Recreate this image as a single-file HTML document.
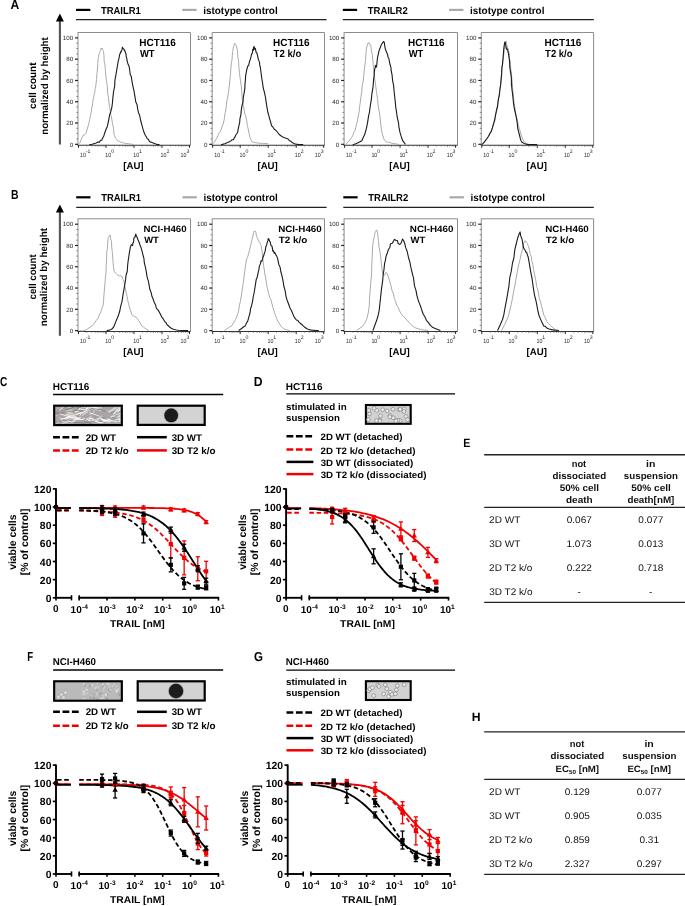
<!DOCTYPE html>
<html><head><meta charset="utf-8"><title>Figure</title>
<style>html,body{margin:0;padding:0;background:#fff;width:685px;height:906px;overflow:hidden}svg{display:block;will-change:transform;text-rendering:geometricPrecision}text{font-family:"Liberation Sans", sans-serif}</style>
</head><body>
<svg width="685" height="906" viewBox="0 0 685 906" font-family='"Liberation Sans", sans-serif'><text x="10.50" y="8.80" font-size="13" font-weight="bold" textLength="8.73" lengthAdjust="spacingAndGlyphs" fill="#000">A</text>
<line x1="59.90" y1="20.50" x2="59.90" y2="144.50" stroke="#555" stroke-width="2.1" stroke-linecap="butt"/>
<path d="M59.9,13.5 L55.9,21.5 L63.9,21.5 Z" stroke="none" stroke-width="1" fill="#000" />
<text transform="translate(35.80,108.90) rotate(-90)" x="0" y="0" font-size="10.0" font-weight="bold" textLength="46.42" lengthAdjust="spacingAndGlyphs" fill="#000">cell count</text>
<text transform="translate(47.90,134.83) rotate(-90)" x="0" y="0" font-size="10.0" font-weight="bold" textLength="97.64" lengthAdjust="spacingAndGlyphs" fill="#000">normalized by height</text>
<line x1="76.00" y1="9.90" x2="90.30" y2="9.90" stroke="#000" stroke-width="2.2" stroke-linecap="butt"/>
<text x="101.01" y="13.60" font-size="10.2" font-weight="bold" textLength="39.75" lengthAdjust="spacingAndGlyphs" fill="#000">TRAILR1</text>
<line x1="182.30" y1="9.90" x2="196.60" y2="9.90" stroke="#aaaaaa" stroke-width="2.2" stroke-linecap="butt"/>
<text x="203.21" y="13.60" font-size="10.2" font-weight="bold" textLength="74.45" lengthAdjust="spacingAndGlyphs" fill="#000">istotype control</text>
<line x1="76.00" y1="19.60" x2="326.60" y2="19.60" stroke="#222" stroke-width="1.3" stroke-linecap="butt"/>
<line x1="342.80" y1="9.90" x2="357.10" y2="9.90" stroke="#000" stroke-width="2.2" stroke-linecap="butt"/>
<text x="367.81" y="13.60" font-size="10.2" font-weight="bold" textLength="39.89" lengthAdjust="spacingAndGlyphs" fill="#000">TRAILR2</text>
<line x1="449.10" y1="9.90" x2="463.40" y2="9.90" stroke="#aaaaaa" stroke-width="2.2" stroke-linecap="butt"/>
<text x="470.01" y="13.60" font-size="10.2" font-weight="bold" textLength="74.45" lengthAdjust="spacingAndGlyphs" fill="#000">istotype control</text>
<line x1="342.80" y1="19.60" x2="593.80" y2="19.60" stroke="#222" stroke-width="1.3" stroke-linecap="butt"/>
<line x1="78.00" y1="32.50" x2="190.50" y2="32.50" stroke="#8c8c8c" stroke-width="1" stroke-linecap="butt"/>
<line x1="190.50" y1="32.50" x2="190.50" y2="145.20" stroke="#8c8c8c" stroke-width="1" stroke-linecap="butt"/>
<line x1="78.00" y1="32.00" x2="78.00" y2="145.20" stroke="#999" stroke-width="1.1" stroke-linecap="butt"/>
<line x1="77.50" y1="145.20" x2="190.50" y2="145.20" stroke="#333" stroke-width="1.1" stroke-linecap="butt"/>
<line x1="75.00" y1="144.30" x2="78.00" y2="144.30" stroke="#222" stroke-width="1.2" stroke-linecap="butt"/>
<text x="69.68" y="146.50" font-size="6.2" fill="#2a2a2a">0</text>
<line x1="76.40" y1="138.98" x2="78.00" y2="138.98" stroke="#666" stroke-width="0.8" stroke-linecap="butt"/>
<line x1="76.40" y1="133.66" x2="78.00" y2="133.66" stroke="#666" stroke-width="0.8" stroke-linecap="butt"/>
<line x1="76.40" y1="128.34" x2="78.00" y2="128.34" stroke="#666" stroke-width="0.8" stroke-linecap="butt"/>
<line x1="75.00" y1="123.02" x2="78.00" y2="123.02" stroke="#222" stroke-width="1.2" stroke-linecap="butt"/>
<text x="66.23" y="125.22" font-size="6.2" fill="#2a2a2a">20</text>
<line x1="76.40" y1="117.70" x2="78.00" y2="117.70" stroke="#666" stroke-width="0.8" stroke-linecap="butt"/>
<line x1="76.40" y1="112.38" x2="78.00" y2="112.38" stroke="#666" stroke-width="0.8" stroke-linecap="butt"/>
<line x1="76.40" y1="107.06" x2="78.00" y2="107.06" stroke="#666" stroke-width="0.8" stroke-linecap="butt"/>
<line x1="75.00" y1="101.74" x2="78.00" y2="101.74" stroke="#222" stroke-width="1.2" stroke-linecap="butt"/>
<text x="66.24" y="103.94" font-size="6.2" fill="#2a2a2a">40</text>
<line x1="76.40" y1="96.42" x2="78.00" y2="96.42" stroke="#666" stroke-width="0.8" stroke-linecap="butt"/>
<line x1="76.40" y1="91.10" x2="78.00" y2="91.10" stroke="#666" stroke-width="0.8" stroke-linecap="butt"/>
<line x1="76.40" y1="85.78" x2="78.00" y2="85.78" stroke="#666" stroke-width="0.8" stroke-linecap="butt"/>
<line x1="75.00" y1="80.46" x2="78.00" y2="80.46" stroke="#222" stroke-width="1.2" stroke-linecap="butt"/>
<text x="66.23" y="82.66" font-size="6.2" fill="#2a2a2a">60</text>
<line x1="76.40" y1="75.14" x2="78.00" y2="75.14" stroke="#666" stroke-width="0.8" stroke-linecap="butt"/>
<line x1="76.40" y1="69.82" x2="78.00" y2="69.82" stroke="#666" stroke-width="0.8" stroke-linecap="butt"/>
<line x1="76.40" y1="64.50" x2="78.00" y2="64.50" stroke="#666" stroke-width="0.8" stroke-linecap="butt"/>
<line x1="75.00" y1="59.18" x2="78.00" y2="59.18" stroke="#222" stroke-width="1.2" stroke-linecap="butt"/>
<text x="66.24" y="61.38" font-size="6.2" fill="#2a2a2a">80</text>
<line x1="76.40" y1="53.86" x2="78.00" y2="53.86" stroke="#666" stroke-width="0.8" stroke-linecap="butt"/>
<line x1="76.40" y1="48.54" x2="78.00" y2="48.54" stroke="#666" stroke-width="0.8" stroke-linecap="butt"/>
<line x1="76.40" y1="43.22" x2="78.00" y2="43.22" stroke="#666" stroke-width="0.8" stroke-linecap="butt"/>
<line x1="75.00" y1="37.90" x2="78.00" y2="37.90" stroke="#222" stroke-width="1.2" stroke-linecap="butt"/>
<text x="62.79" y="40.10" font-size="6.2" fill="#2a2a2a">100</text>
<line x1="78.50" y1="145.20" x2="78.50" y2="147.80" stroke="#222" stroke-width="1" stroke-linecap="butt"/>
<line x1="86.85" y1="145.20" x2="86.85" y2="146.40" stroke="#555" stroke-width="0.7" stroke-linecap="butt"/>
<line x1="91.74" y1="145.20" x2="91.74" y2="146.40" stroke="#555" stroke-width="0.7" stroke-linecap="butt"/>
<line x1="95.21" y1="145.20" x2="95.21" y2="146.40" stroke="#555" stroke-width="0.7" stroke-linecap="butt"/>
<line x1="97.90" y1="145.20" x2="97.90" y2="146.80" stroke="#555" stroke-width="0.7" stroke-linecap="butt"/>
<line x1="100.09" y1="145.20" x2="100.09" y2="146.40" stroke="#555" stroke-width="0.7" stroke-linecap="butt"/>
<line x1="101.95" y1="145.20" x2="101.95" y2="146.40" stroke="#555" stroke-width="0.7" stroke-linecap="butt"/>
<line x1="103.56" y1="145.20" x2="103.56" y2="146.40" stroke="#555" stroke-width="0.7" stroke-linecap="butt"/>
<line x1="104.98" y1="145.20" x2="104.98" y2="146.40" stroke="#555" stroke-width="0.7" stroke-linecap="butt"/>
<line x1="106.00" y1="145.20" x2="106.00" y2="147.80" stroke="#222" stroke-width="1" stroke-linecap="butt"/>
<line x1="114.35" y1="145.20" x2="114.35" y2="146.40" stroke="#555" stroke-width="0.7" stroke-linecap="butt"/>
<line x1="119.24" y1="145.20" x2="119.24" y2="146.40" stroke="#555" stroke-width="0.7" stroke-linecap="butt"/>
<line x1="122.71" y1="145.20" x2="122.71" y2="146.40" stroke="#555" stroke-width="0.7" stroke-linecap="butt"/>
<line x1="125.40" y1="145.20" x2="125.40" y2="146.80" stroke="#555" stroke-width="0.7" stroke-linecap="butt"/>
<line x1="127.59" y1="145.20" x2="127.59" y2="146.40" stroke="#555" stroke-width="0.7" stroke-linecap="butt"/>
<line x1="129.45" y1="145.20" x2="129.45" y2="146.40" stroke="#555" stroke-width="0.7" stroke-linecap="butt"/>
<line x1="131.06" y1="145.20" x2="131.06" y2="146.40" stroke="#555" stroke-width="0.7" stroke-linecap="butt"/>
<line x1="132.48" y1="145.20" x2="132.48" y2="146.40" stroke="#555" stroke-width="0.7" stroke-linecap="butt"/>
<line x1="134.00" y1="145.20" x2="134.00" y2="147.80" stroke="#222" stroke-width="1" stroke-linecap="butt"/>
<line x1="142.35" y1="145.20" x2="142.35" y2="146.40" stroke="#555" stroke-width="0.7" stroke-linecap="butt"/>
<line x1="147.24" y1="145.20" x2="147.24" y2="146.40" stroke="#555" stroke-width="0.7" stroke-linecap="butt"/>
<line x1="150.71" y1="145.20" x2="150.71" y2="146.40" stroke="#555" stroke-width="0.7" stroke-linecap="butt"/>
<line x1="153.40" y1="145.20" x2="153.40" y2="146.80" stroke="#555" stroke-width="0.7" stroke-linecap="butt"/>
<line x1="155.59" y1="145.20" x2="155.59" y2="146.40" stroke="#555" stroke-width="0.7" stroke-linecap="butt"/>
<line x1="157.45" y1="145.20" x2="157.45" y2="146.40" stroke="#555" stroke-width="0.7" stroke-linecap="butt"/>
<line x1="159.06" y1="145.20" x2="159.06" y2="146.40" stroke="#555" stroke-width="0.7" stroke-linecap="butt"/>
<line x1="160.48" y1="145.20" x2="160.48" y2="146.40" stroke="#555" stroke-width="0.7" stroke-linecap="butt"/>
<line x1="162.00" y1="145.20" x2="162.00" y2="147.80" stroke="#222" stroke-width="1" stroke-linecap="butt"/>
<line x1="170.35" y1="145.20" x2="170.35" y2="146.40" stroke="#555" stroke-width="0.7" stroke-linecap="butt"/>
<line x1="175.24" y1="145.20" x2="175.24" y2="146.40" stroke="#555" stroke-width="0.7" stroke-linecap="butt"/>
<line x1="178.71" y1="145.20" x2="178.71" y2="146.40" stroke="#555" stroke-width="0.7" stroke-linecap="butt"/>
<line x1="181.40" y1="145.20" x2="181.40" y2="146.80" stroke="#555" stroke-width="0.7" stroke-linecap="butt"/>
<line x1="183.59" y1="145.20" x2="183.59" y2="146.40" stroke="#555" stroke-width="0.7" stroke-linecap="butt"/>
<line x1="185.45" y1="145.20" x2="185.45" y2="146.40" stroke="#555" stroke-width="0.7" stroke-linecap="butt"/>
<line x1="187.06" y1="145.20" x2="187.06" y2="146.40" stroke="#555" stroke-width="0.7" stroke-linecap="butt"/>
<line x1="188.48" y1="145.20" x2="188.48" y2="146.40" stroke="#555" stroke-width="0.7" stroke-linecap="butt"/>
<line x1="189.50" y1="145.20" x2="189.50" y2="147.80" stroke="#222" stroke-width="1" stroke-linecap="butt"/>
<text x="80.00" y="157.00" font-size="6.2" textLength="5.90" lengthAdjust="spacingAndGlyphs" fill="#2a2a2a">10</text>
<text x="85.87" y="152.80" font-size="5.2" fill="#2a2a2a">-1</text>
<text x="105.30" y="157.00" font-size="6.2" textLength="5.90" lengthAdjust="spacingAndGlyphs" fill="#2a2a2a">10</text>
<text x="111.19" y="152.80" font-size="5.2" fill="#2a2a2a">0</text>
<text x="133.30" y="157.00" font-size="6.2" textLength="5.90" lengthAdjust="spacingAndGlyphs" fill="#2a2a2a">10</text>
<text x="139.01" y="152.80" font-size="5.2" fill="#2a2a2a">1</text>
<text x="160.60" y="157.00" font-size="6.2" textLength="5.90" lengthAdjust="spacingAndGlyphs" fill="#2a2a2a">10</text>
<text x="166.44" y="152.80" font-size="5.2" fill="#2a2a2a">2</text>
<text x="180.60" y="157.00" font-size="6.2" textLength="5.90" lengthAdjust="spacingAndGlyphs" fill="#2a2a2a">10</text>
<text x="186.49" y="152.80" font-size="5.2" fill="#2a2a2a">3</text>
<text x="123.27" y="169.00" font-size="9.7" font-weight="bold" textLength="20.31" lengthAdjust="spacingAndGlyphs" fill="#000">[AU]</text>
<text x="139.25" y="45.80" font-size="10.3" font-weight="bold" textLength="36.63" lengthAdjust="spacingAndGlyphs" fill="#000">HCT116</text>
<text x="139.90" y="57.40" font-size="10.3" font-weight="bold" textLength="14.69" lengthAdjust="spacingAndGlyphs" fill="#000">WT</text>
<path d="M79.6,143.7 L80.0,142.6 L80.8,140.7 L81.2,139.3 L82.1,137.4 L82.9,136.1 L83.2,135.0 L84.0,135.3 L84.4,135.0 L85.5,134.2 L86.3,132.6 L86.7,130.8 L87.9,126.9 L88.7,124.2 L89.6,119.7 L90.4,115.8 L91.2,112.4 L91.8,108.0 L92.6,103.8 L93.0,99.9 L93.8,97.0 L94.2,93.9 L94.9,92.1 L95.1,88.7 L95.7,87.0 L96.0,84.1 L96.5,79.6 L96.9,73.6 L97.5,69.0 L97.8,63.4 L98.1,58.6 L98.5,57.3 L98.9,54.3 L99.3,54.0 L99.5,52.5 L100.0,51.7 L100.2,50.7 L100.5,49.7 L101.2,48.2 L101.6,49.5 L101.7,48.3 L102.5,48.6 L102.6,49.4 L102.8,50.1 L103.5,50.7 L103.6,52.9 L104.0,55.5 L104.1,60.8 L105.0,65.1 L105.4,70.3 L105.8,75.2 L106.4,80.2 L107.2,85.4 L107.6,92.2 L108.4,98.0 L109.0,103.0 L109.8,107.8 L110.4,112.0 L110.9,115.3 L111.8,119.1 L112.5,123.3 L113.2,126.7 L113.7,129.6 L113.9,133.2 L114.6,135.5 L115.6,138.4 L116.8,139.5 L117.7,140.8 L119.2,141.3 L120.7,142.1 L122.3,142.6 L124.4,143.2 L126.9,143.6 L129.4,143.9 L131.6,144.2 L133.2,144.4" stroke="#a9a9a9" stroke-width="1.0" fill="none" stroke-linejoin="round"/>
<path d="M89.4,144.6 L90.5,144.5 L92.0,144.2 L93.8,143.7 L95.6,143.2 L97.1,142.6 L98.3,142.0 L99.7,142.1 L100.3,140.3 L101.7,140.2 L102.5,138.4 L103.8,136.0 L104.6,133.2 L105.9,129.8 L107.2,126.7 L108.0,123.6 L108.8,119.3 L109.6,115.0 L110.7,111.9 L111.8,107.6 L112.4,103.2 L112.9,97.4 L113.6,91.5 L114.7,85.8 L114.9,80.3 L115.8,75.7 L116.6,70.9 L117.2,67.1 L118.0,62.5 L118.2,61.1 L119.1,57.9 L119.5,55.0 L120.2,53.6 L120.5,52.5 L121.0,51.2 L121.2,51.9 L121.9,49.9 L122.1,49.4 L122.4,47.1 L122.8,48.1 L123.3,48.6 L123.7,49.1 L124.3,50.1 L124.7,50.0 L125.1,51.8 L125.4,52.3 L126.1,54.3 L126.1,56.1 L126.8,58.4 L127.0,60.5 L127.5,62.3 L128.2,64.6 L129.1,66.4 L129.6,69.3 L130.2,74.5 L131.2,76.2 L131.8,80.1 L132.2,82.7 L133.0,86.6 L133.8,90.0 L134.4,93.4 L135.0,96.9 L135.8,102.1 L137.0,104.4 L137.6,108.3 L138.5,112.9 L139.5,114.8 L140.5,119.5 L141.2,122.4 L142.1,125.8 L143.2,129.9 L144.2,132.7 L145.2,135.0 L146.1,136.6 L147.2,138.6 L148.5,139.5 L149.6,141.7 L151.2,142.1 L152.6,142.7 L153.9,143.2 L155.1,143.7 L156.2,144.1 L157.2,144.4 L158.2,144.6 L158.9,144.6 L159.5,144.6" stroke="#1a1a1a" stroke-width="1.1" fill="none" stroke-linejoin="round"/>
<line x1="212.20" y1="32.50" x2="324.50" y2="32.50" stroke="#8c8c8c" stroke-width="1" stroke-linecap="butt"/>
<line x1="324.50" y1="32.50" x2="324.50" y2="145.20" stroke="#8c8c8c" stroke-width="1" stroke-linecap="butt"/>
<line x1="212.20" y1="32.00" x2="212.20" y2="145.20" stroke="#999" stroke-width="1.1" stroke-linecap="butt"/>
<line x1="211.70" y1="145.20" x2="324.50" y2="145.20" stroke="#333" stroke-width="1.1" stroke-linecap="butt"/>
<line x1="209.20" y1="144.30" x2="212.20" y2="144.30" stroke="#222" stroke-width="1.2" stroke-linecap="butt"/>
<text x="203.88" y="146.50" font-size="6.2" fill="#2a2a2a">0</text>
<line x1="210.60" y1="138.98" x2="212.20" y2="138.98" stroke="#666" stroke-width="0.8" stroke-linecap="butt"/>
<line x1="210.60" y1="133.66" x2="212.20" y2="133.66" stroke="#666" stroke-width="0.8" stroke-linecap="butt"/>
<line x1="210.60" y1="128.34" x2="212.20" y2="128.34" stroke="#666" stroke-width="0.8" stroke-linecap="butt"/>
<line x1="209.20" y1="123.02" x2="212.20" y2="123.02" stroke="#222" stroke-width="1.2" stroke-linecap="butt"/>
<text x="200.44" y="125.22" font-size="6.2" fill="#2a2a2a">20</text>
<line x1="210.60" y1="117.70" x2="212.20" y2="117.70" stroke="#666" stroke-width="0.8" stroke-linecap="butt"/>
<line x1="210.60" y1="112.38" x2="212.20" y2="112.38" stroke="#666" stroke-width="0.8" stroke-linecap="butt"/>
<line x1="210.60" y1="107.06" x2="212.20" y2="107.06" stroke="#666" stroke-width="0.8" stroke-linecap="butt"/>
<line x1="209.20" y1="101.74" x2="212.20" y2="101.74" stroke="#222" stroke-width="1.2" stroke-linecap="butt"/>
<text x="200.44" y="103.94" font-size="6.2" fill="#2a2a2a">40</text>
<line x1="210.60" y1="96.42" x2="212.20" y2="96.42" stroke="#666" stroke-width="0.8" stroke-linecap="butt"/>
<line x1="210.60" y1="91.10" x2="212.20" y2="91.10" stroke="#666" stroke-width="0.8" stroke-linecap="butt"/>
<line x1="210.60" y1="85.78" x2="212.20" y2="85.78" stroke="#666" stroke-width="0.8" stroke-linecap="butt"/>
<line x1="209.20" y1="80.46" x2="212.20" y2="80.46" stroke="#222" stroke-width="1.2" stroke-linecap="butt"/>
<text x="200.44" y="82.66" font-size="6.2" fill="#2a2a2a">60</text>
<line x1="210.60" y1="75.14" x2="212.20" y2="75.14" stroke="#666" stroke-width="0.8" stroke-linecap="butt"/>
<line x1="210.60" y1="69.82" x2="212.20" y2="69.82" stroke="#666" stroke-width="0.8" stroke-linecap="butt"/>
<line x1="210.60" y1="64.50" x2="212.20" y2="64.50" stroke="#666" stroke-width="0.8" stroke-linecap="butt"/>
<line x1="209.20" y1="59.18" x2="212.20" y2="59.18" stroke="#222" stroke-width="1.2" stroke-linecap="butt"/>
<text x="200.44" y="61.38" font-size="6.2" fill="#2a2a2a">80</text>
<line x1="210.60" y1="53.86" x2="212.20" y2="53.86" stroke="#666" stroke-width="0.8" stroke-linecap="butt"/>
<line x1="210.60" y1="48.54" x2="212.20" y2="48.54" stroke="#666" stroke-width="0.8" stroke-linecap="butt"/>
<line x1="210.60" y1="43.22" x2="212.20" y2="43.22" stroke="#666" stroke-width="0.8" stroke-linecap="butt"/>
<line x1="209.20" y1="37.90" x2="212.20" y2="37.90" stroke="#222" stroke-width="1.2" stroke-linecap="butt"/>
<text x="196.99" y="40.10" font-size="6.2" fill="#2a2a2a">100</text>
<line x1="212.70" y1="145.20" x2="212.70" y2="147.80" stroke="#222" stroke-width="1" stroke-linecap="butt"/>
<line x1="221.05" y1="145.20" x2="221.05" y2="146.40" stroke="#555" stroke-width="0.7" stroke-linecap="butt"/>
<line x1="225.94" y1="145.20" x2="225.94" y2="146.40" stroke="#555" stroke-width="0.7" stroke-linecap="butt"/>
<line x1="229.41" y1="145.20" x2="229.41" y2="146.40" stroke="#555" stroke-width="0.7" stroke-linecap="butt"/>
<line x1="232.10" y1="145.20" x2="232.10" y2="146.80" stroke="#555" stroke-width="0.7" stroke-linecap="butt"/>
<line x1="234.29" y1="145.20" x2="234.29" y2="146.40" stroke="#555" stroke-width="0.7" stroke-linecap="butt"/>
<line x1="236.15" y1="145.20" x2="236.15" y2="146.40" stroke="#555" stroke-width="0.7" stroke-linecap="butt"/>
<line x1="237.76" y1="145.20" x2="237.76" y2="146.40" stroke="#555" stroke-width="0.7" stroke-linecap="butt"/>
<line x1="239.18" y1="145.20" x2="239.18" y2="146.40" stroke="#555" stroke-width="0.7" stroke-linecap="butt"/>
<line x1="240.20" y1="145.20" x2="240.20" y2="147.80" stroke="#222" stroke-width="1" stroke-linecap="butt"/>
<line x1="248.55" y1="145.20" x2="248.55" y2="146.40" stroke="#555" stroke-width="0.7" stroke-linecap="butt"/>
<line x1="253.44" y1="145.20" x2="253.44" y2="146.40" stroke="#555" stroke-width="0.7" stroke-linecap="butt"/>
<line x1="256.91" y1="145.20" x2="256.91" y2="146.40" stroke="#555" stroke-width="0.7" stroke-linecap="butt"/>
<line x1="259.60" y1="145.20" x2="259.60" y2="146.80" stroke="#555" stroke-width="0.7" stroke-linecap="butt"/>
<line x1="261.79" y1="145.20" x2="261.79" y2="146.40" stroke="#555" stroke-width="0.7" stroke-linecap="butt"/>
<line x1="263.65" y1="145.20" x2="263.65" y2="146.40" stroke="#555" stroke-width="0.7" stroke-linecap="butt"/>
<line x1="265.26" y1="145.20" x2="265.26" y2="146.40" stroke="#555" stroke-width="0.7" stroke-linecap="butt"/>
<line x1="266.68" y1="145.20" x2="266.68" y2="146.40" stroke="#555" stroke-width="0.7" stroke-linecap="butt"/>
<line x1="268.20" y1="145.20" x2="268.20" y2="147.80" stroke="#222" stroke-width="1" stroke-linecap="butt"/>
<line x1="276.55" y1="145.20" x2="276.55" y2="146.40" stroke="#555" stroke-width="0.7" stroke-linecap="butt"/>
<line x1="281.44" y1="145.20" x2="281.44" y2="146.40" stroke="#555" stroke-width="0.7" stroke-linecap="butt"/>
<line x1="284.91" y1="145.20" x2="284.91" y2="146.40" stroke="#555" stroke-width="0.7" stroke-linecap="butt"/>
<line x1="287.60" y1="145.20" x2="287.60" y2="146.80" stroke="#555" stroke-width="0.7" stroke-linecap="butt"/>
<line x1="289.79" y1="145.20" x2="289.79" y2="146.40" stroke="#555" stroke-width="0.7" stroke-linecap="butt"/>
<line x1="291.65" y1="145.20" x2="291.65" y2="146.40" stroke="#555" stroke-width="0.7" stroke-linecap="butt"/>
<line x1="293.26" y1="145.20" x2="293.26" y2="146.40" stroke="#555" stroke-width="0.7" stroke-linecap="butt"/>
<line x1="294.68" y1="145.20" x2="294.68" y2="146.40" stroke="#555" stroke-width="0.7" stroke-linecap="butt"/>
<line x1="296.20" y1="145.20" x2="296.20" y2="147.80" stroke="#222" stroke-width="1" stroke-linecap="butt"/>
<line x1="304.55" y1="145.20" x2="304.55" y2="146.40" stroke="#555" stroke-width="0.7" stroke-linecap="butt"/>
<line x1="309.44" y1="145.20" x2="309.44" y2="146.40" stroke="#555" stroke-width="0.7" stroke-linecap="butt"/>
<line x1="312.91" y1="145.20" x2="312.91" y2="146.40" stroke="#555" stroke-width="0.7" stroke-linecap="butt"/>
<line x1="315.60" y1="145.20" x2="315.60" y2="146.80" stroke="#555" stroke-width="0.7" stroke-linecap="butt"/>
<line x1="317.79" y1="145.20" x2="317.79" y2="146.40" stroke="#555" stroke-width="0.7" stroke-linecap="butt"/>
<line x1="319.65" y1="145.20" x2="319.65" y2="146.40" stroke="#555" stroke-width="0.7" stroke-linecap="butt"/>
<line x1="321.26" y1="145.20" x2="321.26" y2="146.40" stroke="#555" stroke-width="0.7" stroke-linecap="butt"/>
<line x1="322.68" y1="145.20" x2="322.68" y2="146.40" stroke="#555" stroke-width="0.7" stroke-linecap="butt"/>
<line x1="323.70" y1="145.20" x2="323.70" y2="147.80" stroke="#222" stroke-width="1" stroke-linecap="butt"/>
<text x="214.20" y="157.00" font-size="6.2" textLength="5.90" lengthAdjust="spacingAndGlyphs" fill="#2a2a2a">10</text>
<text x="220.07" y="152.80" font-size="5.2" fill="#2a2a2a">-1</text>
<text x="239.50" y="157.00" font-size="6.2" textLength="5.90" lengthAdjust="spacingAndGlyphs" fill="#2a2a2a">10</text>
<text x="245.39" y="152.80" font-size="5.2" fill="#2a2a2a">0</text>
<text x="267.50" y="157.00" font-size="6.2" textLength="5.90" lengthAdjust="spacingAndGlyphs" fill="#2a2a2a">10</text>
<text x="273.21" y="152.80" font-size="5.2" fill="#2a2a2a">1</text>
<text x="294.80" y="157.00" font-size="6.2" textLength="5.90" lengthAdjust="spacingAndGlyphs" fill="#2a2a2a">10</text>
<text x="300.64" y="152.80" font-size="5.2" fill="#2a2a2a">2</text>
<text x="314.80" y="157.00" font-size="6.2" textLength="5.90" lengthAdjust="spacingAndGlyphs" fill="#2a2a2a">10</text>
<text x="320.69" y="152.80" font-size="5.2" fill="#2a2a2a">3</text>
<text x="257.47" y="169.00" font-size="9.7" font-weight="bold" textLength="20.31" lengthAdjust="spacingAndGlyphs" fill="#000">[AU]</text>
<text x="273.05" y="45.80" font-size="10.3" font-weight="bold" textLength="36.53" lengthAdjust="spacingAndGlyphs" fill="#000">HCT116</text>
<text x="273.60" y="57.40" font-size="10.3" font-weight="bold" textLength="27.78" lengthAdjust="spacingAndGlyphs" fill="#000">T2 k/o</text>
<path d="M213.5,143.7 L214.1,142.7 L214.9,141.2 L215.8,139.7 L216.6,138.1 L218.0,135.6 L218.7,133.7 L220.0,132.2 L221.1,129.6 L222.1,126.6 L223.5,123.0 L224.4,118.5 L225.0,113.6 L226.1,108.2 L226.7,102.0 L227.7,97.1 L228.6,91.2 L229.4,85.3 L230.0,78.9 L230.6,73.3 L230.8,68.8 L231.4,62.8 L232.0,59.8 L232.3,55.2 L232.8,51.4 L233.2,48.2 L233.7,46.5 L234.0,45.1 L234.3,44.4 L234.2,43.5 L234.9,43.7 L235.1,43.9 L235.4,43.9 L236.0,45.1 L236.2,45.6 L237.1,49.2 L237.6,51.3 L237.8,56.3 L238.6,61.2 L238.9,67.7 L239.5,72.8 L240.2,78.8 L241.2,85.3 L241.8,91.3 L242.1,97.3 L242.8,103.3 L243.8,107.9 L244.6,113.1 L245.9,116.8 L246.8,121.2 L247.3,125.5 L248.1,128.6 L248.8,132.0 L249.4,134.8 L250.0,137.6 L250.8,139.2 L251.3,140.5 L252.0,141.9 L252.7,142.0 L253.6,142.3 L255.1,142.6 L257.4,143.0 L260.3,143.3 L263.5,143.4 L266.3,143.6 L268.2,143.7" stroke="#a9a9a9" stroke-width="1.0" fill="none" stroke-linejoin="round"/>
<path d="M221.1,144.6 L222.0,144.5 L223.3,144.1 L224.8,143.7 L226.3,143.1 L227.7,142.6 L228.9,142.1 L229.8,141.3 L231.0,140.9 L232.1,139.7 L233.4,139.8 L234.0,138.5 L234.9,137.1 L235.7,135.2 L236.9,133.5 L237.7,132.1 L238.1,129.3 L239.0,125.3 L239.7,122.4 L239.9,118.8 L240.9,114.4 L241.3,110.1 L242.0,105.6 L243.0,102.0 L243.4,96.7 L244.1,93.2 L244.8,88.9 L245.0,83.9 L245.4,80.0 L245.7,75.1 L246.1,73.4 L247.0,68.7 L247.6,67.0 L248.1,65.5 L248.8,65.0 L249.5,61.4 L250.2,59.7 L251.1,56.4 L251.7,53.9 L252.2,53.5 L252.8,49.4 L253.4,50.3 L253.5,47.8 L253.8,47.0 L254.1,46.4 L254.6,49.2 L255.1,49.4 L255.3,48.4 L256.2,52.7 L256.9,52.8 L257.5,55.3 L257.8,56.6 L258.4,59.6 L259.5,62.1 L259.7,64.9 L260.3,67.0 L260.9,71.7 L261.1,73.2 L261.7,77.8 L261.9,79.1 L262.5,82.5 L263.3,88.3 L264.3,91.8 L265.5,97.5 L266.2,102.3 L267.1,108.1 L267.9,112.5 L268.7,115.1 L269.5,118.3 L270.6,121.9 L271.5,125.6 L272.7,126.8 L274.1,129.0 L276.1,130.7 L277.3,132.0 L279.2,134.5 L280.9,135.8 L282.8,136.9 L284.6,137.7 L286.1,138.3 L288.1,139.0 L289.5,140.8 L290.7,141.1 L291.8,142.2 L293.1,143.0 L294.5,143.7 L296.2,144.1 L298.2,144.4 L300.2,144.6 L302.0,144.6 L303.2,144.6" stroke="#1a1a1a" stroke-width="1.1" fill="none" stroke-linejoin="round"/>
<line x1="344.10" y1="32.50" x2="457.50" y2="32.50" stroke="#8c8c8c" stroke-width="1" stroke-linecap="butt"/>
<line x1="457.50" y1="32.50" x2="457.50" y2="145.20" stroke="#8c8c8c" stroke-width="1" stroke-linecap="butt"/>
<line x1="344.10" y1="32.00" x2="344.10" y2="145.20" stroke="#999" stroke-width="1.1" stroke-linecap="butt"/>
<line x1="343.60" y1="145.20" x2="457.50" y2="145.20" stroke="#333" stroke-width="1.1" stroke-linecap="butt"/>
<line x1="341.10" y1="144.30" x2="344.10" y2="144.30" stroke="#222" stroke-width="1.2" stroke-linecap="butt"/>
<text x="335.78" y="146.50" font-size="6.2" fill="#2a2a2a">0</text>
<line x1="342.50" y1="138.98" x2="344.10" y2="138.98" stroke="#666" stroke-width="0.8" stroke-linecap="butt"/>
<line x1="342.50" y1="133.66" x2="344.10" y2="133.66" stroke="#666" stroke-width="0.8" stroke-linecap="butt"/>
<line x1="342.50" y1="128.34" x2="344.10" y2="128.34" stroke="#666" stroke-width="0.8" stroke-linecap="butt"/>
<line x1="341.10" y1="123.02" x2="344.10" y2="123.02" stroke="#222" stroke-width="1.2" stroke-linecap="butt"/>
<text x="332.33" y="125.22" font-size="6.2" fill="#2a2a2a">20</text>
<line x1="342.50" y1="117.70" x2="344.10" y2="117.70" stroke="#666" stroke-width="0.8" stroke-linecap="butt"/>
<line x1="342.50" y1="112.38" x2="344.10" y2="112.38" stroke="#666" stroke-width="0.8" stroke-linecap="butt"/>
<line x1="342.50" y1="107.06" x2="344.10" y2="107.06" stroke="#666" stroke-width="0.8" stroke-linecap="butt"/>
<line x1="341.10" y1="101.74" x2="344.10" y2="101.74" stroke="#222" stroke-width="1.2" stroke-linecap="butt"/>
<text x="332.33" y="103.94" font-size="6.2" fill="#2a2a2a">40</text>
<line x1="342.50" y1="96.42" x2="344.10" y2="96.42" stroke="#666" stroke-width="0.8" stroke-linecap="butt"/>
<line x1="342.50" y1="91.10" x2="344.10" y2="91.10" stroke="#666" stroke-width="0.8" stroke-linecap="butt"/>
<line x1="342.50" y1="85.78" x2="344.10" y2="85.78" stroke="#666" stroke-width="0.8" stroke-linecap="butt"/>
<line x1="341.10" y1="80.46" x2="344.10" y2="80.46" stroke="#222" stroke-width="1.2" stroke-linecap="butt"/>
<text x="332.33" y="82.66" font-size="6.2" fill="#2a2a2a">60</text>
<line x1="342.50" y1="75.14" x2="344.10" y2="75.14" stroke="#666" stroke-width="0.8" stroke-linecap="butt"/>
<line x1="342.50" y1="69.82" x2="344.10" y2="69.82" stroke="#666" stroke-width="0.8" stroke-linecap="butt"/>
<line x1="342.50" y1="64.50" x2="344.10" y2="64.50" stroke="#666" stroke-width="0.8" stroke-linecap="butt"/>
<line x1="341.10" y1="59.18" x2="344.10" y2="59.18" stroke="#222" stroke-width="1.2" stroke-linecap="butt"/>
<text x="332.33" y="61.38" font-size="6.2" fill="#2a2a2a">80</text>
<line x1="342.50" y1="53.86" x2="344.10" y2="53.86" stroke="#666" stroke-width="0.8" stroke-linecap="butt"/>
<line x1="342.50" y1="48.54" x2="344.10" y2="48.54" stroke="#666" stroke-width="0.8" stroke-linecap="butt"/>
<line x1="342.50" y1="43.22" x2="344.10" y2="43.22" stroke="#666" stroke-width="0.8" stroke-linecap="butt"/>
<line x1="341.10" y1="37.90" x2="344.10" y2="37.90" stroke="#222" stroke-width="1.2" stroke-linecap="butt"/>
<text x="328.89" y="40.10" font-size="6.2" fill="#2a2a2a">100</text>
<line x1="344.60" y1="145.20" x2="344.60" y2="147.80" stroke="#222" stroke-width="1" stroke-linecap="butt"/>
<line x1="352.95" y1="145.20" x2="352.95" y2="146.40" stroke="#555" stroke-width="0.7" stroke-linecap="butt"/>
<line x1="357.84" y1="145.20" x2="357.84" y2="146.40" stroke="#555" stroke-width="0.7" stroke-linecap="butt"/>
<line x1="361.31" y1="145.20" x2="361.31" y2="146.40" stroke="#555" stroke-width="0.7" stroke-linecap="butt"/>
<line x1="364.00" y1="145.20" x2="364.00" y2="146.80" stroke="#555" stroke-width="0.7" stroke-linecap="butt"/>
<line x1="366.19" y1="145.20" x2="366.19" y2="146.40" stroke="#555" stroke-width="0.7" stroke-linecap="butt"/>
<line x1="368.05" y1="145.20" x2="368.05" y2="146.40" stroke="#555" stroke-width="0.7" stroke-linecap="butt"/>
<line x1="369.66" y1="145.20" x2="369.66" y2="146.40" stroke="#555" stroke-width="0.7" stroke-linecap="butt"/>
<line x1="371.08" y1="145.20" x2="371.08" y2="146.40" stroke="#555" stroke-width="0.7" stroke-linecap="butt"/>
<line x1="372.10" y1="145.20" x2="372.10" y2="147.80" stroke="#222" stroke-width="1" stroke-linecap="butt"/>
<line x1="380.45" y1="145.20" x2="380.45" y2="146.40" stroke="#555" stroke-width="0.7" stroke-linecap="butt"/>
<line x1="385.34" y1="145.20" x2="385.34" y2="146.40" stroke="#555" stroke-width="0.7" stroke-linecap="butt"/>
<line x1="388.81" y1="145.20" x2="388.81" y2="146.40" stroke="#555" stroke-width="0.7" stroke-linecap="butt"/>
<line x1="391.50" y1="145.20" x2="391.50" y2="146.80" stroke="#555" stroke-width="0.7" stroke-linecap="butt"/>
<line x1="393.69" y1="145.20" x2="393.69" y2="146.40" stroke="#555" stroke-width="0.7" stroke-linecap="butt"/>
<line x1="395.55" y1="145.20" x2="395.55" y2="146.40" stroke="#555" stroke-width="0.7" stroke-linecap="butt"/>
<line x1="397.16" y1="145.20" x2="397.16" y2="146.40" stroke="#555" stroke-width="0.7" stroke-linecap="butt"/>
<line x1="398.58" y1="145.20" x2="398.58" y2="146.40" stroke="#555" stroke-width="0.7" stroke-linecap="butt"/>
<line x1="400.10" y1="145.20" x2="400.10" y2="147.80" stroke="#222" stroke-width="1" stroke-linecap="butt"/>
<line x1="408.45" y1="145.20" x2="408.45" y2="146.40" stroke="#555" stroke-width="0.7" stroke-linecap="butt"/>
<line x1="413.34" y1="145.20" x2="413.34" y2="146.40" stroke="#555" stroke-width="0.7" stroke-linecap="butt"/>
<line x1="416.81" y1="145.20" x2="416.81" y2="146.40" stroke="#555" stroke-width="0.7" stroke-linecap="butt"/>
<line x1="419.50" y1="145.20" x2="419.50" y2="146.80" stroke="#555" stroke-width="0.7" stroke-linecap="butt"/>
<line x1="421.69" y1="145.20" x2="421.69" y2="146.40" stroke="#555" stroke-width="0.7" stroke-linecap="butt"/>
<line x1="423.55" y1="145.20" x2="423.55" y2="146.40" stroke="#555" stroke-width="0.7" stroke-linecap="butt"/>
<line x1="425.16" y1="145.20" x2="425.16" y2="146.40" stroke="#555" stroke-width="0.7" stroke-linecap="butt"/>
<line x1="426.58" y1="145.20" x2="426.58" y2="146.40" stroke="#555" stroke-width="0.7" stroke-linecap="butt"/>
<line x1="428.10" y1="145.20" x2="428.10" y2="147.80" stroke="#222" stroke-width="1" stroke-linecap="butt"/>
<line x1="436.45" y1="145.20" x2="436.45" y2="146.40" stroke="#555" stroke-width="0.7" stroke-linecap="butt"/>
<line x1="441.34" y1="145.20" x2="441.34" y2="146.40" stroke="#555" stroke-width="0.7" stroke-linecap="butt"/>
<line x1="444.81" y1="145.20" x2="444.81" y2="146.40" stroke="#555" stroke-width="0.7" stroke-linecap="butt"/>
<line x1="447.50" y1="145.20" x2="447.50" y2="146.80" stroke="#555" stroke-width="0.7" stroke-linecap="butt"/>
<line x1="449.69" y1="145.20" x2="449.69" y2="146.40" stroke="#555" stroke-width="0.7" stroke-linecap="butt"/>
<line x1="451.55" y1="145.20" x2="451.55" y2="146.40" stroke="#555" stroke-width="0.7" stroke-linecap="butt"/>
<line x1="453.16" y1="145.20" x2="453.16" y2="146.40" stroke="#555" stroke-width="0.7" stroke-linecap="butt"/>
<line x1="454.58" y1="145.20" x2="454.58" y2="146.40" stroke="#555" stroke-width="0.7" stroke-linecap="butt"/>
<line x1="455.60" y1="145.20" x2="455.60" y2="147.80" stroke="#222" stroke-width="1" stroke-linecap="butt"/>
<text x="346.10" y="157.00" font-size="6.2" textLength="5.90" lengthAdjust="spacingAndGlyphs" fill="#2a2a2a">10</text>
<text x="351.97" y="152.80" font-size="5.2" fill="#2a2a2a">-1</text>
<text x="371.40" y="157.00" font-size="6.2" textLength="5.90" lengthAdjust="spacingAndGlyphs" fill="#2a2a2a">10</text>
<text x="377.29" y="152.80" font-size="5.2" fill="#2a2a2a">0</text>
<text x="399.40" y="157.00" font-size="6.2" textLength="5.90" lengthAdjust="spacingAndGlyphs" fill="#2a2a2a">10</text>
<text x="405.11" y="152.80" font-size="5.2" fill="#2a2a2a">1</text>
<text x="426.70" y="157.00" font-size="6.2" textLength="5.90" lengthAdjust="spacingAndGlyphs" fill="#2a2a2a">10</text>
<text x="432.54" y="152.80" font-size="5.2" fill="#2a2a2a">2</text>
<text x="446.70" y="157.00" font-size="6.2" textLength="5.90" lengthAdjust="spacingAndGlyphs" fill="#2a2a2a">10</text>
<text x="452.59" y="152.80" font-size="5.2" fill="#2a2a2a">3</text>
<text x="389.37" y="169.00" font-size="9.7" font-weight="bold" textLength="20.31" lengthAdjust="spacingAndGlyphs" fill="#000">[AU]</text>
<text x="408.05" y="45.80" font-size="10.3" font-weight="bold" textLength="36.53" lengthAdjust="spacingAndGlyphs" fill="#000">HCT116</text>
<text x="408.70" y="57.40" font-size="10.3" font-weight="bold" textLength="14.69" lengthAdjust="spacingAndGlyphs" fill="#000">WT</text>
<path d="M345.8,144.6 L347.0,143.2 L348.8,141.2 L350.8,138.7 L352.6,135.9 L353.9,132.4 L355.1,130.3 L355.8,127.3 L356.7,123.6 L357.6,120.2 L358.2,115.8 L359.2,111.8 L359.5,107.8 L360.2,102.9 L360.8,97.7 L361.8,91.6 L362.1,86.3 L363.2,81.4 L363.9,74.3 L364.4,68.9 L365.1,63.3 L365.6,59.7 L365.8,56.0 L366.1,51.5 L366.5,48.0 L367.2,45.9 L367.6,43.6 L367.9,43.1 L368.4,43.5 L368.9,42.4 L369.1,43.4 L369.5,44.4 L370.3,44.8 L370.7,44.7 L371.0,47.4 L371.3,49.8 L372.3,54.4 L372.8,59.8 L373.5,67.1 L373.9,72.6 L374.8,79.1 L375.6,84.9 L376.6,92.7 L377.5,98.5 L378.1,105.3 L379.3,112.1 L380.2,117.9 L380.7,124.1 L381.4,129.4 L382.3,134.1 L383.7,138.3 L384.4,140.3 L385.9,141.7 L387.2,142.1 L388.6,142.2 L390.1,142.6 L391.8,143.2 L393.8,143.6 L395.8,143.9 L397.6,144.2 L398.8,144.4" stroke="#a9a9a9" stroke-width="1.0" fill="none" stroke-linejoin="round"/>
<path d="M352.8,144.6 L354.1,144.3 L355.9,143.7 L358.0,142.8 L360.0,141.8 L361.8,140.7 L362.7,138.7 L363.8,136.2 L364.7,134.6 L365.4,132.0 L366.2,129.2 L366.7,126.8 L367.5,123.2 L368.1,119.2 L368.5,116.4 L369.4,112.5 L369.9,108.5 L370.8,102.7 L371.3,99.6 L371.9,93.6 L372.5,90.3 L373.1,86.3 L373.6,79.6 L374.2,75.2 L374.3,72.3 L374.8,68.6 L375.3,67.5 L375.3,65.3 L375.6,67.2 L375.9,67.2 L376.5,67.0 L377.0,62.6 L377.2,60.0 L377.7,56.9 L378.6,52.7 L378.9,51.3 L379.6,49.2 L381.0,45.6 L381.6,44.5 L382.6,42.6 L383.7,41.5 L384.2,42.1 L384.8,46.1 L385.4,49.2 L386.4,51.8 L387.0,53.3 L387.6,54.6 L388.1,57.5 L388.9,58.5 L389.2,60.6 L390.0,64.5 L390.9,67.4 L391.2,70.7 L392.1,75.2 L392.6,80.5 L393.6,85.6 L394.0,90.2 L394.7,96.8 L395.2,101.0 L395.7,106.8 L396.5,111.8 L397.3,117.7 L398.5,122.8 L399.1,128.2 L400.0,132.4 L401.0,135.9 L402.2,139.2 L402.7,140.6 L404.0,142.4 L404.8,143.5 L405.4,144.4" stroke="#1a1a1a" stroke-width="1.1" fill="none" stroke-linejoin="round"/>
<line x1="481.30" y1="32.50" x2="593.60" y2="32.50" stroke="#8c8c8c" stroke-width="1" stroke-linecap="butt"/>
<line x1="593.60" y1="32.50" x2="593.60" y2="145.20" stroke="#8c8c8c" stroke-width="1" stroke-linecap="butt"/>
<line x1="481.30" y1="32.00" x2="481.30" y2="145.20" stroke="#999" stroke-width="1.1" stroke-linecap="butt"/>
<line x1="480.80" y1="145.20" x2="593.60" y2="145.20" stroke="#333" stroke-width="1.1" stroke-linecap="butt"/>
<line x1="478.30" y1="144.30" x2="481.30" y2="144.30" stroke="#222" stroke-width="1.2" stroke-linecap="butt"/>
<text x="472.98" y="146.50" font-size="6.2" fill="#2a2a2a">0</text>
<line x1="479.70" y1="138.98" x2="481.30" y2="138.98" stroke="#666" stroke-width="0.8" stroke-linecap="butt"/>
<line x1="479.70" y1="133.66" x2="481.30" y2="133.66" stroke="#666" stroke-width="0.8" stroke-linecap="butt"/>
<line x1="479.70" y1="128.34" x2="481.30" y2="128.34" stroke="#666" stroke-width="0.8" stroke-linecap="butt"/>
<line x1="478.30" y1="123.02" x2="481.30" y2="123.02" stroke="#222" stroke-width="1.2" stroke-linecap="butt"/>
<text x="469.53" y="125.22" font-size="6.2" fill="#2a2a2a">20</text>
<line x1="479.70" y1="117.70" x2="481.30" y2="117.70" stroke="#666" stroke-width="0.8" stroke-linecap="butt"/>
<line x1="479.70" y1="112.38" x2="481.30" y2="112.38" stroke="#666" stroke-width="0.8" stroke-linecap="butt"/>
<line x1="479.70" y1="107.06" x2="481.30" y2="107.06" stroke="#666" stroke-width="0.8" stroke-linecap="butt"/>
<line x1="478.30" y1="101.74" x2="481.30" y2="101.74" stroke="#222" stroke-width="1.2" stroke-linecap="butt"/>
<text x="469.53" y="103.94" font-size="6.2" fill="#2a2a2a">40</text>
<line x1="479.70" y1="96.42" x2="481.30" y2="96.42" stroke="#666" stroke-width="0.8" stroke-linecap="butt"/>
<line x1="479.70" y1="91.10" x2="481.30" y2="91.10" stroke="#666" stroke-width="0.8" stroke-linecap="butt"/>
<line x1="479.70" y1="85.78" x2="481.30" y2="85.78" stroke="#666" stroke-width="0.8" stroke-linecap="butt"/>
<line x1="478.30" y1="80.46" x2="481.30" y2="80.46" stroke="#222" stroke-width="1.2" stroke-linecap="butt"/>
<text x="469.53" y="82.66" font-size="6.2" fill="#2a2a2a">60</text>
<line x1="479.70" y1="75.14" x2="481.30" y2="75.14" stroke="#666" stroke-width="0.8" stroke-linecap="butt"/>
<line x1="479.70" y1="69.82" x2="481.30" y2="69.82" stroke="#666" stroke-width="0.8" stroke-linecap="butt"/>
<line x1="479.70" y1="64.50" x2="481.30" y2="64.50" stroke="#666" stroke-width="0.8" stroke-linecap="butt"/>
<line x1="478.30" y1="59.18" x2="481.30" y2="59.18" stroke="#222" stroke-width="1.2" stroke-linecap="butt"/>
<text x="469.53" y="61.38" font-size="6.2" fill="#2a2a2a">80</text>
<line x1="479.70" y1="53.86" x2="481.30" y2="53.86" stroke="#666" stroke-width="0.8" stroke-linecap="butt"/>
<line x1="479.70" y1="48.54" x2="481.30" y2="48.54" stroke="#666" stroke-width="0.8" stroke-linecap="butt"/>
<line x1="479.70" y1="43.22" x2="481.30" y2="43.22" stroke="#666" stroke-width="0.8" stroke-linecap="butt"/>
<line x1="478.30" y1="37.90" x2="481.30" y2="37.90" stroke="#222" stroke-width="1.2" stroke-linecap="butt"/>
<text x="466.09" y="40.10" font-size="6.2" fill="#2a2a2a">100</text>
<line x1="481.80" y1="145.20" x2="481.80" y2="147.80" stroke="#222" stroke-width="1" stroke-linecap="butt"/>
<line x1="490.15" y1="145.20" x2="490.15" y2="146.40" stroke="#555" stroke-width="0.7" stroke-linecap="butt"/>
<line x1="495.04" y1="145.20" x2="495.04" y2="146.40" stroke="#555" stroke-width="0.7" stroke-linecap="butt"/>
<line x1="498.51" y1="145.20" x2="498.51" y2="146.40" stroke="#555" stroke-width="0.7" stroke-linecap="butt"/>
<line x1="501.20" y1="145.20" x2="501.20" y2="146.80" stroke="#555" stroke-width="0.7" stroke-linecap="butt"/>
<line x1="503.39" y1="145.20" x2="503.39" y2="146.40" stroke="#555" stroke-width="0.7" stroke-linecap="butt"/>
<line x1="505.25" y1="145.20" x2="505.25" y2="146.40" stroke="#555" stroke-width="0.7" stroke-linecap="butt"/>
<line x1="506.86" y1="145.20" x2="506.86" y2="146.40" stroke="#555" stroke-width="0.7" stroke-linecap="butt"/>
<line x1="508.28" y1="145.20" x2="508.28" y2="146.40" stroke="#555" stroke-width="0.7" stroke-linecap="butt"/>
<line x1="509.30" y1="145.20" x2="509.30" y2="147.80" stroke="#222" stroke-width="1" stroke-linecap="butt"/>
<line x1="517.65" y1="145.20" x2="517.65" y2="146.40" stroke="#555" stroke-width="0.7" stroke-linecap="butt"/>
<line x1="522.54" y1="145.20" x2="522.54" y2="146.40" stroke="#555" stroke-width="0.7" stroke-linecap="butt"/>
<line x1="526.01" y1="145.20" x2="526.01" y2="146.40" stroke="#555" stroke-width="0.7" stroke-linecap="butt"/>
<line x1="528.70" y1="145.20" x2="528.70" y2="146.80" stroke="#555" stroke-width="0.7" stroke-linecap="butt"/>
<line x1="530.89" y1="145.20" x2="530.89" y2="146.40" stroke="#555" stroke-width="0.7" stroke-linecap="butt"/>
<line x1="532.75" y1="145.20" x2="532.75" y2="146.40" stroke="#555" stroke-width="0.7" stroke-linecap="butt"/>
<line x1="534.36" y1="145.20" x2="534.36" y2="146.40" stroke="#555" stroke-width="0.7" stroke-linecap="butt"/>
<line x1="535.78" y1="145.20" x2="535.78" y2="146.40" stroke="#555" stroke-width="0.7" stroke-linecap="butt"/>
<line x1="537.30" y1="145.20" x2="537.30" y2="147.80" stroke="#222" stroke-width="1" stroke-linecap="butt"/>
<line x1="545.65" y1="145.20" x2="545.65" y2="146.40" stroke="#555" stroke-width="0.7" stroke-linecap="butt"/>
<line x1="550.54" y1="145.20" x2="550.54" y2="146.40" stroke="#555" stroke-width="0.7" stroke-linecap="butt"/>
<line x1="554.01" y1="145.20" x2="554.01" y2="146.40" stroke="#555" stroke-width="0.7" stroke-linecap="butt"/>
<line x1="556.70" y1="145.20" x2="556.70" y2="146.80" stroke="#555" stroke-width="0.7" stroke-linecap="butt"/>
<line x1="558.89" y1="145.20" x2="558.89" y2="146.40" stroke="#555" stroke-width="0.7" stroke-linecap="butt"/>
<line x1="560.75" y1="145.20" x2="560.75" y2="146.40" stroke="#555" stroke-width="0.7" stroke-linecap="butt"/>
<line x1="562.36" y1="145.20" x2="562.36" y2="146.40" stroke="#555" stroke-width="0.7" stroke-linecap="butt"/>
<line x1="563.78" y1="145.20" x2="563.78" y2="146.40" stroke="#555" stroke-width="0.7" stroke-linecap="butt"/>
<line x1="565.30" y1="145.20" x2="565.30" y2="147.80" stroke="#222" stroke-width="1" stroke-linecap="butt"/>
<line x1="573.65" y1="145.20" x2="573.65" y2="146.40" stroke="#555" stroke-width="0.7" stroke-linecap="butt"/>
<line x1="578.54" y1="145.20" x2="578.54" y2="146.40" stroke="#555" stroke-width="0.7" stroke-linecap="butt"/>
<line x1="582.01" y1="145.20" x2="582.01" y2="146.40" stroke="#555" stroke-width="0.7" stroke-linecap="butt"/>
<line x1="584.70" y1="145.20" x2="584.70" y2="146.80" stroke="#555" stroke-width="0.7" stroke-linecap="butt"/>
<line x1="586.89" y1="145.20" x2="586.89" y2="146.40" stroke="#555" stroke-width="0.7" stroke-linecap="butt"/>
<line x1="588.75" y1="145.20" x2="588.75" y2="146.40" stroke="#555" stroke-width="0.7" stroke-linecap="butt"/>
<line x1="590.36" y1="145.20" x2="590.36" y2="146.40" stroke="#555" stroke-width="0.7" stroke-linecap="butt"/>
<line x1="591.78" y1="145.20" x2="591.78" y2="146.40" stroke="#555" stroke-width="0.7" stroke-linecap="butt"/>
<line x1="592.80" y1="145.20" x2="592.80" y2="147.80" stroke="#222" stroke-width="1" stroke-linecap="butt"/>
<text x="483.30" y="157.00" font-size="6.2" textLength="5.90" lengthAdjust="spacingAndGlyphs" fill="#2a2a2a">10</text>
<text x="489.17" y="152.80" font-size="5.2" fill="#2a2a2a">-1</text>
<text x="508.60" y="157.00" font-size="6.2" textLength="5.90" lengthAdjust="spacingAndGlyphs" fill="#2a2a2a">10</text>
<text x="514.49" y="152.80" font-size="5.2" fill="#2a2a2a">0</text>
<text x="536.60" y="157.00" font-size="6.2" textLength="5.90" lengthAdjust="spacingAndGlyphs" fill="#2a2a2a">10</text>
<text x="542.31" y="152.80" font-size="5.2" fill="#2a2a2a">1</text>
<text x="563.90" y="157.00" font-size="6.2" textLength="5.90" lengthAdjust="spacingAndGlyphs" fill="#2a2a2a">10</text>
<text x="569.74" y="152.80" font-size="5.2" fill="#2a2a2a">2</text>
<text x="583.90" y="157.00" font-size="6.2" textLength="5.90" lengthAdjust="spacingAndGlyphs" fill="#2a2a2a">10</text>
<text x="589.79" y="152.80" font-size="5.2" fill="#2a2a2a">3</text>
<text x="526.57" y="169.00" font-size="9.7" font-weight="bold" textLength="20.31" lengthAdjust="spacingAndGlyphs" fill="#000">[AU]</text>
<text x="544.55" y="45.80" font-size="10.3" font-weight="bold" textLength="36.74" lengthAdjust="spacingAndGlyphs" fill="#000">HCT116</text>
<text x="545.11" y="57.40" font-size="10.3" font-weight="bold" textLength="27.37" lengthAdjust="spacingAndGlyphs" fill="#000">T2 k/o</text>
<path d="M481.7,144.6 L482.9,143.6 L484.6,141.7 L486.3,139.2 L488.2,136.8 L489.9,133.9 L491.3,130.5 L492.4,127.3 L493.3,123.9 L494.7,120.4 L495.4,115.9 L496.7,111.7 L497.4,106.3 L498.1,101.2 L499.1,95.6 L499.7,89.5 L500.6,85.0 L501.0,80.3 L501.3,76.7 L501.5,72.3 L502.0,67.5 L502.5,64.5 L503.1,59.8 L503.4,56.3 L504.0,53.5 L504.3,49.5 L504.8,47.6 L504.8,45.8 L505.0,44.6 L505.6,42.4 L505.8,41.2 L506.2,41.1 L506.5,43.2 L506.7,44.6 L507.2,45.8 L507.5,47.2 L508.1,49.3 L508.4,50.5 L508.8,51.9 L509.4,55.4 L509.5,58.6 L510.1,61.1 L510.4,64.3 L510.7,68.6 L511.5,72.8 L511.7,77.4 L512.4,82.7 L512.6,87.4 L513.2,93.4 L513.7,99.0 L514.1,103.3 L515.0,108.1 L515.5,113.4 L516.5,117.0 L517.6,121.3 L518.4,125.4 L519.3,128.3 L520.3,131.8 L521.2,135.1 L522.1,137.2 L522.8,139.4 L524.1,141.3 L524.8,142.2 L525.8,143.1 L526.9,143.8 L528.3,144.4 L530.1,144.6 L532.4,144.6 L534.7,144.6 L536.7,144.6 L538.1,144.6" stroke="#a9a9a9" stroke-width="1.0" fill="none" stroke-linejoin="round"/>
<path d="M481.7,144.6 L482.9,143.6 L484.6,141.7 L486.7,139.0 L488.5,136.2 L489.9,133.4 L491.2,131.6 L492.4,127.9 L493.5,124.2 L494.7,120.0 L495.4,115.6 L496.4,110.7 L497.6,106.0 L498.2,100.4 L499.4,94.6 L500.0,89.0 L500.6,85.1 L501.0,80.7 L501.4,76.9 L501.7,73.6 L501.9,67.3 L502.5,64.3 L503.2,56.5 L503.5,52.0 L503.8,48.3 L504.5,43.7 L504.9,42.0 L505.3,42.5 L505.9,45.8 L506.1,48.1 L506.3,47.6 L506.9,49.5 L507.5,49.0 L507.9,51.4 L508.0,52.0 L508.5,53.6 L509.0,57.4 L509.6,61.4 L509.8,66.9 L510.2,70.0 L511.0,75.1 L511.4,78.6 L511.4,83.8 L512.0,89.8 L512.5,93.5 L513.0,98.3 L513.5,102.9 L514.1,107.1 L514.6,110.0 L515.6,113.9 L516.5,118.3 L517.2,122.8 L517.7,128.2 L518.5,131.4 L519.7,136.0 L520.6,139.6 L521.6,141.9 L523.0,142.7 L524.3,143.4 L525.7,143.9 L527.3,144.4 L529.2,144.6 L531.5,144.6 L533.7,144.6 L535.7,144.6 L537.1,144.6" stroke="#1a1a1a" stroke-width="1.1" fill="none" stroke-linejoin="round"/>
<text x="10.92" y="198.50" font-size="13" font-weight="bold" textLength="7.58" lengthAdjust="spacingAndGlyphs" fill="#000">B</text>
<line x1="59.90" y1="211.50" x2="59.90" y2="335.80" stroke="#555" stroke-width="2.1" stroke-linecap="butt"/>
<path d="M59.9,204.5 L55.9,212.5 L63.9,212.5 Z" stroke="none" stroke-width="1" fill="#000" />
<text transform="translate(35.90,299.49) rotate(-90)" x="0" y="0" font-size="10.0" font-weight="bold" textLength="45.11" lengthAdjust="spacingAndGlyphs" fill="#000">cell count</text>
<text transform="translate(46.60,326.24) rotate(-90)" x="0" y="0" font-size="10.0" font-weight="bold" textLength="98.15" lengthAdjust="spacingAndGlyphs" fill="#000">normalized by height</text>
<line x1="76.20" y1="197.30" x2="90.50" y2="197.30" stroke="#000" stroke-width="2.2" stroke-linecap="butt"/>
<text x="101.21" y="200.50" font-size="10.2" font-weight="bold" textLength="39.75" lengthAdjust="spacingAndGlyphs" fill="#000">TRAILR1</text>
<line x1="182.50" y1="197.30" x2="196.80" y2="197.30" stroke="#aaaaaa" stroke-width="2.2" stroke-linecap="butt"/>
<text x="203.41" y="200.50" font-size="10.2" font-weight="bold" textLength="74.45" lengthAdjust="spacingAndGlyphs" fill="#000">istotype control</text>
<line x1="76.20" y1="207.30" x2="326.60" y2="207.30" stroke="#222" stroke-width="1.3" stroke-linecap="butt"/>
<line x1="343.30" y1="197.30" x2="357.60" y2="197.30" stroke="#000" stroke-width="2.2" stroke-linecap="butt"/>
<text x="368.31" y="200.50" font-size="10.2" font-weight="bold" textLength="39.89" lengthAdjust="spacingAndGlyphs" fill="#000">TRAILR2</text>
<line x1="449.60" y1="197.30" x2="463.90" y2="197.30" stroke="#aaaaaa" stroke-width="2.2" stroke-linecap="butt"/>
<text x="470.51" y="200.50" font-size="10.2" font-weight="bold" textLength="74.45" lengthAdjust="spacingAndGlyphs" fill="#000">istotype control</text>
<line x1="343.30" y1="207.30" x2="593.80" y2="207.30" stroke="#222" stroke-width="1.3" stroke-linecap="butt"/>
<line x1="78.00" y1="218.80" x2="190.50" y2="218.80" stroke="#8c8c8c" stroke-width="1" stroke-linecap="butt"/>
<line x1="190.50" y1="218.80" x2="190.50" y2="331.50" stroke="#8c8c8c" stroke-width="1" stroke-linecap="butt"/>
<line x1="78.00" y1="218.30" x2="78.00" y2="331.50" stroke="#999" stroke-width="1.1" stroke-linecap="butt"/>
<line x1="77.50" y1="331.50" x2="190.50" y2="331.50" stroke="#333" stroke-width="1.1" stroke-linecap="butt"/>
<line x1="75.00" y1="330.60" x2="78.00" y2="330.60" stroke="#222" stroke-width="1.2" stroke-linecap="butt"/>
<text x="69.68" y="332.80" font-size="6.2" fill="#2a2a2a">0</text>
<line x1="76.40" y1="325.28" x2="78.00" y2="325.28" stroke="#666" stroke-width="0.8" stroke-linecap="butt"/>
<line x1="76.40" y1="319.96" x2="78.00" y2="319.96" stroke="#666" stroke-width="0.8" stroke-linecap="butt"/>
<line x1="76.40" y1="314.64" x2="78.00" y2="314.64" stroke="#666" stroke-width="0.8" stroke-linecap="butt"/>
<line x1="75.00" y1="309.32" x2="78.00" y2="309.32" stroke="#222" stroke-width="1.2" stroke-linecap="butt"/>
<text x="66.23" y="311.52" font-size="6.2" fill="#2a2a2a">20</text>
<line x1="76.40" y1="304.00" x2="78.00" y2="304.00" stroke="#666" stroke-width="0.8" stroke-linecap="butt"/>
<line x1="76.40" y1="298.68" x2="78.00" y2="298.68" stroke="#666" stroke-width="0.8" stroke-linecap="butt"/>
<line x1="76.40" y1="293.36" x2="78.00" y2="293.36" stroke="#666" stroke-width="0.8" stroke-linecap="butt"/>
<line x1="75.00" y1="288.04" x2="78.00" y2="288.04" stroke="#222" stroke-width="1.2" stroke-linecap="butt"/>
<text x="66.24" y="290.24" font-size="6.2" fill="#2a2a2a">40</text>
<line x1="76.40" y1="282.72" x2="78.00" y2="282.72" stroke="#666" stroke-width="0.8" stroke-linecap="butt"/>
<line x1="76.40" y1="277.40" x2="78.00" y2="277.40" stroke="#666" stroke-width="0.8" stroke-linecap="butt"/>
<line x1="76.40" y1="272.08" x2="78.00" y2="272.08" stroke="#666" stroke-width="0.8" stroke-linecap="butt"/>
<line x1="75.00" y1="266.76" x2="78.00" y2="266.76" stroke="#222" stroke-width="1.2" stroke-linecap="butt"/>
<text x="66.23" y="268.96" font-size="6.2" fill="#2a2a2a">60</text>
<line x1="76.40" y1="261.44" x2="78.00" y2="261.44" stroke="#666" stroke-width="0.8" stroke-linecap="butt"/>
<line x1="76.40" y1="256.12" x2="78.00" y2="256.12" stroke="#666" stroke-width="0.8" stroke-linecap="butt"/>
<line x1="76.40" y1="250.80" x2="78.00" y2="250.80" stroke="#666" stroke-width="0.8" stroke-linecap="butt"/>
<line x1="75.00" y1="245.48" x2="78.00" y2="245.48" stroke="#222" stroke-width="1.2" stroke-linecap="butt"/>
<text x="66.24" y="247.68" font-size="6.2" fill="#2a2a2a">80</text>
<line x1="76.40" y1="240.16" x2="78.00" y2="240.16" stroke="#666" stroke-width="0.8" stroke-linecap="butt"/>
<line x1="76.40" y1="234.84" x2="78.00" y2="234.84" stroke="#666" stroke-width="0.8" stroke-linecap="butt"/>
<line x1="76.40" y1="229.52" x2="78.00" y2="229.52" stroke="#666" stroke-width="0.8" stroke-linecap="butt"/>
<line x1="75.00" y1="224.20" x2="78.00" y2="224.20" stroke="#222" stroke-width="1.2" stroke-linecap="butt"/>
<text x="62.79" y="226.40" font-size="6.2" fill="#2a2a2a">100</text>
<line x1="78.50" y1="331.50" x2="78.50" y2="334.10" stroke="#222" stroke-width="1" stroke-linecap="butt"/>
<line x1="86.85" y1="331.50" x2="86.85" y2="332.70" stroke="#555" stroke-width="0.7" stroke-linecap="butt"/>
<line x1="91.74" y1="331.50" x2="91.74" y2="332.70" stroke="#555" stroke-width="0.7" stroke-linecap="butt"/>
<line x1="95.21" y1="331.50" x2="95.21" y2="332.70" stroke="#555" stroke-width="0.7" stroke-linecap="butt"/>
<line x1="97.90" y1="331.50" x2="97.90" y2="333.10" stroke="#555" stroke-width="0.7" stroke-linecap="butt"/>
<line x1="100.09" y1="331.50" x2="100.09" y2="332.70" stroke="#555" stroke-width="0.7" stroke-linecap="butt"/>
<line x1="101.95" y1="331.50" x2="101.95" y2="332.70" stroke="#555" stroke-width="0.7" stroke-linecap="butt"/>
<line x1="103.56" y1="331.50" x2="103.56" y2="332.70" stroke="#555" stroke-width="0.7" stroke-linecap="butt"/>
<line x1="104.98" y1="331.50" x2="104.98" y2="332.70" stroke="#555" stroke-width="0.7" stroke-linecap="butt"/>
<line x1="106.00" y1="331.50" x2="106.00" y2="334.10" stroke="#222" stroke-width="1" stroke-linecap="butt"/>
<line x1="114.35" y1="331.50" x2="114.35" y2="332.70" stroke="#555" stroke-width="0.7" stroke-linecap="butt"/>
<line x1="119.24" y1="331.50" x2="119.24" y2="332.70" stroke="#555" stroke-width="0.7" stroke-linecap="butt"/>
<line x1="122.71" y1="331.50" x2="122.71" y2="332.70" stroke="#555" stroke-width="0.7" stroke-linecap="butt"/>
<line x1="125.40" y1="331.50" x2="125.40" y2="333.10" stroke="#555" stroke-width="0.7" stroke-linecap="butt"/>
<line x1="127.59" y1="331.50" x2="127.59" y2="332.70" stroke="#555" stroke-width="0.7" stroke-linecap="butt"/>
<line x1="129.45" y1="331.50" x2="129.45" y2="332.70" stroke="#555" stroke-width="0.7" stroke-linecap="butt"/>
<line x1="131.06" y1="331.50" x2="131.06" y2="332.70" stroke="#555" stroke-width="0.7" stroke-linecap="butt"/>
<line x1="132.48" y1="331.50" x2="132.48" y2="332.70" stroke="#555" stroke-width="0.7" stroke-linecap="butt"/>
<line x1="134.00" y1="331.50" x2="134.00" y2="334.10" stroke="#222" stroke-width="1" stroke-linecap="butt"/>
<line x1="142.35" y1="331.50" x2="142.35" y2="332.70" stroke="#555" stroke-width="0.7" stroke-linecap="butt"/>
<line x1="147.24" y1="331.50" x2="147.24" y2="332.70" stroke="#555" stroke-width="0.7" stroke-linecap="butt"/>
<line x1="150.71" y1="331.50" x2="150.71" y2="332.70" stroke="#555" stroke-width="0.7" stroke-linecap="butt"/>
<line x1="153.40" y1="331.50" x2="153.40" y2="333.10" stroke="#555" stroke-width="0.7" stroke-linecap="butt"/>
<line x1="155.59" y1="331.50" x2="155.59" y2="332.70" stroke="#555" stroke-width="0.7" stroke-linecap="butt"/>
<line x1="157.45" y1="331.50" x2="157.45" y2="332.70" stroke="#555" stroke-width="0.7" stroke-linecap="butt"/>
<line x1="159.06" y1="331.50" x2="159.06" y2="332.70" stroke="#555" stroke-width="0.7" stroke-linecap="butt"/>
<line x1="160.48" y1="331.50" x2="160.48" y2="332.70" stroke="#555" stroke-width="0.7" stroke-linecap="butt"/>
<line x1="162.00" y1="331.50" x2="162.00" y2="334.10" stroke="#222" stroke-width="1" stroke-linecap="butt"/>
<line x1="170.35" y1="331.50" x2="170.35" y2="332.70" stroke="#555" stroke-width="0.7" stroke-linecap="butt"/>
<line x1="175.24" y1="331.50" x2="175.24" y2="332.70" stroke="#555" stroke-width="0.7" stroke-linecap="butt"/>
<line x1="178.71" y1="331.50" x2="178.71" y2="332.70" stroke="#555" stroke-width="0.7" stroke-linecap="butt"/>
<line x1="181.40" y1="331.50" x2="181.40" y2="333.10" stroke="#555" stroke-width="0.7" stroke-linecap="butt"/>
<line x1="183.59" y1="331.50" x2="183.59" y2="332.70" stroke="#555" stroke-width="0.7" stroke-linecap="butt"/>
<line x1="185.45" y1="331.50" x2="185.45" y2="332.70" stroke="#555" stroke-width="0.7" stroke-linecap="butt"/>
<line x1="187.06" y1="331.50" x2="187.06" y2="332.70" stroke="#555" stroke-width="0.7" stroke-linecap="butt"/>
<line x1="188.48" y1="331.50" x2="188.48" y2="332.70" stroke="#555" stroke-width="0.7" stroke-linecap="butt"/>
<line x1="189.50" y1="331.50" x2="189.50" y2="334.10" stroke="#222" stroke-width="1" stroke-linecap="butt"/>
<text x="80.00" y="343.30" font-size="6.2" textLength="5.90" lengthAdjust="spacingAndGlyphs" fill="#2a2a2a">10</text>
<text x="85.87" y="339.10" font-size="5.2" fill="#2a2a2a">-1</text>
<text x="105.30" y="343.30" font-size="6.2" textLength="5.90" lengthAdjust="spacingAndGlyphs" fill="#2a2a2a">10</text>
<text x="111.19" y="339.10" font-size="5.2" fill="#2a2a2a">0</text>
<text x="133.30" y="343.30" font-size="6.2" textLength="5.90" lengthAdjust="spacingAndGlyphs" fill="#2a2a2a">10</text>
<text x="139.01" y="339.10" font-size="5.2" fill="#2a2a2a">1</text>
<text x="160.60" y="343.30" font-size="6.2" textLength="5.90" lengthAdjust="spacingAndGlyphs" fill="#2a2a2a">10</text>
<text x="166.44" y="339.10" font-size="5.2" fill="#2a2a2a">2</text>
<text x="180.60" y="343.30" font-size="6.2" textLength="5.90" lengthAdjust="spacingAndGlyphs" fill="#2a2a2a">10</text>
<text x="186.49" y="339.10" font-size="5.2" fill="#2a2a2a">3</text>
<text x="123.27" y="355.30" font-size="9.7" font-weight="bold" textLength="20.31" lengthAdjust="spacingAndGlyphs" fill="#000">[AU]</text>
<text x="143.57" y="231.60" font-size="9.2" font-weight="bold" textLength="43.03" lengthAdjust="spacingAndGlyphs" fill="#000">NCI-H460</text>
<text x="144.20" y="243.20" font-size="9.2" font-weight="bold" textLength="14.69" lengthAdjust="spacingAndGlyphs" fill="#000">WT</text>
<path d="M79.5,330.6 L80.3,330.7 L81.3,330.8 L82.6,330.9 L84.1,330.7 L85.7,330.0 L87.6,328.8 L89.8,327.3 L92.1,325.8 L94.3,323.3 L96.2,320.6 L98.0,318.4 L99.2,315.2 L100.8,312.1 L101.6,309.2 L103.0,305.6 L103.6,300.8 L103.9,295.2 L104.4,290.2 L104.9,284.2 L105.4,278.2 L106.0,272.4 L106.2,265.7 L106.6,258.7 L106.7,252.4 L107.4,248.2 L107.7,244.0 L107.9,239.9 L108.2,237.6 L108.8,236.9 L109.2,236.2 L109.9,236.2 L110.0,234.9 L110.5,237.9 L110.9,240.0 L111.5,241.2 L111.7,246.8 L112.2,251.3 L112.9,259.0 L113.1,263.4 L113.6,267.7 L114.2,271.4 L115.0,272.7 L115.9,273.1 L116.5,273.7 L117.2,274.4 L117.9,275.0 L119.0,276.3 L119.9,275.4 L120.4,275.4 L121.3,276.7 L122.0,276.2 L122.2,277.0 L122.6,278.6 L123.0,279.3 L123.8,281.0 L124.5,284.1 L125.2,287.9 L126.1,292.7 L127.1,296.3 L127.5,299.5 L128.6,303.5 L129.1,306.1 L130.2,309.7 L131.0,311.9 L131.8,314.6 L132.5,315.6 L133.9,316.0 L134.9,316.6 L136.0,317.1 L136.8,318.3 L138.0,319.3 L138.8,320.9 L140.2,323.0 L141.0,324.8 L142.1,326.4 L143.4,326.9 L145.0,328.3 L146.5,329.2 L147.8,330.0 L148.7,330.5" stroke="#a9a9a9" stroke-width="1.0" fill="none" stroke-linejoin="round"/>
<path d="M106.7,330.6 L107.6,330.4 L108.9,330.2 L110.4,329.8 L111.9,329.0 L113.4,327.4 L114.5,325.1 L116.0,321.1 L117.5,317.8 L118.7,314.5 L119.9,310.5 L120.7,306.1 L121.8,302.4 L122.5,298.3 L123.1,294.2 L123.8,290.3 L124.4,286.5 L125.6,279.8 L126.0,275.5 L127.2,271.5 L127.7,264.8 L128.2,260.5 L128.7,257.5 L129.2,253.8 L130.0,249.1 L130.4,247.0 L130.9,245.9 L131.2,244.6 L132.2,245.2 L132.6,245.5 L132.9,243.0 L133.6,242.3 L133.8,238.6 L134.5,237.2 L135.0,237.0 L135.8,234.1 L136.3,236.1 L137.1,237.2 L138.1,240.0 L138.8,241.5 L139.6,243.8 L140.0,244.9 L140.7,247.0 L141.1,247.5 L141.5,249.5 L142.4,252.4 L143.1,255.5 L143.9,258.3 L144.3,262.7 L145.5,267.6 L146.0,269.8 L146.8,275.2 L147.3,277.8 L148.4,281.2 L149.4,286.8 L149.8,289.3 L151.1,292.4 L152.0,296.6 L153.0,298.7 L154.2,302.2 L155.5,304.7 L156.4,308.4 L158.0,309.9 L159.4,312.2 L160.7,314.8 L161.8,317.2 L163.1,318.7 L164.5,321.3 L165.9,322.5 L166.9,324.5 L168.6,326.0 L169.9,327.3 L171.3,328.2 L172.8,328.9 L174.4,329.5 L176.3,330.0 L178.6,330.3 L181.3,330.5 L184.1,330.6 L186.5,330.6 L188.2,330.6" stroke="#1a1a1a" stroke-width="1.1" fill="none" stroke-linejoin="round"/>
<line x1="212.20" y1="218.80" x2="324.50" y2="218.80" stroke="#8c8c8c" stroke-width="1" stroke-linecap="butt"/>
<line x1="324.50" y1="218.80" x2="324.50" y2="331.50" stroke="#8c8c8c" stroke-width="1" stroke-linecap="butt"/>
<line x1="212.20" y1="218.30" x2="212.20" y2="331.50" stroke="#999" stroke-width="1.1" stroke-linecap="butt"/>
<line x1="211.70" y1="331.50" x2="324.50" y2="331.50" stroke="#333" stroke-width="1.1" stroke-linecap="butt"/>
<line x1="209.20" y1="330.60" x2="212.20" y2="330.60" stroke="#222" stroke-width="1.2" stroke-linecap="butt"/>
<text x="203.88" y="332.80" font-size="6.2" fill="#2a2a2a">0</text>
<line x1="210.60" y1="325.28" x2="212.20" y2="325.28" stroke="#666" stroke-width="0.8" stroke-linecap="butt"/>
<line x1="210.60" y1="319.96" x2="212.20" y2="319.96" stroke="#666" stroke-width="0.8" stroke-linecap="butt"/>
<line x1="210.60" y1="314.64" x2="212.20" y2="314.64" stroke="#666" stroke-width="0.8" stroke-linecap="butt"/>
<line x1="209.20" y1="309.32" x2="212.20" y2="309.32" stroke="#222" stroke-width="1.2" stroke-linecap="butt"/>
<text x="200.44" y="311.52" font-size="6.2" fill="#2a2a2a">20</text>
<line x1="210.60" y1="304.00" x2="212.20" y2="304.00" stroke="#666" stroke-width="0.8" stroke-linecap="butt"/>
<line x1="210.60" y1="298.68" x2="212.20" y2="298.68" stroke="#666" stroke-width="0.8" stroke-linecap="butt"/>
<line x1="210.60" y1="293.36" x2="212.20" y2="293.36" stroke="#666" stroke-width="0.8" stroke-linecap="butt"/>
<line x1="209.20" y1="288.04" x2="212.20" y2="288.04" stroke="#222" stroke-width="1.2" stroke-linecap="butt"/>
<text x="200.44" y="290.24" font-size="6.2" fill="#2a2a2a">40</text>
<line x1="210.60" y1="282.72" x2="212.20" y2="282.72" stroke="#666" stroke-width="0.8" stroke-linecap="butt"/>
<line x1="210.60" y1="277.40" x2="212.20" y2="277.40" stroke="#666" stroke-width="0.8" stroke-linecap="butt"/>
<line x1="210.60" y1="272.08" x2="212.20" y2="272.08" stroke="#666" stroke-width="0.8" stroke-linecap="butt"/>
<line x1="209.20" y1="266.76" x2="212.20" y2="266.76" stroke="#222" stroke-width="1.2" stroke-linecap="butt"/>
<text x="200.44" y="268.96" font-size="6.2" fill="#2a2a2a">60</text>
<line x1="210.60" y1="261.44" x2="212.20" y2="261.44" stroke="#666" stroke-width="0.8" stroke-linecap="butt"/>
<line x1="210.60" y1="256.12" x2="212.20" y2="256.12" stroke="#666" stroke-width="0.8" stroke-linecap="butt"/>
<line x1="210.60" y1="250.80" x2="212.20" y2="250.80" stroke="#666" stroke-width="0.8" stroke-linecap="butt"/>
<line x1="209.20" y1="245.48" x2="212.20" y2="245.48" stroke="#222" stroke-width="1.2" stroke-linecap="butt"/>
<text x="200.44" y="247.68" font-size="6.2" fill="#2a2a2a">80</text>
<line x1="210.60" y1="240.16" x2="212.20" y2="240.16" stroke="#666" stroke-width="0.8" stroke-linecap="butt"/>
<line x1="210.60" y1="234.84" x2="212.20" y2="234.84" stroke="#666" stroke-width="0.8" stroke-linecap="butt"/>
<line x1="210.60" y1="229.52" x2="212.20" y2="229.52" stroke="#666" stroke-width="0.8" stroke-linecap="butt"/>
<line x1="209.20" y1="224.20" x2="212.20" y2="224.20" stroke="#222" stroke-width="1.2" stroke-linecap="butt"/>
<text x="196.99" y="226.40" font-size="6.2" fill="#2a2a2a">100</text>
<line x1="212.70" y1="331.50" x2="212.70" y2="334.10" stroke="#222" stroke-width="1" stroke-linecap="butt"/>
<line x1="221.05" y1="331.50" x2="221.05" y2="332.70" stroke="#555" stroke-width="0.7" stroke-linecap="butt"/>
<line x1="225.94" y1="331.50" x2="225.94" y2="332.70" stroke="#555" stroke-width="0.7" stroke-linecap="butt"/>
<line x1="229.41" y1="331.50" x2="229.41" y2="332.70" stroke="#555" stroke-width="0.7" stroke-linecap="butt"/>
<line x1="232.10" y1="331.50" x2="232.10" y2="333.10" stroke="#555" stroke-width="0.7" stroke-linecap="butt"/>
<line x1="234.29" y1="331.50" x2="234.29" y2="332.70" stroke="#555" stroke-width="0.7" stroke-linecap="butt"/>
<line x1="236.15" y1="331.50" x2="236.15" y2="332.70" stroke="#555" stroke-width="0.7" stroke-linecap="butt"/>
<line x1="237.76" y1="331.50" x2="237.76" y2="332.70" stroke="#555" stroke-width="0.7" stroke-linecap="butt"/>
<line x1="239.18" y1="331.50" x2="239.18" y2="332.70" stroke="#555" stroke-width="0.7" stroke-linecap="butt"/>
<line x1="240.20" y1="331.50" x2="240.20" y2="334.10" stroke="#222" stroke-width="1" stroke-linecap="butt"/>
<line x1="248.55" y1="331.50" x2="248.55" y2="332.70" stroke="#555" stroke-width="0.7" stroke-linecap="butt"/>
<line x1="253.44" y1="331.50" x2="253.44" y2="332.70" stroke="#555" stroke-width="0.7" stroke-linecap="butt"/>
<line x1="256.91" y1="331.50" x2="256.91" y2="332.70" stroke="#555" stroke-width="0.7" stroke-linecap="butt"/>
<line x1="259.60" y1="331.50" x2="259.60" y2="333.10" stroke="#555" stroke-width="0.7" stroke-linecap="butt"/>
<line x1="261.79" y1="331.50" x2="261.79" y2="332.70" stroke="#555" stroke-width="0.7" stroke-linecap="butt"/>
<line x1="263.65" y1="331.50" x2="263.65" y2="332.70" stroke="#555" stroke-width="0.7" stroke-linecap="butt"/>
<line x1="265.26" y1="331.50" x2="265.26" y2="332.70" stroke="#555" stroke-width="0.7" stroke-linecap="butt"/>
<line x1="266.68" y1="331.50" x2="266.68" y2="332.70" stroke="#555" stroke-width="0.7" stroke-linecap="butt"/>
<line x1="268.20" y1="331.50" x2="268.20" y2="334.10" stroke="#222" stroke-width="1" stroke-linecap="butt"/>
<line x1="276.55" y1="331.50" x2="276.55" y2="332.70" stroke="#555" stroke-width="0.7" stroke-linecap="butt"/>
<line x1="281.44" y1="331.50" x2="281.44" y2="332.70" stroke="#555" stroke-width="0.7" stroke-linecap="butt"/>
<line x1="284.91" y1="331.50" x2="284.91" y2="332.70" stroke="#555" stroke-width="0.7" stroke-linecap="butt"/>
<line x1="287.60" y1="331.50" x2="287.60" y2="333.10" stroke="#555" stroke-width="0.7" stroke-linecap="butt"/>
<line x1="289.79" y1="331.50" x2="289.79" y2="332.70" stroke="#555" stroke-width="0.7" stroke-linecap="butt"/>
<line x1="291.65" y1="331.50" x2="291.65" y2="332.70" stroke="#555" stroke-width="0.7" stroke-linecap="butt"/>
<line x1="293.26" y1="331.50" x2="293.26" y2="332.70" stroke="#555" stroke-width="0.7" stroke-linecap="butt"/>
<line x1="294.68" y1="331.50" x2="294.68" y2="332.70" stroke="#555" stroke-width="0.7" stroke-linecap="butt"/>
<line x1="296.20" y1="331.50" x2="296.20" y2="334.10" stroke="#222" stroke-width="1" stroke-linecap="butt"/>
<line x1="304.55" y1="331.50" x2="304.55" y2="332.70" stroke="#555" stroke-width="0.7" stroke-linecap="butt"/>
<line x1="309.44" y1="331.50" x2="309.44" y2="332.70" stroke="#555" stroke-width="0.7" stroke-linecap="butt"/>
<line x1="312.91" y1="331.50" x2="312.91" y2="332.70" stroke="#555" stroke-width="0.7" stroke-linecap="butt"/>
<line x1="315.60" y1="331.50" x2="315.60" y2="333.10" stroke="#555" stroke-width="0.7" stroke-linecap="butt"/>
<line x1="317.79" y1="331.50" x2="317.79" y2="332.70" stroke="#555" stroke-width="0.7" stroke-linecap="butt"/>
<line x1="319.65" y1="331.50" x2="319.65" y2="332.70" stroke="#555" stroke-width="0.7" stroke-linecap="butt"/>
<line x1="321.26" y1="331.50" x2="321.26" y2="332.70" stroke="#555" stroke-width="0.7" stroke-linecap="butt"/>
<line x1="322.68" y1="331.50" x2="322.68" y2="332.70" stroke="#555" stroke-width="0.7" stroke-linecap="butt"/>
<line x1="323.70" y1="331.50" x2="323.70" y2="334.10" stroke="#222" stroke-width="1" stroke-linecap="butt"/>
<text x="214.20" y="343.30" font-size="6.2" textLength="5.90" lengthAdjust="spacingAndGlyphs" fill="#2a2a2a">10</text>
<text x="220.07" y="339.10" font-size="5.2" fill="#2a2a2a">-1</text>
<text x="239.50" y="343.30" font-size="6.2" textLength="5.90" lengthAdjust="spacingAndGlyphs" fill="#2a2a2a">10</text>
<text x="245.39" y="339.10" font-size="5.2" fill="#2a2a2a">0</text>
<text x="267.50" y="343.30" font-size="6.2" textLength="5.90" lengthAdjust="spacingAndGlyphs" fill="#2a2a2a">10</text>
<text x="273.21" y="339.10" font-size="5.2" fill="#2a2a2a">1</text>
<text x="294.80" y="343.30" font-size="6.2" textLength="5.90" lengthAdjust="spacingAndGlyphs" fill="#2a2a2a">10</text>
<text x="300.64" y="339.10" font-size="5.2" fill="#2a2a2a">2</text>
<text x="314.80" y="343.30" font-size="6.2" textLength="5.90" lengthAdjust="spacingAndGlyphs" fill="#2a2a2a">10</text>
<text x="320.69" y="339.10" font-size="5.2" fill="#2a2a2a">3</text>
<text x="257.47" y="355.30" font-size="9.7" font-weight="bold" textLength="20.31" lengthAdjust="spacingAndGlyphs" fill="#000">[AU]</text>
<text x="278.16" y="231.60" font-size="9.2" font-weight="bold" textLength="43.64" lengthAdjust="spacingAndGlyphs" fill="#000">NCI-H460</text>
<text x="278.70" y="243.20" font-size="9.2" font-weight="bold" textLength="28.59" lengthAdjust="spacingAndGlyphs" fill="#000">T2 k/o</text>
<path d="M224.2,330.6 L225.5,329.7 L227.4,328.6 L229.7,326.9 L231.8,325.6 L233.3,323.3 L234.6,321.1 L235.6,319.4 L236.7,316.7 L237.7,313.6 L238.7,310.7 L239.3,305.9 L240.4,301.4 L241.1,297.2 L241.9,292.2 L242.6,287.3 L243.5,281.1 L244.2,275.7 L244.9,270.2 L245.7,264.6 L246.3,260.1 L247.4,257.5 L248.2,255.1 L249.0,252.2 L249.7,249.3 L250.2,247.2 L251.2,243.4 L252.0,239.6 L252.8,236.4 L253.6,232.5 L254.3,231.0 L255.1,231.0 L255.9,232.2 L256.4,236.1 L257.4,237.9 L257.6,238.6 L258.6,241.2 L258.9,241.8 L259.9,242.3 L260.5,244.6 L261.1,245.5 L261.6,248.8 L262.2,252.1 L262.6,257.1 L263.0,260.8 L263.6,265.8 L264.4,270.1 L265.0,275.1 L266.0,280.0 L266.6,284.7 L267.6,288.8 L268.3,292.7 L269.1,294.8 L269.7,297.6 L271.0,299.5 L271.4,302.1 L272.3,304.9 L272.9,307.4 L273.8,310.3 L274.4,312.6 L275.6,315.6 L276.5,318.2 L277.7,321.0 L279.1,323.0 L280.7,325.9 L282.1,327.2 L283.6,328.6 L285.4,329.5 L287.2,330.0 L288.7,330.3 L289.8,330.6" stroke="#a9a9a9" stroke-width="1.0" fill="none" stroke-linejoin="round"/>
<path d="M238.6,330.6 L239.7,329.8 L241.3,328.8 L243.3,327.0 L245.2,325.9 L246.4,323.2 L247.8,320.9 L248.9,316.8 L250.0,313.0 L250.6,308.5 L251.6,305.7 L252.7,300.6 L253.2,297.0 L254.2,292.5 L255.0,287.5 L255.6,283.3 L256.3,279.2 L257.2,277.2 L258.0,273.4 L259.0,269.0 L259.4,266.1 L260.5,263.6 L261.0,260.8 L262.0,261.1 L262.8,257.8 L263.7,255.8 L264.2,253.8 L265.1,251.4 L265.9,246.6 L266.7,244.9 L267.3,242.1 L268.0,240.4 L268.1,239.4 L268.2,238.5 L268.2,238.7 L268.7,238.8 L269.6,241.3 L270.0,241.3 L271.1,245.7 L272.1,246.4 L272.8,251.1 L273.6,250.9 L274.2,253.4 L274.9,252.6 L275.8,254.7 L276.6,255.9 L277.6,258.4 L278.8,264.4 L280.0,266.9 L280.8,271.5 L281.8,275.2 L282.9,280.2 L283.9,286.5 L285.1,290.3 L286.0,296.3 L287.1,300.2 L288.5,303.7 L289.9,307.8 L291.3,310.2 L292.4,312.9 L293.8,316.2 L295.0,318.1 L296.4,320.0 L297.9,320.5 L298.9,322.1 L300.2,323.2 L301.9,324.5 L303.2,325.8 L304.9,327.3 L306.4,328.5 L308.2,329.3 L310.3,329.9 L312.7,330.2 L315.1,330.4 L317.2,330.5 L318.7,330.6" stroke="#1a1a1a" stroke-width="1.1" fill="none" stroke-linejoin="round"/>
<line x1="344.10" y1="218.80" x2="457.50" y2="218.80" stroke="#8c8c8c" stroke-width="1" stroke-linecap="butt"/>
<line x1="457.50" y1="218.80" x2="457.50" y2="331.50" stroke="#8c8c8c" stroke-width="1" stroke-linecap="butt"/>
<line x1="344.10" y1="218.30" x2="344.10" y2="331.50" stroke="#999" stroke-width="1.1" stroke-linecap="butt"/>
<line x1="343.60" y1="331.50" x2="457.50" y2="331.50" stroke="#333" stroke-width="1.1" stroke-linecap="butt"/>
<line x1="341.10" y1="330.60" x2="344.10" y2="330.60" stroke="#222" stroke-width="1.2" stroke-linecap="butt"/>
<text x="335.78" y="332.80" font-size="6.2" fill="#2a2a2a">0</text>
<line x1="342.50" y1="325.28" x2="344.10" y2="325.28" stroke="#666" stroke-width="0.8" stroke-linecap="butt"/>
<line x1="342.50" y1="319.96" x2="344.10" y2="319.96" stroke="#666" stroke-width="0.8" stroke-linecap="butt"/>
<line x1="342.50" y1="314.64" x2="344.10" y2="314.64" stroke="#666" stroke-width="0.8" stroke-linecap="butt"/>
<line x1="341.10" y1="309.32" x2="344.10" y2="309.32" stroke="#222" stroke-width="1.2" stroke-linecap="butt"/>
<text x="332.33" y="311.52" font-size="6.2" fill="#2a2a2a">20</text>
<line x1="342.50" y1="304.00" x2="344.10" y2="304.00" stroke="#666" stroke-width="0.8" stroke-linecap="butt"/>
<line x1="342.50" y1="298.68" x2="344.10" y2="298.68" stroke="#666" stroke-width="0.8" stroke-linecap="butt"/>
<line x1="342.50" y1="293.36" x2="344.10" y2="293.36" stroke="#666" stroke-width="0.8" stroke-linecap="butt"/>
<line x1="341.10" y1="288.04" x2="344.10" y2="288.04" stroke="#222" stroke-width="1.2" stroke-linecap="butt"/>
<text x="332.33" y="290.24" font-size="6.2" fill="#2a2a2a">40</text>
<line x1="342.50" y1="282.72" x2="344.10" y2="282.72" stroke="#666" stroke-width="0.8" stroke-linecap="butt"/>
<line x1="342.50" y1="277.40" x2="344.10" y2="277.40" stroke="#666" stroke-width="0.8" stroke-linecap="butt"/>
<line x1="342.50" y1="272.08" x2="344.10" y2="272.08" stroke="#666" stroke-width="0.8" stroke-linecap="butt"/>
<line x1="341.10" y1="266.76" x2="344.10" y2="266.76" stroke="#222" stroke-width="1.2" stroke-linecap="butt"/>
<text x="332.33" y="268.96" font-size="6.2" fill="#2a2a2a">60</text>
<line x1="342.50" y1="261.44" x2="344.10" y2="261.44" stroke="#666" stroke-width="0.8" stroke-linecap="butt"/>
<line x1="342.50" y1="256.12" x2="344.10" y2="256.12" stroke="#666" stroke-width="0.8" stroke-linecap="butt"/>
<line x1="342.50" y1="250.80" x2="344.10" y2="250.80" stroke="#666" stroke-width="0.8" stroke-linecap="butt"/>
<line x1="341.10" y1="245.48" x2="344.10" y2="245.48" stroke="#222" stroke-width="1.2" stroke-linecap="butt"/>
<text x="332.33" y="247.68" font-size="6.2" fill="#2a2a2a">80</text>
<line x1="342.50" y1="240.16" x2="344.10" y2="240.16" stroke="#666" stroke-width="0.8" stroke-linecap="butt"/>
<line x1="342.50" y1="234.84" x2="344.10" y2="234.84" stroke="#666" stroke-width="0.8" stroke-linecap="butt"/>
<line x1="342.50" y1="229.52" x2="344.10" y2="229.52" stroke="#666" stroke-width="0.8" stroke-linecap="butt"/>
<line x1="341.10" y1="224.20" x2="344.10" y2="224.20" stroke="#222" stroke-width="1.2" stroke-linecap="butt"/>
<text x="328.89" y="226.40" font-size="6.2" fill="#2a2a2a">100</text>
<line x1="344.60" y1="331.50" x2="344.60" y2="334.10" stroke="#222" stroke-width="1" stroke-linecap="butt"/>
<line x1="352.95" y1="331.50" x2="352.95" y2="332.70" stroke="#555" stroke-width="0.7" stroke-linecap="butt"/>
<line x1="357.84" y1="331.50" x2="357.84" y2="332.70" stroke="#555" stroke-width="0.7" stroke-linecap="butt"/>
<line x1="361.31" y1="331.50" x2="361.31" y2="332.70" stroke="#555" stroke-width="0.7" stroke-linecap="butt"/>
<line x1="364.00" y1="331.50" x2="364.00" y2="333.10" stroke="#555" stroke-width="0.7" stroke-linecap="butt"/>
<line x1="366.19" y1="331.50" x2="366.19" y2="332.70" stroke="#555" stroke-width="0.7" stroke-linecap="butt"/>
<line x1="368.05" y1="331.50" x2="368.05" y2="332.70" stroke="#555" stroke-width="0.7" stroke-linecap="butt"/>
<line x1="369.66" y1="331.50" x2="369.66" y2="332.70" stroke="#555" stroke-width="0.7" stroke-linecap="butt"/>
<line x1="371.08" y1="331.50" x2="371.08" y2="332.70" stroke="#555" stroke-width="0.7" stroke-linecap="butt"/>
<line x1="372.10" y1="331.50" x2="372.10" y2="334.10" stroke="#222" stroke-width="1" stroke-linecap="butt"/>
<line x1="380.45" y1="331.50" x2="380.45" y2="332.70" stroke="#555" stroke-width="0.7" stroke-linecap="butt"/>
<line x1="385.34" y1="331.50" x2="385.34" y2="332.70" stroke="#555" stroke-width="0.7" stroke-linecap="butt"/>
<line x1="388.81" y1="331.50" x2="388.81" y2="332.70" stroke="#555" stroke-width="0.7" stroke-linecap="butt"/>
<line x1="391.50" y1="331.50" x2="391.50" y2="333.10" stroke="#555" stroke-width="0.7" stroke-linecap="butt"/>
<line x1="393.69" y1="331.50" x2="393.69" y2="332.70" stroke="#555" stroke-width="0.7" stroke-linecap="butt"/>
<line x1="395.55" y1="331.50" x2="395.55" y2="332.70" stroke="#555" stroke-width="0.7" stroke-linecap="butt"/>
<line x1="397.16" y1="331.50" x2="397.16" y2="332.70" stroke="#555" stroke-width="0.7" stroke-linecap="butt"/>
<line x1="398.58" y1="331.50" x2="398.58" y2="332.70" stroke="#555" stroke-width="0.7" stroke-linecap="butt"/>
<line x1="400.10" y1="331.50" x2="400.10" y2="334.10" stroke="#222" stroke-width="1" stroke-linecap="butt"/>
<line x1="408.45" y1="331.50" x2="408.45" y2="332.70" stroke="#555" stroke-width="0.7" stroke-linecap="butt"/>
<line x1="413.34" y1="331.50" x2="413.34" y2="332.70" stroke="#555" stroke-width="0.7" stroke-linecap="butt"/>
<line x1="416.81" y1="331.50" x2="416.81" y2="332.70" stroke="#555" stroke-width="0.7" stroke-linecap="butt"/>
<line x1="419.50" y1="331.50" x2="419.50" y2="333.10" stroke="#555" stroke-width="0.7" stroke-linecap="butt"/>
<line x1="421.69" y1="331.50" x2="421.69" y2="332.70" stroke="#555" stroke-width="0.7" stroke-linecap="butt"/>
<line x1="423.55" y1="331.50" x2="423.55" y2="332.70" stroke="#555" stroke-width="0.7" stroke-linecap="butt"/>
<line x1="425.16" y1="331.50" x2="425.16" y2="332.70" stroke="#555" stroke-width="0.7" stroke-linecap="butt"/>
<line x1="426.58" y1="331.50" x2="426.58" y2="332.70" stroke="#555" stroke-width="0.7" stroke-linecap="butt"/>
<line x1="428.10" y1="331.50" x2="428.10" y2="334.10" stroke="#222" stroke-width="1" stroke-linecap="butt"/>
<line x1="436.45" y1="331.50" x2="436.45" y2="332.70" stroke="#555" stroke-width="0.7" stroke-linecap="butt"/>
<line x1="441.34" y1="331.50" x2="441.34" y2="332.70" stroke="#555" stroke-width="0.7" stroke-linecap="butt"/>
<line x1="444.81" y1="331.50" x2="444.81" y2="332.70" stroke="#555" stroke-width="0.7" stroke-linecap="butt"/>
<line x1="447.50" y1="331.50" x2="447.50" y2="333.10" stroke="#555" stroke-width="0.7" stroke-linecap="butt"/>
<line x1="449.69" y1="331.50" x2="449.69" y2="332.70" stroke="#555" stroke-width="0.7" stroke-linecap="butt"/>
<line x1="451.55" y1="331.50" x2="451.55" y2="332.70" stroke="#555" stroke-width="0.7" stroke-linecap="butt"/>
<line x1="453.16" y1="331.50" x2="453.16" y2="332.70" stroke="#555" stroke-width="0.7" stroke-linecap="butt"/>
<line x1="454.58" y1="331.50" x2="454.58" y2="332.70" stroke="#555" stroke-width="0.7" stroke-linecap="butt"/>
<line x1="455.60" y1="331.50" x2="455.60" y2="334.10" stroke="#222" stroke-width="1" stroke-linecap="butt"/>
<text x="346.10" y="343.30" font-size="6.2" textLength="5.90" lengthAdjust="spacingAndGlyphs" fill="#2a2a2a">10</text>
<text x="351.97" y="339.10" font-size="5.2" fill="#2a2a2a">-1</text>
<text x="371.40" y="343.30" font-size="6.2" textLength="5.90" lengthAdjust="spacingAndGlyphs" fill="#2a2a2a">10</text>
<text x="377.29" y="339.10" font-size="5.2" fill="#2a2a2a">0</text>
<text x="399.40" y="343.30" font-size="6.2" textLength="5.90" lengthAdjust="spacingAndGlyphs" fill="#2a2a2a">10</text>
<text x="405.11" y="339.10" font-size="5.2" fill="#2a2a2a">1</text>
<text x="426.70" y="343.30" font-size="6.2" textLength="5.90" lengthAdjust="spacingAndGlyphs" fill="#2a2a2a">10</text>
<text x="432.54" y="339.10" font-size="5.2" fill="#2a2a2a">2</text>
<text x="446.70" y="343.30" font-size="6.2" textLength="5.90" lengthAdjust="spacingAndGlyphs" fill="#2a2a2a">10</text>
<text x="452.59" y="339.10" font-size="5.2" fill="#2a2a2a">3</text>
<text x="389.37" y="355.30" font-size="9.7" font-weight="bold" textLength="20.31" lengthAdjust="spacingAndGlyphs" fill="#000">[AU]</text>
<text x="409.86" y="231.60" font-size="9.2" font-weight="bold" textLength="43.64" lengthAdjust="spacingAndGlyphs" fill="#000">NCI-H460</text>
<text x="410.50" y="243.20" font-size="9.2" font-weight="bold" textLength="14.69" lengthAdjust="spacingAndGlyphs" fill="#000">WT</text>
<path d="M356.6,330.6 L358.1,329.4 L360.2,328.0 L362.4,326.4 L364.8,323.3 L366.6,319.4 L368.1,313.6 L369.2,306.5 L369.6,297.8 L370.2,290.2 L370.8,281.9 L371.6,275.0 L371.7,266.9 L372.1,259.3 L372.4,250.9 L372.7,245.3 L373.4,240.6 L374.4,236.3 L374.8,233.1 L375.8,231.4 L376.4,229.9 L376.6,229.9 L377.6,232.6 L378.0,237.1 L378.5,240.6 L378.9,246.1 L379.6,250.1 L380.8,257.3 L381.4,264.1 L382.1,270.0 L383.0,274.6 L383.8,275.0 L384.5,275.2 L385.3,273.9 L386.0,272.3 L387.3,273.8 L388.1,276.1 L389.5,280.4 L391.0,285.7 L392.0,290.5 L393.6,294.0 L394.4,298.7 L395.7,301.7 L396.7,305.4 L398.3,307.6 L399.5,310.9 L401.1,313.5 L402.5,315.6 L404.1,317.1 L406.1,319.1 L407.6,320.9 L409.4,322.8 L410.7,324.3 L412.5,325.9 L414.2,327.2 L415.9,328.0 L418.3,328.8 L421.1,329.5 L423.9,330.0 L426.4,330.3 L428.1,330.6" stroke="#a9a9a9" stroke-width="1.0" fill="none" stroke-linejoin="round"/>
<path d="M372.9,330.6 L373.8,328.2 L375.0,324.8 L376.5,320.8 L378.0,316.0 L379.2,310.4 L379.9,303.5 L380.7,296.2 L381.5,288.8 L382.6,281.2 L383.3,273.5 L384.0,269.5 L384.6,263.2 L385.3,260.8 L386.1,256.2 L387.3,253.0 L388.3,249.8 L389.8,247.5 L390.6,243.7 L392.3,243.3 L393.4,241.3 L394.5,239.4 L395.9,240.2 L397.3,240.6 L398.2,243.5 L399.5,244.4 L400.4,244.1 L401.2,242.7 L401.9,241.1 L402.5,239.0 L403.6,240.5 L404.7,243.5 L405.8,247.9 L407.2,251.5 L408.6,258.0 L409.9,262.2 L410.7,266.5 L412.0,272.1 L413.5,278.1 L414.5,285.9 L416.1,290.8 L416.9,295.6 L418.1,299.7 L419.2,302.9 L420.9,307.3 L421.8,310.2 L423.2,314.0 L425.1,317.3 L426.4,320.3 L428.2,322.3 L430.4,325.3 L432.1,326.9 L434.6,328.2 L437.0,329.2 L439.0,330.0 L440.4,330.6" stroke="#1a1a1a" stroke-width="1.1" fill="none" stroke-linejoin="round"/>
<line x1="481.30" y1="218.80" x2="593.60" y2="218.80" stroke="#8c8c8c" stroke-width="1" stroke-linecap="butt"/>
<line x1="593.60" y1="218.80" x2="593.60" y2="331.50" stroke="#8c8c8c" stroke-width="1" stroke-linecap="butt"/>
<line x1="481.30" y1="218.30" x2="481.30" y2="331.50" stroke="#999" stroke-width="1.1" stroke-linecap="butt"/>
<line x1="480.80" y1="331.50" x2="593.60" y2="331.50" stroke="#333" stroke-width="1.1" stroke-linecap="butt"/>
<line x1="478.30" y1="330.60" x2="481.30" y2="330.60" stroke="#222" stroke-width="1.2" stroke-linecap="butt"/>
<text x="472.98" y="332.80" font-size="6.2" fill="#2a2a2a">0</text>
<line x1="479.70" y1="325.28" x2="481.30" y2="325.28" stroke="#666" stroke-width="0.8" stroke-linecap="butt"/>
<line x1="479.70" y1="319.96" x2="481.30" y2="319.96" stroke="#666" stroke-width="0.8" stroke-linecap="butt"/>
<line x1="479.70" y1="314.64" x2="481.30" y2="314.64" stroke="#666" stroke-width="0.8" stroke-linecap="butt"/>
<line x1="478.30" y1="309.32" x2="481.30" y2="309.32" stroke="#222" stroke-width="1.2" stroke-linecap="butt"/>
<text x="469.53" y="311.52" font-size="6.2" fill="#2a2a2a">20</text>
<line x1="479.70" y1="304.00" x2="481.30" y2="304.00" stroke="#666" stroke-width="0.8" stroke-linecap="butt"/>
<line x1="479.70" y1="298.68" x2="481.30" y2="298.68" stroke="#666" stroke-width="0.8" stroke-linecap="butt"/>
<line x1="479.70" y1="293.36" x2="481.30" y2="293.36" stroke="#666" stroke-width="0.8" stroke-linecap="butt"/>
<line x1="478.30" y1="288.04" x2="481.30" y2="288.04" stroke="#222" stroke-width="1.2" stroke-linecap="butt"/>
<text x="469.53" y="290.24" font-size="6.2" fill="#2a2a2a">40</text>
<line x1="479.70" y1="282.72" x2="481.30" y2="282.72" stroke="#666" stroke-width="0.8" stroke-linecap="butt"/>
<line x1="479.70" y1="277.40" x2="481.30" y2="277.40" stroke="#666" stroke-width="0.8" stroke-linecap="butt"/>
<line x1="479.70" y1="272.08" x2="481.30" y2="272.08" stroke="#666" stroke-width="0.8" stroke-linecap="butt"/>
<line x1="478.30" y1="266.76" x2="481.30" y2="266.76" stroke="#222" stroke-width="1.2" stroke-linecap="butt"/>
<text x="469.53" y="268.96" font-size="6.2" fill="#2a2a2a">60</text>
<line x1="479.70" y1="261.44" x2="481.30" y2="261.44" stroke="#666" stroke-width="0.8" stroke-linecap="butt"/>
<line x1="479.70" y1="256.12" x2="481.30" y2="256.12" stroke="#666" stroke-width="0.8" stroke-linecap="butt"/>
<line x1="479.70" y1="250.80" x2="481.30" y2="250.80" stroke="#666" stroke-width="0.8" stroke-linecap="butt"/>
<line x1="478.30" y1="245.48" x2="481.30" y2="245.48" stroke="#222" stroke-width="1.2" stroke-linecap="butt"/>
<text x="469.53" y="247.68" font-size="6.2" fill="#2a2a2a">80</text>
<line x1="479.70" y1="240.16" x2="481.30" y2="240.16" stroke="#666" stroke-width="0.8" stroke-linecap="butt"/>
<line x1="479.70" y1="234.84" x2="481.30" y2="234.84" stroke="#666" stroke-width="0.8" stroke-linecap="butt"/>
<line x1="479.70" y1="229.52" x2="481.30" y2="229.52" stroke="#666" stroke-width="0.8" stroke-linecap="butt"/>
<line x1="478.30" y1="224.20" x2="481.30" y2="224.20" stroke="#222" stroke-width="1.2" stroke-linecap="butt"/>
<text x="466.09" y="226.40" font-size="6.2" fill="#2a2a2a">100</text>
<line x1="481.80" y1="331.50" x2="481.80" y2="334.10" stroke="#222" stroke-width="1" stroke-linecap="butt"/>
<line x1="490.15" y1="331.50" x2="490.15" y2="332.70" stroke="#555" stroke-width="0.7" stroke-linecap="butt"/>
<line x1="495.04" y1="331.50" x2="495.04" y2="332.70" stroke="#555" stroke-width="0.7" stroke-linecap="butt"/>
<line x1="498.51" y1="331.50" x2="498.51" y2="332.70" stroke="#555" stroke-width="0.7" stroke-linecap="butt"/>
<line x1="501.20" y1="331.50" x2="501.20" y2="333.10" stroke="#555" stroke-width="0.7" stroke-linecap="butt"/>
<line x1="503.39" y1="331.50" x2="503.39" y2="332.70" stroke="#555" stroke-width="0.7" stroke-linecap="butt"/>
<line x1="505.25" y1="331.50" x2="505.25" y2="332.70" stroke="#555" stroke-width="0.7" stroke-linecap="butt"/>
<line x1="506.86" y1="331.50" x2="506.86" y2="332.70" stroke="#555" stroke-width="0.7" stroke-linecap="butt"/>
<line x1="508.28" y1="331.50" x2="508.28" y2="332.70" stroke="#555" stroke-width="0.7" stroke-linecap="butt"/>
<line x1="509.30" y1="331.50" x2="509.30" y2="334.10" stroke="#222" stroke-width="1" stroke-linecap="butt"/>
<line x1="517.65" y1="331.50" x2="517.65" y2="332.70" stroke="#555" stroke-width="0.7" stroke-linecap="butt"/>
<line x1="522.54" y1="331.50" x2="522.54" y2="332.70" stroke="#555" stroke-width="0.7" stroke-linecap="butt"/>
<line x1="526.01" y1="331.50" x2="526.01" y2="332.70" stroke="#555" stroke-width="0.7" stroke-linecap="butt"/>
<line x1="528.70" y1="331.50" x2="528.70" y2="333.10" stroke="#555" stroke-width="0.7" stroke-linecap="butt"/>
<line x1="530.89" y1="331.50" x2="530.89" y2="332.70" stroke="#555" stroke-width="0.7" stroke-linecap="butt"/>
<line x1="532.75" y1="331.50" x2="532.75" y2="332.70" stroke="#555" stroke-width="0.7" stroke-linecap="butt"/>
<line x1="534.36" y1="331.50" x2="534.36" y2="332.70" stroke="#555" stroke-width="0.7" stroke-linecap="butt"/>
<line x1="535.78" y1="331.50" x2="535.78" y2="332.70" stroke="#555" stroke-width="0.7" stroke-linecap="butt"/>
<line x1="537.30" y1="331.50" x2="537.30" y2="334.10" stroke="#222" stroke-width="1" stroke-linecap="butt"/>
<line x1="545.65" y1="331.50" x2="545.65" y2="332.70" stroke="#555" stroke-width="0.7" stroke-linecap="butt"/>
<line x1="550.54" y1="331.50" x2="550.54" y2="332.70" stroke="#555" stroke-width="0.7" stroke-linecap="butt"/>
<line x1="554.01" y1="331.50" x2="554.01" y2="332.70" stroke="#555" stroke-width="0.7" stroke-linecap="butt"/>
<line x1="556.70" y1="331.50" x2="556.70" y2="333.10" stroke="#555" stroke-width="0.7" stroke-linecap="butt"/>
<line x1="558.89" y1="331.50" x2="558.89" y2="332.70" stroke="#555" stroke-width="0.7" stroke-linecap="butt"/>
<line x1="560.75" y1="331.50" x2="560.75" y2="332.70" stroke="#555" stroke-width="0.7" stroke-linecap="butt"/>
<line x1="562.36" y1="331.50" x2="562.36" y2="332.70" stroke="#555" stroke-width="0.7" stroke-linecap="butt"/>
<line x1="563.78" y1="331.50" x2="563.78" y2="332.70" stroke="#555" stroke-width="0.7" stroke-linecap="butt"/>
<line x1="565.30" y1="331.50" x2="565.30" y2="334.10" stroke="#222" stroke-width="1" stroke-linecap="butt"/>
<line x1="573.65" y1="331.50" x2="573.65" y2="332.70" stroke="#555" stroke-width="0.7" stroke-linecap="butt"/>
<line x1="578.54" y1="331.50" x2="578.54" y2="332.70" stroke="#555" stroke-width="0.7" stroke-linecap="butt"/>
<line x1="582.01" y1="331.50" x2="582.01" y2="332.70" stroke="#555" stroke-width="0.7" stroke-linecap="butt"/>
<line x1="584.70" y1="331.50" x2="584.70" y2="333.10" stroke="#555" stroke-width="0.7" stroke-linecap="butt"/>
<line x1="586.89" y1="331.50" x2="586.89" y2="332.70" stroke="#555" stroke-width="0.7" stroke-linecap="butt"/>
<line x1="588.75" y1="331.50" x2="588.75" y2="332.70" stroke="#555" stroke-width="0.7" stroke-linecap="butt"/>
<line x1="590.36" y1="331.50" x2="590.36" y2="332.70" stroke="#555" stroke-width="0.7" stroke-linecap="butt"/>
<line x1="591.78" y1="331.50" x2="591.78" y2="332.70" stroke="#555" stroke-width="0.7" stroke-linecap="butt"/>
<line x1="592.80" y1="331.50" x2="592.80" y2="334.10" stroke="#222" stroke-width="1" stroke-linecap="butt"/>
<text x="483.30" y="343.30" font-size="6.2" textLength="5.90" lengthAdjust="spacingAndGlyphs" fill="#2a2a2a">10</text>
<text x="489.17" y="339.10" font-size="5.2" fill="#2a2a2a">-1</text>
<text x="508.60" y="343.30" font-size="6.2" textLength="5.90" lengthAdjust="spacingAndGlyphs" fill="#2a2a2a">10</text>
<text x="514.49" y="339.10" font-size="5.2" fill="#2a2a2a">0</text>
<text x="536.60" y="343.30" font-size="6.2" textLength="5.90" lengthAdjust="spacingAndGlyphs" fill="#2a2a2a">10</text>
<text x="542.31" y="339.10" font-size="5.2" fill="#2a2a2a">1</text>
<text x="563.90" y="343.30" font-size="6.2" textLength="5.90" lengthAdjust="spacingAndGlyphs" fill="#2a2a2a">10</text>
<text x="569.74" y="339.10" font-size="5.2" fill="#2a2a2a">2</text>
<text x="583.90" y="343.30" font-size="6.2" textLength="5.90" lengthAdjust="spacingAndGlyphs" fill="#2a2a2a">10</text>
<text x="589.79" y="339.10" font-size="5.2" fill="#2a2a2a">3</text>
<text x="526.57" y="355.30" font-size="9.7" font-weight="bold" textLength="20.31" lengthAdjust="spacingAndGlyphs" fill="#000">[AU]</text>
<text x="545.26" y="231.60" font-size="9.2" font-weight="bold" textLength="43.54" lengthAdjust="spacingAndGlyphs" fill="#000">NCI-H460</text>
<text x="545.80" y="243.20" font-size="9.2" font-weight="bold" textLength="28.59" lengthAdjust="spacingAndGlyphs" fill="#000">T2 k/o</text>
<path d="M501.7,330.6 L502.8,328.1 L504.6,324.7 L506.3,321.0 L508.4,316.1 L509.7,311.0 L511.2,304.5 L512.4,298.7 L513.6,291.5 L515.0,285.0 L516.2,278.0 L517.4,271.2 L518.4,266.0 L520.0,259.6 L521.0,254.6 L522.4,249.6 L522.9,246.5 L523.8,243.0 L524.4,242.1 L524.9,240.6 L525.6,241.9 L526.2,241.4 L527.4,243.6 L528.5,246.9 L529.5,250.1 L530.2,254.2 L531.4,257.1 L531.8,260.8 L532.8,264.5 L533.5,268.8 L534.4,274.1 L535.6,278.9 L536.6,285.9 L538.2,291.3 L539.1,297.5 L540.6,302.1 L541.7,306.9 L542.8,310.9 L543.8,315.0 L545.4,317.7 L546.5,321.3 L548.7,323.7 L551.1,325.9 L553.4,328.2 L555.4,329.4 L556.9,330.6" stroke="#a9a9a9" stroke-width="1.0" fill="none" stroke-linejoin="round"/>
<path d="M497.6,330.6 L498.4,328.8 L499.7,326.1 L500.9,323.2 L502.5,319.6 L503.8,314.9 L504.9,308.5 L506.2,301.8 L507.6,293.9 L508.9,286.3 L509.8,277.5 L511.2,271.5 L512.5,263.0 L513.9,257.8 L514.8,249.8 L516.2,244.0 L517.1,240.4 L517.8,237.7 L518.7,235.1 L519.2,233.7 L520.1,231.9 L520.7,235.9 L521.8,238.5 L522.4,241.2 L523.3,246.8 L524.2,249.2 L525.1,250.1 L525.8,252.2 L526.7,252.3 L527.4,255.2 L528.1,256.7 L529.2,262.6 L530.6,271.3 L532.1,278.7 L533.3,287.7 L534.5,295.1 L535.9,300.5 L536.9,305.3 L538.0,311.5 L539.1,315.7 L540.4,318.9 L541.7,321.8 L542.6,323.6 L543.7,326.0 L545.3,326.4 L546.7,328.0 L549.0,329.0 L551.7,329.6 L554.6,330.1 L557.1,330.3 L558.9,330.6" stroke="#1a1a1a" stroke-width="1.1" fill="none" stroke-linejoin="round"/>
<text x="-0.00" y="385.80" font-size="13" font-weight="bold" textLength="7.28" lengthAdjust="spacingAndGlyphs" fill="#000">C</text>
<text x="52.75" y="389.70" font-size="10.0" font-weight="bold" textLength="36.53" lengthAdjust="spacingAndGlyphs" fill="#000">HCT116</text>
<line x1="53.10" y1="394.50" x2="223.20" y2="394.50" stroke="#000" stroke-width="1.3" stroke-linecap="butt"/>
<clipPath id="cliphct"><rect x="55.30" y="406.80" width="65.40" height="17.20"/></clipPath>
<rect x="55.30" y="406.80" width="65.40" height="17.20" fill="#a9a5a4" stroke="none" stroke-width="1" />
<g clip-path="url(#cliphct)">
<rect x="55.30" y="406.80" width="22.89" height="17.20" fill="#b0a6a6" stroke="none" stroke-width="1" opacity="0.6"/>
<path d="M95.7,407.2 Q100.3,406.9 102.1,404.4" stroke="#eeeeee" stroke-width="0.6695510661035329" fill="none" stroke-linecap="round" opacity="0.85"/>
<path d="M80.6,407.3 Q82.0,403.3 89.1,403.0" stroke="#8a8886" stroke-width="1.1610599788721887" fill="none" stroke-linecap="round" opacity="0.85"/>
<path d="M80.4,414.5 Q87.9,409.9 92.2,409.4" stroke="#dcdcdc" stroke-width="0.8722004132143935" fill="none" stroke-linecap="round" opacity="0.85"/>
<path d="M62.1,423.3 Q62.4,424.4 67.6,421.3" stroke="#eeeeee" stroke-width="0.8116166937776104" fill="none" stroke-linecap="round" opacity="0.85"/>
<path d="M54.3,414.7 Q57.4,409.9 65.5,407.5" stroke="#8a8886" stroke-width="1.0948158018913967" fill="none" stroke-linecap="round" opacity="0.85"/>
<path d="M111.1,416.7 Q112.2,415.6 116.5,416.9" stroke="#f4f4f4" stroke-width="1.2842541768121174" fill="none" stroke-linecap="round" opacity="0.85"/>
<path d="M111.4,413.3 Q115.5,411.1 123.6,410.6" stroke="#8a8886" stroke-width="0.8135822576392906" fill="none" stroke-linecap="round" opacity="0.85"/>
<path d="M116.3,417.9 Q120.9,415.7 122.8,417.6" stroke="#dcdcdc" stroke-width="0.8159582614274223" fill="none" stroke-linecap="round" opacity="0.85"/>
<path d="M115.5,418.6 Q120.7,414.2 122.6,415.1" stroke="#7f7d7c" stroke-width="0.6256801951232301" fill="none" stroke-linecap="round" opacity="0.85"/>
<path d="M73.2,411.4 Q81.4,407.2 85.2,405.2" stroke="#8a8886" stroke-width="0.9993850075938218" fill="none" stroke-linecap="round" opacity="0.85"/>
<path d="M112.7,417.9 Q116.8,416.5 118.0,414.6" stroke="#8a8886" stroke-width="1.0676687921788324" fill="none" stroke-linecap="round" opacity="0.85"/>
<path d="M113.6,413.7 Q119.9,408.1 126.1,407.3" stroke="#f4f4f4" stroke-width="1.2888823277333326" fill="none" stroke-linecap="round" opacity="0.85"/>
<path d="M61.9,409.6 Q66.4,410.2 72.3,409.7" stroke="#dcdcdc" stroke-width="1.0232914760793095" fill="none" stroke-linecap="round" opacity="0.85"/>
<path d="M118.7,421.6 Q124.2,418.2 127.6,414.3" stroke="#ffffff" stroke-width="1.2148789861259566" fill="none" stroke-linecap="round" opacity="0.85"/>
<path d="M74.9,411.8 Q78.4,411.9 79.2,409.3" stroke="#eeeeee" stroke-width="1.2095697592416517" fill="none" stroke-linecap="round" opacity="0.85"/>
<path d="M86.5,408.6 Q92.9,406.6 99.1,408.1" stroke="#ffffff" stroke-width="1.210008640060121" fill="none" stroke-linecap="round" opacity="0.85"/>
<path d="M88.7,420.2 Q90.2,417.0 93.7,419.5" stroke="#ffffff" stroke-width="1.3029775022585472" fill="none" stroke-linecap="round" opacity="0.85"/>
<path d="M109.0,412.1 Q116.9,405.8 119.4,404.4" stroke="#dcdcdc" stroke-width="1.2528186027360708" fill="none" stroke-linecap="round" opacity="0.85"/>
<path d="M119.2,416.0 Q126.5,411.0 128.4,410.1" stroke="#eeeeee" stroke-width="1.2979464328682058" fill="none" stroke-linecap="round" opacity="0.85"/>
<path d="M80.7,410.4 Q84.6,408.5 92.1,408.9" stroke="#8a8886" stroke-width="1.1199024461115628" fill="none" stroke-linecap="round" opacity="0.85"/>
<path d="M81.7,415.7 Q83.7,414.3 87.6,411.9" stroke="#e6e6e6" stroke-width="1.0707520915282807" fill="none" stroke-linecap="round" opacity="0.85"/>
<path d="M51.8,419.0 Q51.2,416.3 56.3,415.6" stroke="#eeeeee" stroke-width="0.7904037074951962" fill="none" stroke-linecap="round" opacity="0.85"/>
<path d="M97.7,410.5 Q103.8,406.8 109.1,403.3" stroke="#7f7d7c" stroke-width="0.9783783543556749" fill="none" stroke-linecap="round" opacity="0.85"/>
<path d="M79.5,408.4 Q83.1,410.6 87.7,408.4" stroke="#f4f4f4" stroke-width="1.1386916378346412" fill="none" stroke-linecap="round" opacity="0.85"/>
<path d="M119.6,408.5 Q125.6,405.9 127.3,406.3" stroke="#e6e6e6" stroke-width="1.0290286031282754" fill="none" stroke-linecap="round" opacity="0.85"/>
<path d="M61.0,410.0 Q64.8,410.4 73.6,407.2" stroke="#7f7d7c" stroke-width="1.0402602499598783" fill="none" stroke-linecap="round" opacity="0.85"/>
<path d="M54.8,424.0 Q64.1,427.3 68.3,426.4" stroke="#e6e6e6" stroke-width="0.9251312463619775" fill="none" stroke-linecap="round" opacity="0.85"/>
<path d="M84.7,421.7 Q84.9,421.8 91.0,423.3" stroke="#7f7d7c" stroke-width="1.2281034854352972" fill="none" stroke-linecap="round" opacity="0.85"/>
<path d="M71.1,418.8 Q78.1,419.1 83.1,419.6" stroke="#e6e6e6" stroke-width="0.8373662603956513" fill="none" stroke-linecap="round" opacity="0.85"/>
<path d="M118.5,416.8 Q121.7,416.5 130.2,415.2" stroke="#eeeeee" stroke-width="1.33550970466566" fill="none" stroke-linecap="round" opacity="0.85"/>
<path d="M88.2,407.8 Q91.8,404.1 100.6,405.7" stroke="#7f7d7c" stroke-width="0.788163116000745" fill="none" stroke-linecap="round" opacity="0.85"/>
<path d="M59.6,422.1 Q65.0,419.4 69.0,417.7" stroke="#eeeeee" stroke-width="1.0521815390752716" fill="none" stroke-linecap="round" opacity="0.85"/>
<path d="M73.3,411.3 Q75.8,409.1 81.1,411.3" stroke="#8a8886" stroke-width="0.8399976638390098" fill="none" stroke-linecap="round" opacity="0.85"/>
<path d="M73.2,419.7 Q79.9,420.0 80.6,414.4" stroke="#f4f4f4" stroke-width="1.0301075232813017" fill="none" stroke-linecap="round" opacity="0.85"/>
<path d="M86.4,409.1 Q87.5,406.9 91.7,407.2" stroke="#dcdcdc" stroke-width="1.2669959637118455" fill="none" stroke-linecap="round" opacity="0.85"/>
<path d="M100.1,417.3 Q102.3,421.0 110.4,420.9" stroke="#ffffff" stroke-width="1.3454048315488618" fill="none" stroke-linecap="round" opacity="0.85"/>
<path d="M58.5,421.9 Q65.9,417.2 70.4,416.6" stroke="#ffffff" stroke-width="1.0838638616241791" fill="none" stroke-linecap="round" opacity="0.85"/>
<path d="M101.1,410.3 Q104.7,412.6 108.5,410.1" stroke="#7f7d7c" stroke-width="0.6406391149300245" fill="none" stroke-linecap="round" opacity="0.85"/>
<path d="M95.3,421.1 Q96.3,421.5 101.7,416.2" stroke="#e6e6e6" stroke-width="1.1929847266783447" fill="none" stroke-linecap="round" opacity="0.85"/>
<path d="M89.6,414.2 Q94.1,414.8 94.0,410.5" stroke="#eeeeee" stroke-width="0.6288225104486644" fill="none" stroke-linecap="round" opacity="0.85"/>
<path d="M76.9,416.3 Q78.7,418.2 82.1,415.0" stroke="#7f7d7c" stroke-width="0.6319159024889746" fill="none" stroke-linecap="round" opacity="0.85"/>
<path d="M76.1,418.5 Q80.6,420.8 84.3,418.5" stroke="#eeeeee" stroke-width="1.1995820889148314" fill="none" stroke-linecap="round" opacity="0.85"/>
<path d="M115.5,410.9 Q118.9,407.3 126.1,404.7" stroke="#e6e6e6" stroke-width="1.1892515774040655" fill="none" stroke-linecap="round" opacity="0.85"/>
<path d="M74.4,422.8 Q82.5,422.3 87.0,424.6" stroke="#7f7d7c" stroke-width="1.16102255051193" fill="none" stroke-linecap="round" opacity="0.85"/>
<path d="M77.8,407.5 Q83.7,405.9 84.5,406.1" stroke="#7f7d7c" stroke-width="1.2362763993222894" fill="none" stroke-linecap="round" opacity="0.85"/>
<path d="M67.1,407.2 Q72.8,408.1 74.1,403.4" stroke="#ffffff" stroke-width="0.8809169032662018" fill="none" stroke-linecap="round" opacity="0.85"/>
<path d="M86.7,418.5 Q87.7,421.5 94.5,420.0" stroke="#ffffff" stroke-width="0.7428542529379709" fill="none" stroke-linecap="round" opacity="0.85"/>
<path d="M118.1,411.4 Q123.2,407.8 125.5,406.4" stroke="#eeeeee" stroke-width="1.387388679453272" fill="none" stroke-linecap="round" opacity="0.85"/>
<path d="M59.3,422.3 Q61.3,421.1 64.1,419.7" stroke="#7f7d7c" stroke-width="1.0307615976742335" fill="none" stroke-linecap="round" opacity="0.85"/>
<path d="M101.2,419.6 Q102.8,420.6 109.5,419.6" stroke="#ffffff" stroke-width="1.0985243279571273" fill="none" stroke-linecap="round" opacity="0.85"/>
<path d="M97.3,408.9 Q103.0,409.1 106.6,411.3" stroke="#8a8886" stroke-width="0.8365241620207575" fill="none" stroke-linecap="round" opacity="0.85"/>
<path d="M60.1,414.0 Q67.9,416.3 70.8,417.2" stroke="#ffffff" stroke-width="0.9248601350065302" fill="none" stroke-linecap="round" opacity="0.85"/>
<path d="M109.2,412.0 Q115.2,408.2 119.9,406.5" stroke="#dcdcdc" stroke-width="0.9537278394438459" fill="none" stroke-linecap="round" opacity="0.85"/>
<path d="M66.1,414.9 Q70.0,413.9 77.9,417.9" stroke="#eeeeee" stroke-width="1.1310830690439988" fill="none" stroke-linecap="round" opacity="0.85"/>
<path d="M94.3,408.4 Q96.5,411.3 101.1,410.5" stroke="#e6e6e6" stroke-width="0.619540310181461" fill="none" stroke-linecap="round" opacity="0.85"/>
<path d="M68.3,415.0 Q70.6,416.3 73.8,416.1" stroke="#e6e6e6" stroke-width="1.174676732399191" fill="none" stroke-linecap="round" opacity="0.85"/>
<path d="M77.9,413.7 Q85.1,412.9 87.5,407.9" stroke="#f4f4f4" stroke-width="1.2227363254138601" fill="none" stroke-linecap="round" opacity="0.85"/>
<path d="M66.5,420.6 Q71.4,423.3 75.7,420.9" stroke="#f4f4f4" stroke-width="0.965169460376138" fill="none" stroke-linecap="round" opacity="0.85"/>
<path d="M106.9,418.3 Q114.5,422.3 116.7,421.7" stroke="#eeeeee" stroke-width="1.252005205865347" fill="none" stroke-linecap="round" opacity="0.85"/>
<path d="M113.2,414.1 Q115.5,417.4 121.9,416.4" stroke="#dcdcdc" stroke-width="0.8073532387720155" fill="none" stroke-linecap="round" opacity="0.85"/>
<path d="M68.5,417.8 Q74.0,416.9 78.1,418.8" stroke="#f4f4f4" stroke-width="1.1708358900888451" fill="none" stroke-linecap="round" opacity="0.85"/>
<path d="M67.6,412.6 Q68.3,412.5 73.1,413.9" stroke="#e6e6e6" stroke-width="1.1651353133556417" fill="none" stroke-linecap="round" opacity="0.85"/>
<path d="M55.8,413.8 Q58.3,412.8 64.4,412.7" stroke="#7f7d7c" stroke-width="1.06726353136338" fill="none" stroke-linecap="round" opacity="0.85"/>
<path d="M99.6,421.5 Q100.8,421.1 107.9,422.4" stroke="#7f7d7c" stroke-width="0.9119893184509751" fill="none" stroke-linecap="round" opacity="0.85"/>
<path d="M113.2,421.2 Q120.7,422.8 124.7,419.6" stroke="#dcdcdc" stroke-width="0.7755373076971489" fill="none" stroke-linecap="round" opacity="0.85"/>
<path d="M81.5,407.3 Q86.2,403.4 92.0,403.5" stroke="#dcdcdc" stroke-width="1.3356332965351807" fill="none" stroke-linecap="round" opacity="0.85"/>
<path d="M119.4,416.0 Q125.3,414.8 129.4,418.6" stroke="#dcdcdc" stroke-width="0.7085595897844513" fill="none" stroke-linecap="round" opacity="0.85"/>
<path d="M83.3,407.7 Q85.6,408.2 89.9,405.6" stroke="#dcdcdc" stroke-width="0.8226052925110448" fill="none" stroke-linecap="round" opacity="0.85"/>
<path d="M117.3,414.1 Q123.4,412.2 126.4,415.7" stroke="#ffffff" stroke-width="0.7793777325757985" fill="none" stroke-linecap="round" opacity="0.85"/>
<path d="M56.1,423.3 Q56.6,423.7 60.2,420.0" stroke="#eeeeee" stroke-width="0.7219058766278322" fill="none" stroke-linecap="round" opacity="0.85"/>
<path d="M60.1,418.3 Q64.7,419.5 67.0,417.6" stroke="#e6e6e6" stroke-width="1.084714154048249" fill="none" stroke-linecap="round" opacity="0.85"/>
<path d="M118.2,419.2 Q120.3,420.0 124.6,419.9" stroke="#ffffff" stroke-width="1.0606373827299311" fill="none" stroke-linecap="round" opacity="0.85"/>
<path d="M114.3,413.3 Q118.1,416.2 120.8,415.2" stroke="#e6e6e6" stroke-width="0.6815210443567812" fill="none" stroke-linecap="round" opacity="0.85"/>
<path d="M104.9,421.4 Q110.9,422.9 111.0,421.0" stroke="#ffffff" stroke-width="1.0261961962484" fill="none" stroke-linecap="round" opacity="0.85"/>
<path d="M97.2,408.0 Q99.3,407.9 102.3,407.9" stroke="#dcdcdc" stroke-width="1.3686300537716627" fill="none" stroke-linecap="round" opacity="0.85"/>
<path d="M95.4,421.1 Q101.3,424.0 104.3,421.4" stroke="#ffffff" stroke-width="1.0927298832428407" fill="none" stroke-linecap="round" opacity="0.85"/>
<path d="M115.1,420.1 Q121.8,417.8 127.3,417.5" stroke="#e6e6e6" stroke-width="1.2645848151124826" fill="none" stroke-linecap="round" opacity="0.85"/>
<path d="M57.3,422.0 Q62.1,419.3 65.6,418.0" stroke="#f4f4f4" stroke-width="0.9954452028927375" fill="none" stroke-linecap="round" opacity="0.85"/>
<path d="M73.9,415.2 Q76.0,414.6 80.8,412.8" stroke="#ffffff" stroke-width="1.044632822335667" fill="none" stroke-linecap="round" opacity="0.85"/>
<path d="M87.2,410.1 Q91.4,406.7 95.0,406.3" stroke="#dcdcdc" stroke-width="1.1167223197927618" fill="none" stroke-linecap="round" opacity="0.85"/>
<path d="M85.4,420.4 Q89.4,417.3 91.1,416.5" stroke="#eeeeee" stroke-width="0.8952163605288295" fill="none" stroke-linecap="round" opacity="0.85"/>
<path d="M89.7,412.7 Q93.5,414.1 99.1,416.1" stroke="#ffffff" stroke-width="0.8011229409607532" fill="none" stroke-linecap="round" opacity="0.85"/>
<path d="M59.7,410.1 Q65.4,405.6 67.9,404.8" stroke="#e6e6e6" stroke-width="1.1908837228071605" fill="none" stroke-linecap="round" opacity="0.85"/>
<path d="M70.5,416.9 Q78.5,419.4 80.8,418.0" stroke="#ffffff" stroke-width="0.7819865307860437" fill="none" stroke-linecap="round" opacity="0.85"/>
<path d="M63.8,407.0 Q70.3,406.8 71.1,406.0" stroke="#8a8886" stroke-width="1.3552716918365924" fill="none" stroke-linecap="round" opacity="0.85"/>
<path d="M95.6,419.7 Q96.4,418.2 99.8,416.9" stroke="#ffffff" stroke-width="0.7474909363120653" fill="none" stroke-linecap="round" opacity="0.85"/>
<path d="M54.9,423.0 Q60.3,419.2 67.0,420.5" stroke="#8a8886" stroke-width="1.1491608146048131" fill="none" stroke-linecap="round" opacity="0.85"/>
<path d="M61.8,420.8 Q63.1,421.9 67.3,422.4" stroke="#dcdcdc" stroke-width="1.08505412099437" fill="none" stroke-linecap="round" opacity="0.85"/>
<path d="M106.2,410.7 Q110.3,412.2 115.1,409.3" stroke="#dcdcdc" stroke-width="0.8443041954554883" fill="none" stroke-linecap="round" opacity="0.85"/>
<path d="M94.4,417.3 Q99.4,416.1 107.9,418.3" stroke="#8a8886" stroke-width="0.6649499723735874" fill="none" stroke-linecap="round" opacity="0.85"/>
</g>
<rect x="54.20" y="405.70" width="67.60" height="19.40" fill="none" stroke="#000" stroke-width="2.2" />
<rect x="137.70" y="405.70" width="67.00" height="19.20" fill="#d3d3d3" stroke="#000" stroke-width="2.2" />
<circle cx="171.2" cy="415.4" r="7.3999999999999995" fill="#555" opacity="0.5"/>
<circle cx="171.2" cy="415.4" r="6.8" fill="#1c1c1c"/>
<line x1="53.10" y1="437.20" x2="79.70" y2="437.20" stroke="#000" stroke-width="2.5" stroke-dasharray="6.8,2.6" stroke-linecap="butt"/>
<text x="85.66" y="440.80" font-size="9.6" font-weight="bold" textLength="30.35" lengthAdjust="spacingAndGlyphs" fill="#000">2D WT</text>
<line x1="53.10" y1="450.40" x2="79.70" y2="450.40" stroke="#f00000" stroke-width="2.5" stroke-dasharray="6.8,2.6" stroke-linecap="butt"/>
<text x="85.66" y="454.00" font-size="9.6" font-weight="bold" textLength="43.03" lengthAdjust="spacingAndGlyphs" fill="#000">2D T2 k/o</text>
<line x1="137.00" y1="437.20" x2="166.80" y2="437.20" stroke="#000" stroke-width="2.5" stroke-linecap="butt"/>
<text x="171.66" y="440.80" font-size="9.6" font-weight="bold" textLength="30.25" lengthAdjust="spacingAndGlyphs" fill="#000">3D WT</text>
<line x1="137.00" y1="450.40" x2="166.80" y2="450.40" stroke="#f00000" stroke-width="2.5" stroke-linecap="butt"/>
<text x="171.65" y="454.00" font-size="9.6" font-weight="bold" textLength="43.75" lengthAdjust="spacingAndGlyphs" fill="#000">3D T2 k/o</text>
<line x1="56.00" y1="488.30" x2="56.00" y2="598.80" stroke="#000" stroke-width="1.9" stroke-linecap="butt"/>
<line x1="52.80" y1="597.80" x2="56.00" y2="597.80" stroke="#000" stroke-width="1.7" stroke-linecap="butt"/>
<text x="45.64" y="601.80" font-size="10.4" font-weight="bold" fill="#000">0</text>
<line x1="52.80" y1="579.65" x2="56.00" y2="579.65" stroke="#000" stroke-width="1.7" stroke-linecap="butt"/>
<text x="39.87" y="583.65" font-size="10.4" font-weight="bold" fill="#000">20</text>
<line x1="52.80" y1="561.50" x2="56.00" y2="561.50" stroke="#000" stroke-width="1.7" stroke-linecap="butt"/>
<text x="39.87" y="565.50" font-size="10.4" font-weight="bold" fill="#000">40</text>
<line x1="52.80" y1="543.35" x2="56.00" y2="543.35" stroke="#000" stroke-width="1.7" stroke-linecap="butt"/>
<text x="39.87" y="547.35" font-size="10.4" font-weight="bold" fill="#000">60</text>
<line x1="52.80" y1="525.20" x2="56.00" y2="525.20" stroke="#000" stroke-width="1.7" stroke-linecap="butt"/>
<text x="39.87" y="529.20" font-size="10.4" font-weight="bold" fill="#000">80</text>
<line x1="52.80" y1="507.05" x2="56.00" y2="507.05" stroke="#000" stroke-width="1.7" stroke-linecap="butt"/>
<text x="34.10" y="511.05" font-size="10.4" font-weight="bold" fill="#000">100</text>
<line x1="52.80" y1="488.90" x2="56.00" y2="488.90" stroke="#000" stroke-width="1.7" stroke-linecap="butt"/>
<text x="34.10" y="492.90" font-size="10.4" font-weight="bold" fill="#000">120</text>
<line x1="55.00" y1="597.80" x2="71.50" y2="597.80" stroke="#000" stroke-width="1.9" stroke-linecap="butt"/>
<line x1="71.50" y1="595.20" x2="71.50" y2="600.40" stroke="#000" stroke-width="1.6" stroke-linecap="butt"/>
<line x1="78.40" y1="597.80" x2="219.20" y2="597.80" stroke="#000" stroke-width="1.9" stroke-linecap="butt"/>
<line x1="79.20" y1="595.20" x2="79.20" y2="600.40" stroke="#000" stroke-width="1.6" stroke-linecap="butt"/>
<line x1="56.00" y1="597.80" x2="56.00" y2="600.60" stroke="#000" stroke-width="1.6" stroke-linecap="butt"/>
<line x1="107.04" y1="597.80" x2="107.04" y2="600.60" stroke="#000" stroke-width="1.6" stroke-linecap="butt"/>
<line x1="134.88" y1="597.80" x2="134.88" y2="600.60" stroke="#000" stroke-width="1.6" stroke-linecap="butt"/>
<line x1="162.72" y1="597.80" x2="162.72" y2="600.60" stroke="#000" stroke-width="1.6" stroke-linecap="butt"/>
<line x1="190.56" y1="597.80" x2="190.56" y2="600.60" stroke="#000" stroke-width="1.6" stroke-linecap="butt"/>
<line x1="218.40" y1="597.80" x2="218.40" y2="600.60" stroke="#000" stroke-width="1.6" stroke-linecap="butt"/>
<text x="52.93" y="612.20" font-size="10.0" font-weight="bold" fill="#000">0</text>
<text x="70.60" y="612.50" font-size="10.0" font-weight="bold" textLength="11.12" lengthAdjust="spacingAndGlyphs" fill="#000">10</text>
<text x="81.94" y="609.00" font-size="6.6" font-weight="bold" fill="#000">-4</text>
<text x="98.44" y="612.50" font-size="10.0" font-weight="bold" textLength="11.12" lengthAdjust="spacingAndGlyphs" fill="#000">10</text>
<text x="109.78" y="609.00" font-size="6.6" font-weight="bold" fill="#000">-3</text>
<text x="126.28" y="612.50" font-size="10.0" font-weight="bold" textLength="11.12" lengthAdjust="spacingAndGlyphs" fill="#000">10</text>
<text x="137.62" y="609.00" font-size="6.6" font-weight="bold" fill="#000">-2</text>
<text x="154.12" y="612.50" font-size="10.0" font-weight="bold" textLength="11.12" lengthAdjust="spacingAndGlyphs" fill="#000">10</text>
<text x="165.46" y="609.00" font-size="6.6" font-weight="bold" fill="#000">-1</text>
<text x="181.96" y="612.50" font-size="10.0" font-weight="bold" textLength="11.12" lengthAdjust="spacingAndGlyphs" fill="#000">10</text>
<text x="193.30" y="609.00" font-size="6.6" font-weight="bold" fill="#000">0</text>
<text x="209.80" y="612.50" font-size="10.0" font-weight="bold" textLength="11.12" lengthAdjust="spacingAndGlyphs" fill="#000">10</text>
<text x="221.00" y="609.00" font-size="6.6" font-weight="bold" fill="#000">1</text>
<text x="110.00" y="626.50" font-size="10.0" font-weight="bold" textLength="54.81" lengthAdjust="spacingAndGlyphs" fill="#000">TRAIL [nM]</text>
<text transform="translate(15.80,569.75) rotate(-90)" x="0" y="0" font-size="10.5" font-weight="bold" textLength="55.19" lengthAdjust="spacingAndGlyphs" fill="#000">viable cells</text>
<text transform="translate(28.20,575.27) rotate(-90)" x="0" y="0" font-size="10.5" font-weight="bold" textLength="66.67" lengthAdjust="spacingAndGlyphs" fill="#000">[% of control]</text>
<line x1="57.00" y1="507.90" x2="71.00" y2="507.90" stroke="#f00000" stroke-width="1.8" stroke-linecap="butt"/>
<path d="M79.20,507.90 L80.63,507.90 L82.05,507.90 L83.48,507.90 L84.91,507.90 L86.33,507.90 L87.76,507.90 L89.18,507.90 L90.61,507.90 L92.04,507.90 L93.46,507.90 L94.89,507.90 L96.32,507.90 L97.74,507.90 L99.17,507.90 L100.60,507.90 L102.02,507.90 L103.45,507.90 L104.88,507.90 L106.30,507.90 L107.73,507.90 L109.15,507.90 L110.58,507.90 L112.01,507.90 L113.43,507.90 L114.86,507.90 L116.29,507.90 L117.71,507.90 L119.14,507.90 L120.57,507.90 L121.99,507.90 L123.42,507.90 L124.85,507.90 L126.27,507.91 L127.70,507.91 L129.12,507.91 L130.55,507.91 L131.98,507.91 L133.40,507.92 L134.83,507.92 L136.26,507.92 L137.68,507.92 L139.11,507.93 L140.54,507.93 L141.96,507.94 L143.39,507.94 L144.81,507.95 L146.24,507.96 L147.67,507.97 L149.09,507.98 L150.52,507.99 L151.95,508.00 L153.37,508.02 L154.80,508.03 L156.23,508.05 L157.65,508.08 L159.08,508.10 L160.51,508.13 L161.93,508.16 L163.36,508.20 L164.78,508.24 L166.21,508.29 L167.64,508.35 L169.06,508.41 L170.49,508.49 L171.92,508.57 L173.34,508.66 L174.77,508.77 L176.20,508.89 L177.62,509.03 L179.05,509.19 L180.48,509.37 L181.90,509.57 L183.33,509.81 L184.75,510.07 L186.18,510.37 L187.61,510.71 L189.03,511.09 L190.46,511.53 L191.89,512.02 L193.31,512.58 L194.74,513.20 L196.17,513.91 L197.59,514.71 L199.02,515.60 L200.44,516.60 L201.87,517.71 L203.30,518.95 L204.72,520.33 L206.15,521.86" stroke="#f00000" stroke-width="1.8" fill="none" />
<line x1="57.00" y1="510.86" x2="71.00" y2="510.86" stroke="#f00000" stroke-width="1.8" stroke-dasharray="4.6,2.6" stroke-linecap="butt"/>
<path d="M79.20,510.86 L80.63,510.88 L82.05,510.90 L83.48,510.92 L84.91,510.94 L86.33,510.97 L87.76,511.00 L89.18,511.03 L90.61,511.06 L92.04,511.10 L93.46,511.14 L94.89,511.19 L96.32,511.23 L97.74,511.29 L99.17,511.35 L100.60,511.41 L102.02,511.48 L103.45,511.56 L104.88,511.64 L106.30,511.73 L107.73,511.83 L109.15,511.94 L110.58,512.06 L112.01,512.19 L113.43,512.33 L114.86,512.48 L116.29,512.65 L117.71,512.83 L119.14,513.03 L120.57,513.24 L121.99,513.48 L123.42,513.74 L124.85,514.01 L126.27,514.31 L127.70,514.64 L129.12,514.99 L130.55,515.38 L131.98,515.79 L133.40,516.24 L134.83,516.72 L136.26,517.24 L137.68,517.80 L139.11,518.41 L140.54,519.05 L141.96,519.74 L143.39,520.48 L144.81,521.27 L146.24,522.11 L147.67,523.00 L149.09,523.95 L150.52,524.95 L151.95,526.00 L153.37,527.11 L154.80,528.27 L156.23,529.48 L157.65,530.74 L159.08,532.05 L160.51,533.40 L161.93,534.80 L163.36,536.23 L164.78,537.69 L166.21,539.19 L167.64,540.70 L169.06,542.23 L170.49,543.77 L171.92,545.32 L173.34,546.86 L174.77,548.39 L176.20,549.90 L177.62,551.40 L179.05,552.87 L180.48,554.30 L181.90,555.70 L183.33,557.06 L184.75,558.37 L186.18,559.64 L187.61,560.86 L189.03,562.02 L190.46,563.13 L191.89,564.19 L193.31,565.19 L194.74,566.14 L196.17,567.04 L197.59,567.89 L199.02,568.68 L200.44,569.42 L201.87,570.12 L203.30,570.77 L204.72,571.38 L206.15,571.94" stroke="#f00000" stroke-width="1.8" fill="none" stroke-dasharray="4.6,2.6"/>
<line x1="57.00" y1="508.01" x2="71.00" y2="508.01" stroke="#000" stroke-width="1.8" stroke-linecap="butt"/>
<path d="M79.20,508.01 L80.63,508.03 L82.05,508.04 L83.48,508.05 L84.91,508.07 L86.33,508.08 L87.76,508.10 L89.18,508.12 L90.61,508.14 L92.04,508.17 L93.46,508.19 L94.89,508.22 L96.32,508.25 L97.74,508.28 L99.17,508.31 L100.60,508.35 L102.02,508.39 L103.45,508.44 L104.88,508.49 L106.30,508.54 L107.73,508.60 L109.15,508.66 L110.58,508.73 L112.01,508.80 L113.43,508.88 L114.86,508.96 L116.29,509.06 L117.71,509.16 L119.14,509.27 L120.57,509.39 L121.99,509.52 L123.42,509.66 L124.85,509.81 L126.27,509.97 L127.70,510.15 L129.12,510.35 L130.55,510.56 L131.98,510.78 L133.40,511.03 L134.83,511.29 L136.26,511.58 L137.68,511.89 L139.11,512.22 L140.54,512.58 L141.96,512.97 L143.39,513.39 L144.81,513.85 L146.24,514.33 L147.67,514.86 L149.09,515.42 L150.52,516.03 L151.95,516.68 L153.37,517.38 L154.80,518.12 L156.23,518.92 L157.65,519.77 L159.08,520.69 L160.51,521.66 L161.93,522.69 L163.36,523.79 L164.78,524.95 L166.21,526.18 L167.64,527.48 L169.06,528.86 L170.49,530.30 L171.92,531.82 L173.34,533.40 L174.77,535.06 L176.20,536.79 L177.62,538.59 L179.05,540.45 L180.48,542.38 L181.90,544.37 L183.33,546.40 L184.75,548.49 L186.18,550.63 L187.61,552.80 L189.03,555.00 L190.46,557.22 L191.89,559.46 L193.31,561.71 L194.74,563.96 L196.17,566.20 L197.59,568.43 L199.02,570.63 L200.44,572.81 L201.87,574.95 L203.30,577.05 L204.72,579.10 L206.15,581.09" stroke="#000" stroke-width="1.8" fill="none" />
<line x1="57.00" y1="510.12" x2="71.00" y2="510.12" stroke="#000" stroke-width="1.8" stroke-dasharray="4.6,2.6" stroke-linecap="butt"/>
<path d="M79.20,510.12 L80.63,510.15 L82.05,510.19 L83.48,510.24 L84.91,510.29 L86.33,510.35 L87.76,510.41 L89.18,510.48 L90.61,510.55 L92.04,510.63 L93.46,510.72 L94.89,510.82 L96.32,510.93 L97.74,511.05 L99.17,511.18 L100.60,511.32 L102.02,511.48 L103.45,511.65 L104.88,511.84 L106.30,512.05 L107.73,512.28 L109.15,512.53 L110.58,512.81 L112.01,513.11 L113.43,513.44 L114.86,513.80 L116.29,514.19 L117.71,514.62 L119.14,515.09 L120.57,515.59 L121.99,516.15 L123.42,516.75 L124.85,517.40 L126.27,518.10 L127.70,518.86 L129.12,519.68 L130.55,520.57 L131.98,521.52 L133.40,522.53 L134.83,523.62 L136.26,524.79 L137.68,526.02 L139.11,527.33 L140.54,528.72 L141.96,530.18 L143.39,531.72 L144.81,533.32 L146.24,535.00 L147.67,536.73 L149.09,538.53 L150.52,540.38 L151.95,542.28 L153.37,544.22 L154.80,546.19 L156.23,548.18 L157.65,550.18 L159.08,552.19 L160.51,554.19 L161.93,556.17 L163.36,558.14 L164.78,560.06 L166.21,561.95 L167.64,563.79 L169.06,565.57 L170.49,567.29 L171.92,568.95 L173.34,570.54 L174.77,572.05 L176.20,573.49 L177.62,574.86 L179.05,576.15 L180.48,577.37 L181.90,578.51 L183.33,579.58 L184.75,580.58 L186.18,581.51 L187.61,582.38 L189.03,583.18 L190.46,583.93 L191.89,584.62 L193.31,585.25 L194.74,585.84 L196.17,586.38 L197.59,586.88 L199.02,587.33 L200.44,587.75 L201.87,588.14 L203.30,588.49 L204.72,588.81 L206.15,589.10" stroke="#000" stroke-width="1.8" fill="none" stroke-dasharray="4.6,2.6"/>
<line x1="102.03" y1="505.55" x2="102.03" y2="508.55" stroke="#f00000" stroke-width="1.3" stroke-linecap="butt"/>
<line x1="99.93" y1="505.55" x2="104.13" y2="505.55" stroke="#f00000" stroke-width="1.3" stroke-linecap="butt"/>
<line x1="99.93" y1="508.55" x2="104.13" y2="508.55" stroke="#f00000" stroke-width="1.3" stroke-linecap="butt"/>
<path d="M102.03,504.15 L104.73,508.95 L99.33,508.95 Z" stroke="none" stroke-width="1" fill="#f00000" />
<line x1="115.11" y1="506.00" x2="115.11" y2="509.00" stroke="#f00000" stroke-width="1.3" stroke-linecap="butt"/>
<line x1="113.01" y1="506.00" x2="117.21" y2="506.00" stroke="#f00000" stroke-width="1.3" stroke-linecap="butt"/>
<line x1="113.01" y1="509.00" x2="117.21" y2="509.00" stroke="#f00000" stroke-width="1.3" stroke-linecap="butt"/>
<path d="M115.11,504.60 L117.81,509.40 L112.41,509.40 Z" stroke="none" stroke-width="1" fill="#f00000" />
<line x1="143.51" y1="506.00" x2="143.51" y2="509.00" stroke="#f00000" stroke-width="1.3" stroke-linecap="butt"/>
<line x1="141.41" y1="506.00" x2="145.61" y2="506.00" stroke="#f00000" stroke-width="1.3" stroke-linecap="butt"/>
<line x1="141.41" y1="509.00" x2="145.61" y2="509.00" stroke="#f00000" stroke-width="1.3" stroke-linecap="butt"/>
<path d="M143.51,504.60 L146.21,509.40 L140.81,509.40 Z" stroke="none" stroke-width="1" fill="#f00000" />
<line x1="170.79" y1="507.91" x2="170.79" y2="510.91" stroke="#f00000" stroke-width="1.3" stroke-linecap="butt"/>
<line x1="168.69" y1="507.91" x2="172.89" y2="507.91" stroke="#f00000" stroke-width="1.3" stroke-linecap="butt"/>
<line x1="168.69" y1="510.91" x2="172.89" y2="510.91" stroke="#f00000" stroke-width="1.3" stroke-linecap="butt"/>
<path d="M170.79,506.51 L173.49,511.31 L168.09,511.31 Z" stroke="none" stroke-width="1" fill="#f00000" />
<line x1="184.16" y1="508.91" x2="184.16" y2="511.91" stroke="#f00000" stroke-width="1.3" stroke-linecap="butt"/>
<line x1="182.06" y1="508.91" x2="186.26" y2="508.91" stroke="#f00000" stroke-width="1.3" stroke-linecap="butt"/>
<line x1="182.06" y1="511.91" x2="186.26" y2="511.91" stroke="#f00000" stroke-width="1.3" stroke-linecap="butt"/>
<path d="M184.16,507.51 L186.86,512.31 L181.46,512.31 Z" stroke="none" stroke-width="1" fill="#f00000" />
<line x1="197.80" y1="512.63" x2="197.80" y2="515.63" stroke="#f00000" stroke-width="1.3" stroke-linecap="butt"/>
<line x1="195.70" y1="512.63" x2="199.90" y2="512.63" stroke="#f00000" stroke-width="1.3" stroke-linecap="butt"/>
<line x1="195.70" y1="515.63" x2="199.90" y2="515.63" stroke="#f00000" stroke-width="1.3" stroke-linecap="butt"/>
<path d="M197.80,511.23 L200.50,516.03 L195.10,516.03 Z" stroke="none" stroke-width="1" fill="#f00000" />
<line x1="206.15" y1="520.61" x2="206.15" y2="523.61" stroke="#f00000" stroke-width="1.3" stroke-linecap="butt"/>
<line x1="204.05" y1="520.61" x2="208.25" y2="520.61" stroke="#f00000" stroke-width="1.3" stroke-linecap="butt"/>
<line x1="204.05" y1="523.61" x2="208.25" y2="523.61" stroke="#f00000" stroke-width="1.3" stroke-linecap="butt"/>
<path d="M206.15,519.21 L208.85,524.01 L203.45,524.01 Z" stroke="none" stroke-width="1" fill="#f00000" />
<line x1="102.03" y1="509.50" x2="102.03" y2="515.50" stroke="#f00000" stroke-width="1.3" stroke-linecap="butt"/>
<line x1="99.93" y1="509.50" x2="104.13" y2="509.50" stroke="#f00000" stroke-width="1.3" stroke-linecap="butt"/>
<line x1="99.93" y1="515.50" x2="104.13" y2="515.50" stroke="#f00000" stroke-width="1.3" stroke-linecap="butt"/>
<rect x="99.93" y="510.39" width="4.20" height="4.20" fill="#f00000" stroke="none" stroke-width="1" />
<line x1="115.11" y1="511.31" x2="115.11" y2="517.31" stroke="#f00000" stroke-width="1.3" stroke-linecap="butt"/>
<line x1="113.01" y1="511.31" x2="117.21" y2="511.31" stroke="#f00000" stroke-width="1.3" stroke-linecap="butt"/>
<line x1="113.01" y1="517.31" x2="117.21" y2="517.31" stroke="#f00000" stroke-width="1.3" stroke-linecap="butt"/>
<rect x="113.01" y="512.21" width="4.20" height="4.20" fill="#f00000" stroke="none" stroke-width="1" />
<line x1="143.51" y1="516.94" x2="143.51" y2="522.94" stroke="#f00000" stroke-width="1.3" stroke-linecap="butt"/>
<line x1="141.41" y1="516.94" x2="145.61" y2="516.94" stroke="#f00000" stroke-width="1.3" stroke-linecap="butt"/>
<line x1="141.41" y1="522.94" x2="145.61" y2="522.94" stroke="#f00000" stroke-width="1.3" stroke-linecap="butt"/>
<rect x="141.41" y="517.84" width="4.20" height="4.20" fill="#f00000" stroke="none" stroke-width="1" />
<line x1="170.79" y1="529.99" x2="170.79" y2="557.99" stroke="#f00000" stroke-width="1.3" stroke-linecap="butt"/>
<line x1="168.69" y1="529.99" x2="172.89" y2="529.99" stroke="#f00000" stroke-width="1.3" stroke-linecap="butt"/>
<line x1="168.69" y1="557.99" x2="172.89" y2="557.99" stroke="#f00000" stroke-width="1.3" stroke-linecap="butt"/>
<rect x="168.69" y="541.89" width="4.20" height="4.20" fill="#f00000" stroke="none" stroke-width="1" />
<line x1="184.16" y1="540.87" x2="184.16" y2="574.87" stroke="#f00000" stroke-width="1.3" stroke-linecap="butt"/>
<line x1="182.06" y1="540.87" x2="186.26" y2="540.87" stroke="#f00000" stroke-width="1.3" stroke-linecap="butt"/>
<line x1="182.06" y1="574.87" x2="186.26" y2="574.87" stroke="#f00000" stroke-width="1.3" stroke-linecap="butt"/>
<rect x="182.06" y="555.77" width="4.20" height="4.20" fill="#f00000" stroke="none" stroke-width="1" />
<line x1="197.80" y1="556.76" x2="197.80" y2="580.76" stroke="#f00000" stroke-width="1.3" stroke-linecap="butt"/>
<line x1="195.70" y1="556.76" x2="199.90" y2="556.76" stroke="#f00000" stroke-width="1.3" stroke-linecap="butt"/>
<line x1="195.70" y1="580.76" x2="199.90" y2="580.76" stroke="#f00000" stroke-width="1.3" stroke-linecap="butt"/>
<rect x="195.70" y="566.66" width="4.20" height="4.20" fill="#f00000" stroke="none" stroke-width="1" />
<line x1="206.15" y1="561.30" x2="206.15" y2="581.30" stroke="#f00000" stroke-width="1.3" stroke-linecap="butt"/>
<line x1="204.05" y1="561.30" x2="208.25" y2="561.30" stroke="#f00000" stroke-width="1.3" stroke-linecap="butt"/>
<line x1="204.05" y1="581.30" x2="208.25" y2="581.30" stroke="#f00000" stroke-width="1.3" stroke-linecap="butt"/>
<rect x="204.05" y="569.20" width="4.20" height="4.20" fill="#f00000" stroke="none" stroke-width="1" />
<line x1="102.03" y1="505.96" x2="102.03" y2="509.96" stroke="#000" stroke-width="1.3" stroke-linecap="butt"/>
<line x1="99.93" y1="505.96" x2="104.13" y2="505.96" stroke="#000" stroke-width="1.3" stroke-linecap="butt"/>
<line x1="99.93" y1="509.96" x2="104.13" y2="509.96" stroke="#000" stroke-width="1.3" stroke-linecap="butt"/>
<path d="M102.03,505.06 L104.73,509.86 L99.33,509.86 Z" stroke="none" stroke-width="1" fill="#000" />
<line x1="115.11" y1="507.77" x2="115.11" y2="511.77" stroke="#000" stroke-width="1.3" stroke-linecap="butt"/>
<line x1="113.01" y1="507.77" x2="117.21" y2="507.77" stroke="#000" stroke-width="1.3" stroke-linecap="butt"/>
<line x1="113.01" y1="511.77" x2="117.21" y2="511.77" stroke="#000" stroke-width="1.3" stroke-linecap="butt"/>
<path d="M115.11,506.87 L117.81,511.67 L112.41,511.67 Z" stroke="none" stroke-width="1" fill="#000" />
<line x1="143.51" y1="512.13" x2="143.51" y2="516.13" stroke="#000" stroke-width="1.3" stroke-linecap="butt"/>
<line x1="141.41" y1="512.13" x2="145.61" y2="512.13" stroke="#000" stroke-width="1.3" stroke-linecap="butt"/>
<line x1="141.41" y1="516.13" x2="145.61" y2="516.13" stroke="#000" stroke-width="1.3" stroke-linecap="butt"/>
<path d="M143.51,511.23 L146.21,516.03 L140.81,516.03 Z" stroke="none" stroke-width="1" fill="#000" />
<line x1="170.79" y1="527.10" x2="170.79" y2="533.10" stroke="#000" stroke-width="1.3" stroke-linecap="butt"/>
<line x1="168.69" y1="527.10" x2="172.89" y2="527.10" stroke="#000" stroke-width="1.3" stroke-linecap="butt"/>
<line x1="168.69" y1="533.10" x2="172.89" y2="533.10" stroke="#000" stroke-width="1.3" stroke-linecap="butt"/>
<path d="M170.79,527.20 L173.49,532.00 L168.09,532.00 Z" stroke="none" stroke-width="1" fill="#000" />
<line x1="184.16" y1="544.21" x2="184.16" y2="551.21" stroke="#000" stroke-width="1.3" stroke-linecap="butt"/>
<line x1="182.06" y1="544.21" x2="186.26" y2="544.21" stroke="#000" stroke-width="1.3" stroke-linecap="butt"/>
<line x1="182.06" y1="551.21" x2="186.26" y2="551.21" stroke="#000" stroke-width="1.3" stroke-linecap="butt"/>
<path d="M184.16,544.81 L186.86,549.61 L181.46,549.61 Z" stroke="none" stroke-width="1" fill="#000" />
<line x1="197.80" y1="565.76" x2="197.80" y2="571.76" stroke="#000" stroke-width="1.3" stroke-linecap="butt"/>
<line x1="195.70" y1="565.76" x2="199.90" y2="565.76" stroke="#000" stroke-width="1.3" stroke-linecap="butt"/>
<line x1="195.70" y1="571.76" x2="199.90" y2="571.76" stroke="#000" stroke-width="1.3" stroke-linecap="butt"/>
<path d="M197.80,565.86 L200.50,570.66 L195.10,570.66 Z" stroke="none" stroke-width="1" fill="#000" />
<line x1="206.15" y1="578.19" x2="206.15" y2="584.19" stroke="#000" stroke-width="1.3" stroke-linecap="butt"/>
<line x1="204.05" y1="578.19" x2="208.25" y2="578.19" stroke="#000" stroke-width="1.3" stroke-linecap="butt"/>
<line x1="204.05" y1="584.19" x2="208.25" y2="584.19" stroke="#000" stroke-width="1.3" stroke-linecap="butt"/>
<path d="M206.15,578.29 L208.85,583.09 L203.45,583.09 Z" stroke="none" stroke-width="1" fill="#000" />
<line x1="102.03" y1="507.68" x2="102.03" y2="513.68" stroke="#000" stroke-width="1.3" stroke-linecap="butt"/>
<line x1="99.93" y1="507.68" x2="104.13" y2="507.68" stroke="#000" stroke-width="1.3" stroke-linecap="butt"/>
<line x1="99.93" y1="513.68" x2="104.13" y2="513.68" stroke="#000" stroke-width="1.3" stroke-linecap="butt"/>
<rect x="99.93" y="508.58" width="4.20" height="4.20" fill="#000" stroke="none" stroke-width="1" />
<line x1="115.11" y1="509.50" x2="115.11" y2="515.50" stroke="#000" stroke-width="1.3" stroke-linecap="butt"/>
<line x1="113.01" y1="509.50" x2="117.21" y2="509.50" stroke="#000" stroke-width="1.3" stroke-linecap="butt"/>
<line x1="113.01" y1="515.50" x2="117.21" y2="515.50" stroke="#000" stroke-width="1.3" stroke-linecap="butt"/>
<rect x="113.01" y="510.39" width="4.20" height="4.20" fill="#000" stroke="none" stroke-width="1" />
<line x1="143.51" y1="523.87" x2="143.51" y2="542.87" stroke="#000" stroke-width="1.3" stroke-linecap="butt"/>
<line x1="141.41" y1="523.87" x2="145.61" y2="523.87" stroke="#000" stroke-width="1.3" stroke-linecap="butt"/>
<line x1="141.41" y1="542.87" x2="145.61" y2="542.87" stroke="#000" stroke-width="1.3" stroke-linecap="butt"/>
<rect x="141.41" y="531.27" width="4.20" height="4.20" fill="#000" stroke="none" stroke-width="1" />
<line x1="170.79" y1="557.86" x2="170.79" y2="571.86" stroke="#000" stroke-width="1.3" stroke-linecap="butt"/>
<line x1="168.69" y1="557.86" x2="172.89" y2="557.86" stroke="#000" stroke-width="1.3" stroke-linecap="butt"/>
<line x1="168.69" y1="571.86" x2="172.89" y2="571.86" stroke="#000" stroke-width="1.3" stroke-linecap="butt"/>
<rect x="168.69" y="562.76" width="4.20" height="4.20" fill="#000" stroke="none" stroke-width="1" />
<line x1="184.16" y1="577.37" x2="184.16" y2="589.37" stroke="#000" stroke-width="1.3" stroke-linecap="butt"/>
<line x1="182.06" y1="577.37" x2="186.26" y2="577.37" stroke="#000" stroke-width="1.3" stroke-linecap="butt"/>
<line x1="182.06" y1="589.37" x2="186.26" y2="589.37" stroke="#000" stroke-width="1.3" stroke-linecap="butt"/>
<rect x="182.06" y="581.27" width="4.20" height="4.20" fill="#000" stroke="none" stroke-width="1" />
<line x1="197.80" y1="585.09" x2="197.80" y2="589.09" stroke="#000" stroke-width="1.3" stroke-linecap="butt"/>
<line x1="195.70" y1="585.09" x2="199.90" y2="585.09" stroke="#000" stroke-width="1.3" stroke-linecap="butt"/>
<line x1="195.70" y1="589.09" x2="199.90" y2="589.09" stroke="#000" stroke-width="1.3" stroke-linecap="butt"/>
<rect x="195.70" y="584.99" width="4.20" height="4.20" fill="#000" stroke="none" stroke-width="1" />
<line x1="206.15" y1="585.82" x2="206.15" y2="589.82" stroke="#000" stroke-width="1.3" stroke-linecap="butt"/>
<line x1="204.05" y1="585.82" x2="208.25" y2="585.82" stroke="#000" stroke-width="1.3" stroke-linecap="butt"/>
<line x1="204.05" y1="589.82" x2="208.25" y2="589.82" stroke="#000" stroke-width="1.3" stroke-linecap="butt"/>
<rect x="204.05" y="585.72" width="4.20" height="4.20" fill="#000" stroke="none" stroke-width="1" />
<rect x="53.90" y="504.95" width="4.20" height="4.20" fill="#f00000" stroke="none" stroke-width="1" />
<circle cx="56.00" cy="507.05" r="2.3" fill="#000"/>
<text x="253.71" y="385.50" font-size="13" font-weight="bold" textLength="8.81" lengthAdjust="spacingAndGlyphs" fill="#000">D</text>
<text x="285.75" y="389.70" font-size="10.0" font-weight="bold" textLength="36.74" lengthAdjust="spacingAndGlyphs" fill="#000">HCT116</text>
<line x1="286.30" y1="393.80" x2="455.00" y2="393.80" stroke="#000" stroke-width="1.3" stroke-linecap="butt"/>
<text x="286.06" y="410.00" font-size="9.4" font-weight="bold" textLength="60.76" lengthAdjust="spacingAndGlyphs" fill="#000">stimulated in</text>
<text x="286.06" y="420.80" font-size="9.4" font-weight="bold" textLength="53.74" lengthAdjust="spacingAndGlyphs" fill="#000">suspension</text>
<rect x="365.90" y="405.00" width="44.80" height="18.80" fill="#d2d2d2" stroke="#000" stroke-width="2.1" />
<circle cx="393.2" cy="417.8" r="1.9" fill="#e9e9e9" stroke="#6e6e6e" stroke-width="0.55"/>
<circle cx="400.1" cy="420.6" r="1.9" fill="#e9e9e9" stroke="#6e6e6e" stroke-width="0.55"/>
<circle cx="397.9" cy="420.3" r="1.9" fill="#e9e9e9" stroke="#6e6e6e" stroke-width="0.55"/>
<circle cx="369.5" cy="413.9" r="1.9" fill="#e9e9e9" stroke="#6e6e6e" stroke-width="0.55"/>
<circle cx="406.0" cy="416.5" r="1.9" fill="#e9e9e9" stroke="#6e6e6e" stroke-width="0.55"/>
<circle cx="404.3" cy="409.0" r="1.9" fill="#e9e9e9" stroke="#6e6e6e" stroke-width="0.55"/>
<circle cx="387.1" cy="410.9" r="1.9" fill="#e9e9e9" stroke="#6e6e6e" stroke-width="0.55"/>
<circle cx="390.1" cy="415.4" r="1.9" fill="#e9e9e9" stroke="#6e6e6e" stroke-width="0.55"/>
<circle cx="368.8" cy="410.4" r="1.9" fill="#e9e9e9" stroke="#6e6e6e" stroke-width="0.55"/>
<circle cx="379.5" cy="420.2" r="1.9" fill="#e9e9e9" stroke="#6e6e6e" stroke-width="0.55"/>
<circle cx="398.9" cy="409.6" r="1.9" fill="#e9e9e9" stroke="#6e6e6e" stroke-width="0.55"/>
<circle cx="400.2" cy="409.3" r="1.9" fill="#e9e9e9" stroke="#6e6e6e" stroke-width="0.55"/>
<circle cx="393.0" cy="409.2" r="1.9" fill="#e9e9e9" stroke="#6e6e6e" stroke-width="0.55"/>
<circle cx="368.4" cy="419.6" r="1.9" fill="#e9e9e9" stroke="#6e6e6e" stroke-width="0.55"/>
<circle cx="376.7" cy="410.4" r="1.9" fill="#e9e9e9" stroke="#6e6e6e" stroke-width="0.55"/>
<circle cx="407.6" cy="419.6" r="1.9" fill="#e9e9e9" stroke="#6e6e6e" stroke-width="0.55"/>
<circle cx="379.9" cy="420.9" r="1.9" fill="#e9e9e9" stroke="#6e6e6e" stroke-width="0.55"/>
<circle cx="389.9" cy="416.9" r="1.9" fill="#e9e9e9" stroke="#6e6e6e" stroke-width="0.55"/>
<circle cx="376.5" cy="420.6" r="1.9" fill="#e9e9e9" stroke="#6e6e6e" stroke-width="0.55"/>
<circle cx="395.9" cy="420.9" r="1.9" fill="#e9e9e9" stroke="#6e6e6e" stroke-width="0.55"/>
<circle cx="404.0" cy="411.6" r="1.9" fill="#e9e9e9" stroke="#6e6e6e" stroke-width="0.55"/>
<circle cx="382.7" cy="409.7" r="1.9" fill="#e9e9e9" stroke="#6e6e6e" stroke-width="0.55"/>
<circle cx="374.1" cy="408.3" r="1.9" fill="#e9e9e9" stroke="#6e6e6e" stroke-width="0.55"/>
<circle cx="380.4" cy="415.8" r="1.9" fill="#e9e9e9" stroke="#6e6e6e" stroke-width="0.55"/>
<line x1="286.50" y1="436.20" x2="313.40" y2="436.20" stroke="#000" stroke-width="2.5" stroke-dasharray="6.8,2.6" stroke-linecap="butt"/>
<text x="320.56" y="440.20" font-size="9.2" font-weight="bold" textLength="81.82" lengthAdjust="spacingAndGlyphs" fill="#000">2D WT (detached)</text>
<line x1="286.50" y1="449.50" x2="313.40" y2="449.50" stroke="#f00000" stroke-width="2.5" stroke-dasharray="6.8,2.6" stroke-linecap="butt"/>
<text x="320.56" y="453.50" font-size="9.2" font-weight="bold" textLength="94.93" lengthAdjust="spacingAndGlyphs" fill="#000">2D T2 k/o (detached)</text>
<line x1="286.50" y1="461.90" x2="313.40" y2="461.90" stroke="#000" stroke-width="2.5" stroke-linecap="butt"/>
<text x="320.66" y="465.90" font-size="9.2" font-weight="bold" textLength="92.50" lengthAdjust="spacingAndGlyphs" fill="#000">3D WT (dissociated)</text>
<line x1="286.50" y1="474.10" x2="313.40" y2="474.10" stroke="#f00000" stroke-width="2.5" stroke-linecap="butt"/>
<text x="320.66" y="478.10" font-size="9.2" font-weight="bold" textLength="105.80" lengthAdjust="spacingAndGlyphs" fill="#000">3D T2 k/o (dissociated)</text>
<line x1="286.10" y1="488.30" x2="286.10" y2="598.80" stroke="#000" stroke-width="1.9" stroke-linecap="butt"/>
<line x1="282.90" y1="597.80" x2="286.10" y2="597.80" stroke="#000" stroke-width="1.7" stroke-linecap="butt"/>
<text x="275.74" y="601.80" font-size="10.4" font-weight="bold" fill="#000">0</text>
<line x1="282.90" y1="579.65" x2="286.10" y2="579.65" stroke="#000" stroke-width="1.7" stroke-linecap="butt"/>
<text x="269.97" y="583.65" font-size="10.4" font-weight="bold" fill="#000">20</text>
<line x1="282.90" y1="561.50" x2="286.10" y2="561.50" stroke="#000" stroke-width="1.7" stroke-linecap="butt"/>
<text x="269.97" y="565.50" font-size="10.4" font-weight="bold" fill="#000">40</text>
<line x1="282.90" y1="543.35" x2="286.10" y2="543.35" stroke="#000" stroke-width="1.7" stroke-linecap="butt"/>
<text x="269.97" y="547.35" font-size="10.4" font-weight="bold" fill="#000">60</text>
<line x1="282.90" y1="525.20" x2="286.10" y2="525.20" stroke="#000" stroke-width="1.7" stroke-linecap="butt"/>
<text x="269.97" y="529.20" font-size="10.4" font-weight="bold" fill="#000">80</text>
<line x1="282.90" y1="507.05" x2="286.10" y2="507.05" stroke="#000" stroke-width="1.7" stroke-linecap="butt"/>
<text x="264.20" y="511.05" font-size="10.4" font-weight="bold" fill="#000">100</text>
<line x1="282.90" y1="488.90" x2="286.10" y2="488.90" stroke="#000" stroke-width="1.7" stroke-linecap="butt"/>
<text x="264.20" y="492.90" font-size="10.4" font-weight="bold" fill="#000">120</text>
<line x1="285.10" y1="597.80" x2="301.60" y2="597.80" stroke="#000" stroke-width="1.9" stroke-linecap="butt"/>
<line x1="301.60" y1="595.20" x2="301.60" y2="600.40" stroke="#000" stroke-width="1.6" stroke-linecap="butt"/>
<line x1="308.50" y1="597.80" x2="449.30" y2="597.80" stroke="#000" stroke-width="1.9" stroke-linecap="butt"/>
<line x1="309.30" y1="595.20" x2="309.30" y2="600.40" stroke="#000" stroke-width="1.6" stroke-linecap="butt"/>
<line x1="286.10" y1="597.80" x2="286.10" y2="600.60" stroke="#000" stroke-width="1.6" stroke-linecap="butt"/>
<line x1="337.14" y1="597.80" x2="337.14" y2="600.60" stroke="#000" stroke-width="1.6" stroke-linecap="butt"/>
<line x1="364.98" y1="597.80" x2="364.98" y2="600.60" stroke="#000" stroke-width="1.6" stroke-linecap="butt"/>
<line x1="392.82" y1="597.80" x2="392.82" y2="600.60" stroke="#000" stroke-width="1.6" stroke-linecap="butt"/>
<line x1="420.66" y1="597.80" x2="420.66" y2="600.60" stroke="#000" stroke-width="1.6" stroke-linecap="butt"/>
<line x1="448.50" y1="597.80" x2="448.50" y2="600.60" stroke="#000" stroke-width="1.6" stroke-linecap="butt"/>
<text x="283.03" y="612.20" font-size="10.0" font-weight="bold" fill="#000">0</text>
<text x="300.70" y="612.50" font-size="10.0" font-weight="bold" textLength="11.12" lengthAdjust="spacingAndGlyphs" fill="#000">10</text>
<text x="312.04" y="609.00" font-size="6.6" font-weight="bold" fill="#000">-4</text>
<text x="328.54" y="612.50" font-size="10.0" font-weight="bold" textLength="11.12" lengthAdjust="spacingAndGlyphs" fill="#000">10</text>
<text x="339.88" y="609.00" font-size="6.6" font-weight="bold" fill="#000">-3</text>
<text x="356.38" y="612.50" font-size="10.0" font-weight="bold" textLength="11.12" lengthAdjust="spacingAndGlyphs" fill="#000">10</text>
<text x="367.72" y="609.00" font-size="6.6" font-weight="bold" fill="#000">-2</text>
<text x="384.22" y="612.50" font-size="10.0" font-weight="bold" textLength="11.12" lengthAdjust="spacingAndGlyphs" fill="#000">10</text>
<text x="395.56" y="609.00" font-size="6.6" font-weight="bold" fill="#000">-1</text>
<text x="412.06" y="612.50" font-size="10.0" font-weight="bold" textLength="11.12" lengthAdjust="spacingAndGlyphs" fill="#000">10</text>
<text x="423.40" y="609.00" font-size="6.6" font-weight="bold" fill="#000">0</text>
<text x="439.90" y="612.50" font-size="10.0" font-weight="bold" textLength="11.12" lengthAdjust="spacingAndGlyphs" fill="#000">10</text>
<text x="451.10" y="609.00" font-size="6.6" font-weight="bold" fill="#000">1</text>
<text x="340.10" y="626.50" font-size="10.0" font-weight="bold" textLength="54.81" lengthAdjust="spacingAndGlyphs" fill="#000">TRAIL [nM]</text>
<text transform="translate(245.90,569.75) rotate(-90)" x="0" y="0" font-size="10.5" font-weight="bold" textLength="55.19" lengthAdjust="spacingAndGlyphs" fill="#000">viable cells</text>
<text transform="translate(258.30,575.27) rotate(-90)" x="0" y="0" font-size="10.5" font-weight="bold" textLength="66.67" lengthAdjust="spacingAndGlyphs" fill="#000">[% of control]</text>
<line x1="287.10" y1="508.07" x2="301.10" y2="508.07" stroke="#f00000" stroke-width="1.8" stroke-linecap="butt"/>
<path d="M309.30,508.07 L310.73,508.11 L312.15,508.16 L313.58,508.21 L315.01,508.26 L316.43,508.32 L317.86,508.38 L319.28,508.44 L320.71,508.50 L322.14,508.57 L323.56,508.64 L324.99,508.72 L326.42,508.80 L327.84,508.89 L329.27,508.98 L330.70,509.07 L332.12,509.17 L333.55,509.27 L334.98,509.38 L336.40,509.50 L337.83,509.62 L339.25,509.75 L340.68,509.89 L342.11,510.03 L343.53,510.18 L344.96,510.34 L346.39,510.51 L347.81,510.68 L349.24,510.87 L350.67,511.06 L352.09,511.26 L353.52,511.48 L354.95,511.70 L356.37,511.94 L357.80,512.19 L359.22,512.45 L360.65,512.73 L362.08,513.02 L363.50,513.32 L364.93,513.64 L366.36,513.97 L367.78,514.32 L369.21,514.69 L370.64,515.07 L372.06,515.48 L373.49,515.90 L374.91,516.34 L376.34,516.80 L377.77,517.29 L379.19,517.79 L380.62,518.32 L382.05,518.87 L383.47,519.44 L384.90,520.04 L386.33,520.67 L387.75,521.32 L389.18,522.00 L390.61,522.70 L392.03,523.44 L393.46,524.20 L394.88,524.99 L396.31,525.81 L397.74,526.66 L399.16,527.54 L400.59,528.45 L402.02,529.39 L403.44,530.36 L404.87,531.37 L406.30,532.40 L407.72,533.46 L409.15,534.56 L410.58,535.68 L412.00,536.84 L413.43,538.02 L414.85,539.23 L416.28,540.47 L417.71,541.73 L419.13,543.02 L420.56,544.34 L421.99,545.67 L423.41,547.03 L424.84,548.41 L426.27,549.81 L427.69,551.22 L429.12,552.65 L430.54,554.09 L431.97,555.54 L433.40,557.00 L434.82,558.47 L436.25,559.94" stroke="#f00000" stroke-width="1.8" fill="none" />
<line x1="287.10" y1="512.73" x2="301.10" y2="512.73" stroke="#f00000" stroke-width="1.8" stroke-dasharray="4.6,2.6" stroke-linecap="butt"/>
<path d="M309.30,512.73 L310.73,512.74 L312.15,512.75 L313.58,512.76 L315.01,512.78 L316.43,512.79 L317.86,512.81 L319.28,512.83 L320.71,512.85 L322.14,512.87 L323.56,512.89 L324.99,512.92 L326.42,512.95 L327.84,512.98 L329.27,513.01 L330.70,513.05 L332.12,513.09 L333.55,513.14 L334.98,513.19 L336.40,513.24 L337.83,513.30 L339.25,513.37 L340.68,513.44 L342.11,513.52 L343.53,513.60 L344.96,513.69 L346.39,513.80 L347.81,513.91 L349.24,514.03 L350.67,514.16 L352.09,514.31 L353.52,514.47 L354.95,514.64 L356.37,514.83 L357.80,515.04 L359.22,515.27 L360.65,515.51 L362.08,515.78 L363.50,516.07 L364.93,516.39 L366.36,516.74 L367.78,517.12 L369.21,517.52 L370.64,517.97 L372.06,518.45 L373.49,518.97 L374.91,519.53 L376.34,520.14 L377.77,520.80 L379.19,521.50 L380.62,522.26 L382.05,523.08 L383.47,523.96 L384.90,524.89 L386.33,525.89 L387.75,526.96 L389.18,528.09 L390.61,529.29 L392.03,530.57 L393.46,531.91 L394.88,533.32 L396.31,534.80 L397.74,536.34 L399.16,537.95 L400.59,539.63 L402.02,541.36 L403.44,543.14 L404.87,544.97 L406.30,546.84 L407.72,548.75 L409.15,550.68 L410.58,552.64 L412.00,554.61 L413.43,556.57 L414.85,558.54 L416.28,560.49 L417.71,562.42 L419.13,564.32 L420.56,566.18 L421.99,568.01 L423.41,569.78 L424.84,571.50 L426.27,573.16 L427.69,574.75 L429.12,576.29 L430.54,577.75 L431.97,579.15 L433.40,580.47 L434.82,581.73 L436.25,582.92" stroke="#f00000" stroke-width="1.8" fill="none" stroke-dasharray="4.6,2.6"/>
<line x1="287.10" y1="508.54" x2="301.10" y2="508.54" stroke="#000" stroke-width="1.8" stroke-linecap="butt"/>
<path d="M309.30,508.54 L310.73,508.64 L312.15,508.76 L313.58,508.88 L315.01,509.02 L316.43,509.18 L317.86,509.35 L319.28,509.54 L320.71,509.75 L322.14,509.98 L323.56,510.24 L324.99,510.53 L326.42,510.84 L327.84,511.20 L329.27,511.58 L330.70,512.01 L332.12,512.48 L333.55,513.00 L334.98,513.56 L336.40,514.19 L337.83,514.87 L339.25,515.62 L340.68,516.43 L342.11,517.32 L343.53,518.28 L344.96,519.33 L346.39,520.46 L347.81,521.68 L349.24,522.99 L350.67,524.39 L352.09,525.89 L353.52,527.47 L354.95,529.16 L356.37,530.93 L357.80,532.79 L359.22,534.73 L360.65,536.75 L362.08,538.83 L363.50,540.98 L364.93,543.17 L366.36,545.39 L367.78,547.64 L369.21,549.90 L370.64,552.16 L372.06,554.40 L373.49,556.61 L374.91,558.78 L376.34,560.90 L377.77,562.96 L379.19,564.95 L380.62,566.86 L382.05,568.68 L383.47,570.42 L384.90,572.07 L386.33,573.62 L387.75,575.07 L389.18,576.44 L390.61,577.71 L392.03,578.89 L393.46,579.99 L394.88,581.00 L396.31,581.94 L397.74,582.79 L399.16,583.58 L400.59,584.30 L402.02,584.96 L403.44,585.56 L404.87,586.11 L406.30,586.60 L407.72,587.06 L409.15,587.47 L410.58,587.84 L412.00,588.17 L413.43,588.48 L414.85,588.75 L416.28,589.00 L417.71,589.23 L419.13,589.43 L420.56,589.61 L421.99,589.78 L423.41,589.92 L424.84,590.06 L426.27,590.18 L427.69,590.29 L429.12,590.38 L430.54,590.47 L431.97,590.55 L433.40,590.62 L434.82,590.68 L436.25,590.74" stroke="#000" stroke-width="1.8" fill="none" />
<line x1="287.10" y1="509.09" x2="301.10" y2="509.09" stroke="#000" stroke-width="1.8" stroke-dasharray="4.6,2.6" stroke-linecap="butt"/>
<path d="M309.30,509.09 L310.73,509.12 L312.15,509.15 L313.58,509.18 L315.01,509.22 L316.43,509.27 L317.86,509.32 L319.28,509.37 L320.71,509.43 L322.14,509.49 L323.56,509.57 L324.99,509.65 L326.42,509.73 L327.84,509.83 L329.27,509.94 L330.70,510.05 L332.12,510.18 L333.55,510.33 L334.98,510.48 L336.40,510.66 L337.83,510.85 L339.25,511.06 L340.68,511.29 L342.11,511.54 L343.53,511.82 L344.96,512.13 L346.39,512.47 L347.81,512.83 L349.24,513.24 L350.67,513.68 L352.09,514.16 L353.52,514.69 L354.95,515.26 L356.37,515.89 L357.80,516.57 L359.22,517.31 L360.65,518.11 L362.08,518.98 L363.50,519.91 L364.93,520.92 L366.36,522.00 L367.78,523.16 L369.21,524.40 L370.64,525.72 L372.06,527.13 L373.49,528.61 L374.91,530.18 L376.34,531.83 L377.77,533.55 L379.19,535.36 L380.62,537.22 L382.05,539.16 L383.47,541.15 L384.90,543.18 L386.33,545.26 L387.75,547.37 L389.18,549.49 L390.61,551.63 L392.03,553.76 L393.46,555.89 L394.88,557.98 L396.31,560.05 L397.74,562.07 L399.16,564.05 L400.59,565.96 L402.02,567.81 L403.44,569.59 L404.87,571.29 L406.30,572.92 L407.72,574.46 L409.15,575.92 L410.58,577.30 L412.00,578.60 L413.43,579.82 L414.85,580.95 L416.28,582.01 L417.71,583.00 L419.13,583.91 L420.56,584.76 L421.99,585.54 L423.41,586.26 L424.84,586.93 L426.27,587.54 L427.69,588.10 L429.12,588.61 L430.54,589.08 L431.97,589.51 L433.40,589.90 L434.82,590.26 L436.25,590.59" stroke="#000" stroke-width="1.8" fill="none" stroke-dasharray="4.6,2.6"/>
<line x1="332.13" y1="507.23" x2="332.13" y2="511.23" stroke="#f00000" stroke-width="1.3" stroke-linecap="butt"/>
<line x1="330.03" y1="507.23" x2="334.23" y2="507.23" stroke="#f00000" stroke-width="1.3" stroke-linecap="butt"/>
<line x1="330.03" y1="511.23" x2="334.23" y2="511.23" stroke="#f00000" stroke-width="1.3" stroke-linecap="butt"/>
<path d="M332.13,506.33 L334.83,511.13 L329.43,511.13 Z" stroke="none" stroke-width="1" fill="#f00000" />
<line x1="345.21" y1="508.32" x2="345.21" y2="512.32" stroke="#f00000" stroke-width="1.3" stroke-linecap="butt"/>
<line x1="343.11" y1="508.32" x2="347.31" y2="508.32" stroke="#f00000" stroke-width="1.3" stroke-linecap="butt"/>
<line x1="343.11" y1="512.32" x2="347.31" y2="512.32" stroke="#f00000" stroke-width="1.3" stroke-linecap="butt"/>
<path d="M345.21,507.42 L347.91,512.22 L342.51,512.22 Z" stroke="none" stroke-width="1" fill="#f00000" />
<line x1="373.61" y1="515.58" x2="373.61" y2="521.58" stroke="#f00000" stroke-width="1.3" stroke-linecap="butt"/>
<line x1="371.51" y1="515.58" x2="375.71" y2="515.58" stroke="#f00000" stroke-width="1.3" stroke-linecap="butt"/>
<line x1="371.51" y1="521.58" x2="375.71" y2="521.58" stroke="#f00000" stroke-width="1.3" stroke-linecap="butt"/>
<path d="M373.61,515.68 L376.31,520.48 L370.91,520.48 Z" stroke="none" stroke-width="1" fill="#f00000" />
<line x1="400.89" y1="521.92" x2="400.89" y2="535.92" stroke="#f00000" stroke-width="1.3" stroke-linecap="butt"/>
<line x1="398.79" y1="521.92" x2="402.99" y2="521.92" stroke="#f00000" stroke-width="1.3" stroke-linecap="butt"/>
<line x1="398.79" y1="535.92" x2="402.99" y2="535.92" stroke="#f00000" stroke-width="1.3" stroke-linecap="butt"/>
<path d="M400.89,526.02 L403.59,530.82 L398.19,530.82 Z" stroke="none" stroke-width="1" fill="#f00000" />
<line x1="414.26" y1="529.55" x2="414.26" y2="541.55" stroke="#f00000" stroke-width="1.3" stroke-linecap="butt"/>
<line x1="412.16" y1="529.55" x2="416.36" y2="529.55" stroke="#f00000" stroke-width="1.3" stroke-linecap="butt"/>
<line x1="412.16" y1="541.55" x2="416.36" y2="541.55" stroke="#f00000" stroke-width="1.3" stroke-linecap="butt"/>
<path d="M414.26,532.65 L416.96,537.45 L411.56,537.45 Z" stroke="none" stroke-width="1" fill="#f00000" />
<line x1="427.90" y1="547.42" x2="427.90" y2="557.42" stroke="#f00000" stroke-width="1.3" stroke-linecap="butt"/>
<line x1="425.80" y1="547.42" x2="430.00" y2="547.42" stroke="#f00000" stroke-width="1.3" stroke-linecap="butt"/>
<line x1="425.80" y1="557.42" x2="430.00" y2="557.42" stroke="#f00000" stroke-width="1.3" stroke-linecap="butt"/>
<path d="M427.90,549.52 L430.60,554.32 L425.20,554.32 Z" stroke="none" stroke-width="1" fill="#f00000" />
<line x1="436.25" y1="558.68" x2="436.25" y2="562.68" stroke="#f00000" stroke-width="1.3" stroke-linecap="butt"/>
<line x1="434.15" y1="558.68" x2="438.35" y2="558.68" stroke="#f00000" stroke-width="1.3" stroke-linecap="butt"/>
<line x1="434.15" y1="562.68" x2="438.35" y2="562.68" stroke="#f00000" stroke-width="1.3" stroke-linecap="butt"/>
<path d="M436.25,557.78 L438.95,562.58 L433.55,562.58 Z" stroke="none" stroke-width="1" fill="#f00000" />
<line x1="332.13" y1="509.94" x2="332.13" y2="523.94" stroke="#f00000" stroke-width="1.3" stroke-linecap="butt"/>
<line x1="330.03" y1="509.94" x2="334.23" y2="509.94" stroke="#f00000" stroke-width="1.3" stroke-linecap="butt"/>
<line x1="330.03" y1="523.94" x2="334.23" y2="523.94" stroke="#f00000" stroke-width="1.3" stroke-linecap="butt"/>
<rect x="330.03" y="514.84" width="4.20" height="4.20" fill="#f00000" stroke="none" stroke-width="1" />
<line x1="345.21" y1="512.13" x2="345.21" y2="518.13" stroke="#f00000" stroke-width="1.3" stroke-linecap="butt"/>
<line x1="343.11" y1="512.13" x2="347.31" y2="512.13" stroke="#f00000" stroke-width="1.3" stroke-linecap="butt"/>
<line x1="343.11" y1="518.13" x2="347.31" y2="518.13" stroke="#f00000" stroke-width="1.3" stroke-linecap="butt"/>
<rect x="343.11" y="513.03" width="4.20" height="4.20" fill="#f00000" stroke="none" stroke-width="1" />
<line x1="373.61" y1="516.48" x2="373.61" y2="522.48" stroke="#f00000" stroke-width="1.3" stroke-linecap="butt"/>
<line x1="371.51" y1="516.48" x2="375.71" y2="516.48" stroke="#f00000" stroke-width="1.3" stroke-linecap="butt"/>
<line x1="371.51" y1="522.48" x2="375.71" y2="522.48" stroke="#f00000" stroke-width="1.3" stroke-linecap="butt"/>
<rect x="371.51" y="517.38" width="4.20" height="4.20" fill="#f00000" stroke="none" stroke-width="1" />
<line x1="400.89" y1="536.81" x2="400.89" y2="540.81" stroke="#f00000" stroke-width="1.3" stroke-linecap="butt"/>
<line x1="398.79" y1="536.81" x2="402.99" y2="536.81" stroke="#f00000" stroke-width="1.3" stroke-linecap="butt"/>
<line x1="398.79" y1="540.81" x2="402.99" y2="540.81" stroke="#f00000" stroke-width="1.3" stroke-linecap="butt"/>
<rect x="398.79" y="536.71" width="4.20" height="4.20" fill="#f00000" stroke="none" stroke-width="1" />
<line x1="414.26" y1="556.14" x2="414.26" y2="560.14" stroke="#f00000" stroke-width="1.3" stroke-linecap="butt"/>
<line x1="412.16" y1="556.14" x2="416.36" y2="556.14" stroke="#f00000" stroke-width="1.3" stroke-linecap="butt"/>
<line x1="412.16" y1="560.14" x2="416.36" y2="560.14" stroke="#f00000" stroke-width="1.3" stroke-linecap="butt"/>
<rect x="412.16" y="556.04" width="4.20" height="4.20" fill="#f00000" stroke="none" stroke-width="1" />
<line x1="427.90" y1="574.02" x2="427.90" y2="578.02" stroke="#f00000" stroke-width="1.3" stroke-linecap="butt"/>
<line x1="425.80" y1="574.02" x2="430.00" y2="574.02" stroke="#f00000" stroke-width="1.3" stroke-linecap="butt"/>
<line x1="425.80" y1="578.02" x2="430.00" y2="578.02" stroke="#f00000" stroke-width="1.3" stroke-linecap="butt"/>
<rect x="425.80" y="573.92" width="4.20" height="4.20" fill="#f00000" stroke="none" stroke-width="1" />
<line x1="436.25" y1="580.10" x2="436.25" y2="584.10" stroke="#f00000" stroke-width="1.3" stroke-linecap="butt"/>
<line x1="434.15" y1="580.10" x2="438.35" y2="580.10" stroke="#f00000" stroke-width="1.3" stroke-linecap="butt"/>
<line x1="434.15" y1="584.10" x2="438.35" y2="584.10" stroke="#f00000" stroke-width="1.3" stroke-linecap="butt"/>
<rect x="434.15" y="580.00" width="4.20" height="4.20" fill="#f00000" stroke="none" stroke-width="1" />
<line x1="332.13" y1="508.77" x2="332.13" y2="512.77" stroke="#000" stroke-width="1.3" stroke-linecap="butt"/>
<line x1="330.03" y1="508.77" x2="334.23" y2="508.77" stroke="#000" stroke-width="1.3" stroke-linecap="butt"/>
<line x1="330.03" y1="512.77" x2="334.23" y2="512.77" stroke="#000" stroke-width="1.3" stroke-linecap="butt"/>
<path d="M332.13,507.87 L334.83,512.67 L329.43,512.67 Z" stroke="none" stroke-width="1" fill="#000" />
<line x1="345.21" y1="518.84" x2="345.21" y2="522.84" stroke="#000" stroke-width="1.3" stroke-linecap="butt"/>
<line x1="343.11" y1="518.84" x2="347.31" y2="518.84" stroke="#000" stroke-width="1.3" stroke-linecap="butt"/>
<line x1="343.11" y1="522.84" x2="347.31" y2="522.84" stroke="#000" stroke-width="1.3" stroke-linecap="butt"/>
<path d="M345.21,517.94 L347.91,522.74 L342.51,522.74 Z" stroke="none" stroke-width="1" fill="#000" />
<line x1="373.61" y1="548.83" x2="373.61" y2="563.83" stroke="#000" stroke-width="1.3" stroke-linecap="butt"/>
<line x1="371.51" y1="548.83" x2="375.71" y2="548.83" stroke="#000" stroke-width="1.3" stroke-linecap="butt"/>
<line x1="371.51" y1="563.83" x2="375.71" y2="563.83" stroke="#000" stroke-width="1.3" stroke-linecap="butt"/>
<path d="M373.61,553.43 L376.31,558.23 L370.91,558.23 Z" stroke="none" stroke-width="1" fill="#000" />
<line x1="400.89" y1="582.82" x2="400.89" y2="586.82" stroke="#000" stroke-width="1.3" stroke-linecap="butt"/>
<line x1="398.79" y1="582.82" x2="402.99" y2="582.82" stroke="#000" stroke-width="1.3" stroke-linecap="butt"/>
<line x1="398.79" y1="586.82" x2="402.99" y2="586.82" stroke="#000" stroke-width="1.3" stroke-linecap="butt"/>
<path d="M400.89,581.92 L403.59,586.72 L398.19,586.72 Z" stroke="none" stroke-width="1" fill="#000" />
<line x1="414.26" y1="587.18" x2="414.26" y2="591.18" stroke="#000" stroke-width="1.3" stroke-linecap="butt"/>
<line x1="412.16" y1="587.18" x2="416.36" y2="587.18" stroke="#000" stroke-width="1.3" stroke-linecap="butt"/>
<line x1="412.16" y1="591.18" x2="416.36" y2="591.18" stroke="#000" stroke-width="1.3" stroke-linecap="butt"/>
<path d="M414.26,586.28 L416.96,591.08 L411.56,591.08 Z" stroke="none" stroke-width="1" fill="#000" />
<line x1="427.90" y1="588.18" x2="427.90" y2="592.18" stroke="#000" stroke-width="1.3" stroke-linecap="butt"/>
<line x1="425.80" y1="588.18" x2="430.00" y2="588.18" stroke="#000" stroke-width="1.3" stroke-linecap="butt"/>
<line x1="425.80" y1="592.18" x2="430.00" y2="592.18" stroke="#000" stroke-width="1.3" stroke-linecap="butt"/>
<path d="M427.90,587.28 L430.60,592.08 L425.20,592.08 Z" stroke="none" stroke-width="1" fill="#000" />
<line x1="436.25" y1="588.18" x2="436.25" y2="592.18" stroke="#000" stroke-width="1.3" stroke-linecap="butt"/>
<line x1="434.15" y1="588.18" x2="438.35" y2="588.18" stroke="#000" stroke-width="1.3" stroke-linecap="butt"/>
<line x1="434.15" y1="592.18" x2="438.35" y2="592.18" stroke="#000" stroke-width="1.3" stroke-linecap="butt"/>
<path d="M436.25,587.28 L438.95,592.08 L433.55,592.08 Z" stroke="none" stroke-width="1" fill="#000" />
<line x1="332.13" y1="508.32" x2="332.13" y2="512.32" stroke="#000" stroke-width="1.3" stroke-linecap="butt"/>
<line x1="330.03" y1="508.32" x2="334.23" y2="508.32" stroke="#000" stroke-width="1.3" stroke-linecap="butt"/>
<line x1="330.03" y1="512.32" x2="334.23" y2="512.32" stroke="#000" stroke-width="1.3" stroke-linecap="butt"/>
<rect x="330.03" y="508.22" width="4.20" height="4.20" fill="#000" stroke="none" stroke-width="1" />
<line x1="345.21" y1="513.85" x2="345.21" y2="517.85" stroke="#000" stroke-width="1.3" stroke-linecap="butt"/>
<line x1="343.11" y1="513.85" x2="347.31" y2="513.85" stroke="#000" stroke-width="1.3" stroke-linecap="butt"/>
<line x1="343.11" y1="517.85" x2="347.31" y2="517.85" stroke="#000" stroke-width="1.3" stroke-linecap="butt"/>
<rect x="343.11" y="513.75" width="4.20" height="4.20" fill="#000" stroke="none" stroke-width="1" />
<line x1="373.61" y1="521.38" x2="373.61" y2="533.38" stroke="#000" stroke-width="1.3" stroke-linecap="butt"/>
<line x1="371.51" y1="521.38" x2="375.71" y2="521.38" stroke="#000" stroke-width="1.3" stroke-linecap="butt"/>
<line x1="371.51" y1="533.38" x2="375.71" y2="533.38" stroke="#000" stroke-width="1.3" stroke-linecap="butt"/>
<rect x="371.51" y="525.28" width="4.20" height="4.20" fill="#000" stroke="none" stroke-width="1" />
<line x1="400.89" y1="553.76" x2="400.89" y2="579.76" stroke="#000" stroke-width="1.3" stroke-linecap="butt"/>
<line x1="398.79" y1="553.76" x2="402.99" y2="553.76" stroke="#000" stroke-width="1.3" stroke-linecap="butt"/>
<line x1="398.79" y1="579.76" x2="402.99" y2="579.76" stroke="#000" stroke-width="1.3" stroke-linecap="butt"/>
<rect x="398.79" y="564.66" width="4.20" height="4.20" fill="#000" stroke="none" stroke-width="1" />
<line x1="414.26" y1="573.38" x2="414.26" y2="587.38" stroke="#000" stroke-width="1.3" stroke-linecap="butt"/>
<line x1="412.16" y1="573.38" x2="416.36" y2="573.38" stroke="#000" stroke-width="1.3" stroke-linecap="butt"/>
<line x1="412.16" y1="587.38" x2="416.36" y2="587.38" stroke="#000" stroke-width="1.3" stroke-linecap="butt"/>
<rect x="412.16" y="578.28" width="4.20" height="4.20" fill="#000" stroke="none" stroke-width="1" />
<line x1="427.90" y1="587.63" x2="427.90" y2="591.63" stroke="#000" stroke-width="1.3" stroke-linecap="butt"/>
<line x1="425.80" y1="587.63" x2="430.00" y2="587.63" stroke="#000" stroke-width="1.3" stroke-linecap="butt"/>
<line x1="425.80" y1="591.63" x2="430.00" y2="591.63" stroke="#000" stroke-width="1.3" stroke-linecap="butt"/>
<rect x="425.80" y="587.53" width="4.20" height="4.20" fill="#000" stroke="none" stroke-width="1" />
<line x1="436.25" y1="587.18" x2="436.25" y2="591.18" stroke="#000" stroke-width="1.3" stroke-linecap="butt"/>
<line x1="434.15" y1="587.18" x2="438.35" y2="587.18" stroke="#000" stroke-width="1.3" stroke-linecap="butt"/>
<line x1="434.15" y1="591.18" x2="438.35" y2="591.18" stroke="#000" stroke-width="1.3" stroke-linecap="butt"/>
<rect x="434.15" y="587.08" width="4.20" height="4.20" fill="#000" stroke="none" stroke-width="1" />
<rect x="284.00" y="504.95" width="4.20" height="4.20" fill="#f00000" stroke="none" stroke-width="1" />
<circle cx="286.10" cy="507.05" r="2.3" fill="#000"/>
<text x="27.28" y="660.80" font-size="13" font-weight="bold" textLength="5.87" lengthAdjust="spacingAndGlyphs" fill="#000">F</text>
<text x="52.77" y="664.50" font-size="10.0" font-weight="bold" textLength="43.23" lengthAdjust="spacingAndGlyphs" fill="#000">NCI-H460</text>
<line x1="53.10" y1="670.00" x2="223.20" y2="670.00" stroke="#000" stroke-width="1.3" stroke-linecap="butt"/>
<clipPath id="clipnci"><rect x="55.30" y="682.40" width="65.40" height="17.20"/></clipPath>
<rect x="55.30" y="682.40" width="65.40" height="17.20" fill="#bababa" stroke="none" stroke-width="1" />
<g clip-path="url(#clipnci)">
<circle cx="61.5" cy="694.6" r="2.1" fill="#d6d6d6" stroke="#9a9a9a" stroke-width="0.5"/>
<circle cx="65.5" cy="692.6" r="2.1" fill="#d6d6d6" stroke="#9a9a9a" stroke-width="0.5"/>
<circle cx="63.5" cy="697.6" r="2.1" fill="#d6d6d6" stroke="#9a9a9a" stroke-width="0.5"/>
<circle cx="58.5" cy="697.1" r="2.1" fill="#d6d6d6" stroke="#9a9a9a" stroke-width="0.5"/>
<circle cx="84.2" cy="694.4" r="1.3" fill="#cfcfcf"/>
<circle cx="96.8" cy="694.4" r="0.9" fill="#d0d0d0"/>
<circle cx="101.7" cy="682.7" r="1.0" fill="#a5a5a5"/>
<circle cx="106.5" cy="698.7" r="0.8" fill="#a5a5a5"/>
<circle cx="85.0" cy="684.2" r="0.8" fill="#d0d0d0"/>
<circle cx="86.4" cy="691.2" r="0.6" fill="#a5a5a5"/>
<circle cx="97.4" cy="699.2" r="1.0" fill="#9a9a9a"/>
<circle cx="97.1" cy="683.2" r="0.6" fill="#d0d0d0"/>
<circle cx="85.1" cy="685.3" r="1.2" fill="#9a9a9a"/>
<circle cx="102.6" cy="684.2" r="1.0" fill="#e0e0e0"/>
<circle cx="107.4" cy="683.4" r="0.9" fill="#e0e0e0"/>
<circle cx="107.3" cy="694.8" r="0.9" fill="#9a9a9a"/>
<circle cx="109.4" cy="685.3" r="1.1" fill="#d0d0d0"/>
<circle cx="84.7" cy="692.6" r="1.1" fill="#9a9a9a"/>
<circle cx="108.3" cy="683.6" r="1.0" fill="#e0e0e0"/>
<circle cx="94.0" cy="697.9" r="1.1" fill="#9a9a9a"/>
<circle cx="84.3" cy="699.0" r="1.1" fill="#e0e0e0"/>
<circle cx="96.4" cy="693.5" r="1.0" fill="#cfcfcf"/>
<circle cx="94.4" cy="694.3" r="0.9" fill="#a5a5a5"/>
<circle cx="84.2" cy="682.4" r="0.6" fill="#d0d0d0"/>
<circle cx="83.4" cy="695.7" r="0.6" fill="#9a9a9a"/>
<circle cx="103.0" cy="686.9" r="1.2" fill="#a5a5a5"/>
<circle cx="115.3" cy="689.0" r="0.6" fill="#d0d0d0"/>
<circle cx="90.6" cy="698.5" r="0.7" fill="#a5a5a5"/>
<circle cx="118.2" cy="689.3" r="1.0" fill="#e0e0e0"/>
<circle cx="117.4" cy="688.0" r="0.5" fill="#9a9a9a"/>
<circle cx="103.2" cy="695.9" r="1.1" fill="#cfcfcf"/>
<circle cx="119.4" cy="693.9" r="0.7" fill="#9a9a9a"/>
<circle cx="89.9" cy="686.1" r="1.2" fill="#a5a5a5"/>
<circle cx="97.5" cy="683.4" r="0.5" fill="#e0e0e0"/>
<circle cx="83.8" cy="691.8" r="1.2" fill="#e0e0e0"/>
<circle cx="116.5" cy="691.1" r="1.3" fill="#e0e0e0"/>
<circle cx="104.7" cy="686.9" r="0.9" fill="#cfcfcf"/>
<circle cx="97.6" cy="686.7" r="1.1" fill="#d0d0d0"/>
<circle cx="87.5" cy="693.1" r="0.8" fill="#cfcfcf"/>
<circle cx="86.8" cy="685.6" r="0.8" fill="#d0d0d0"/>
<circle cx="92.7" cy="684.7" r="0.6" fill="#e0e0e0"/>
<circle cx="92.0" cy="686.5" r="0.7" fill="#d0d0d0"/>
<circle cx="109.3" cy="687.1" r="0.9" fill="#d0d0d0"/>
<circle cx="95.7" cy="687.9" r="1.1" fill="#d0d0d0"/>
<circle cx="100.8" cy="693.4" r="1.0" fill="#9a9a9a"/>
<circle cx="99.6" cy="694.8" r="0.7" fill="#a5a5a5"/>
<circle cx="119.3" cy="695.2" r="1.2" fill="#a5a5a5"/>
<circle cx="105.9" cy="694.8" r="1.2" fill="#e0e0e0"/>
<circle cx="85.4" cy="693.0" r="1.0" fill="#cfcfcf"/>
<circle cx="83.7" cy="684.3" r="1.2" fill="#d0d0d0"/>
<circle cx="116.7" cy="686.4" r="1.0" fill="#cfcfcf"/>
<circle cx="110.5" cy="691.3" r="0.6" fill="#9a9a9a"/>
<circle cx="120.6" cy="689.6" r="0.8" fill="#d0d0d0"/>
<circle cx="99.6" cy="687.0" r="0.6" fill="#cfcfcf"/>
<circle cx="95.0" cy="688.1" r="1.1" fill="#d0d0d0"/>
<circle cx="109.3" cy="690.1" r="1.2" fill="#9a9a9a"/>
<circle cx="90.8" cy="696.0" r="0.8" fill="#cfcfcf"/>
<circle cx="120.5" cy="686.5" r="0.7" fill="#e0e0e0"/>
<circle cx="106.9" cy="698.7" r="1.2" fill="#9a9a9a"/>
<circle cx="112.7" cy="686.1" r="1.1" fill="#cfcfcf"/>
<circle cx="107.1" cy="691.1" r="0.7" fill="#cfcfcf"/>
<circle cx="101.7" cy="698.1" r="1.3" fill="#cfcfcf"/>
<circle cx="114.4" cy="684.2" r="0.8" fill="#e0e0e0"/>
<circle cx="86.7" cy="689.9" r="1.1" fill="#e0e0e0"/>
<circle cx="92.4" cy="685.1" r="0.8" fill="#e0e0e0"/>
<circle cx="97.0" cy="690.0" r="0.9" fill="#a5a5a5"/>
<circle cx="103.4" cy="698.8" r="1.0" fill="#d0d0d0"/>
<circle cx="101.2" cy="696.5" r="0.6" fill="#9a9a9a"/>
<circle cx="110.2" cy="690.1" r="1.0" fill="#d0d0d0"/>
<circle cx="103.4" cy="690.6" r="0.8" fill="#cfcfcf"/>
<circle cx="85.9" cy="688.1" r="0.6" fill="#d0d0d0"/>
<circle cx="103.9" cy="687.9" r="1.0" fill="#d0d0d0"/>
<circle cx="90.5" cy="697.1" r="0.9" fill="#a5a5a5"/>
<circle cx="83.2" cy="694.4" r="1.2" fill="#cfcfcf"/>
</g>
<rect x="54.20" y="681.30" width="67.60" height="19.40" fill="none" stroke="#000" stroke-width="2.2" />
<rect x="137.70" y="681.30" width="67.00" height="19.20" fill="#d3d3d3" stroke="#000" stroke-width="2.2" />
<circle cx="176.0" cy="691.0" r="7.8" fill="#555" opacity="0.5"/>
<circle cx="176.0" cy="691.0" r="7.2" fill="#1c1c1c"/>
<line x1="53.10" y1="711.80" x2="79.70" y2="711.80" stroke="#000" stroke-width="2.5" stroke-dasharray="6.8,2.6" stroke-linecap="butt"/>
<text x="85.66" y="715.40" font-size="9.6" font-weight="bold" textLength="30.35" lengthAdjust="spacingAndGlyphs" fill="#000">2D WT</text>
<line x1="53.10" y1="725.70" x2="79.70" y2="725.70" stroke="#f00000" stroke-width="2.5" stroke-dasharray="6.8,2.6" stroke-linecap="butt"/>
<text x="85.66" y="729.30" font-size="9.6" font-weight="bold" textLength="43.03" lengthAdjust="spacingAndGlyphs" fill="#000">2D T2 k/o</text>
<line x1="137.00" y1="711.80" x2="166.80" y2="711.80" stroke="#000" stroke-width="2.5" stroke-linecap="butt"/>
<text x="171.66" y="715.40" font-size="9.6" font-weight="bold" textLength="30.25" lengthAdjust="spacingAndGlyphs" fill="#000">3D WT</text>
<line x1="137.00" y1="725.70" x2="166.80" y2="725.70" stroke="#f00000" stroke-width="2.5" stroke-linecap="butt"/>
<text x="171.65" y="729.30" font-size="9.6" font-weight="bold" textLength="43.75" lengthAdjust="spacingAndGlyphs" fill="#000">3D T2 k/o</text>
<line x1="56.00" y1="764.50" x2="56.00" y2="875.00" stroke="#000" stroke-width="1.9" stroke-linecap="butt"/>
<line x1="52.80" y1="874.00" x2="56.00" y2="874.00" stroke="#000" stroke-width="1.7" stroke-linecap="butt"/>
<text x="45.64" y="878.00" font-size="10.4" font-weight="bold" fill="#000">0</text>
<line x1="52.80" y1="855.85" x2="56.00" y2="855.85" stroke="#000" stroke-width="1.7" stroke-linecap="butt"/>
<text x="39.87" y="859.85" font-size="10.4" font-weight="bold" fill="#000">20</text>
<line x1="52.80" y1="837.70" x2="56.00" y2="837.70" stroke="#000" stroke-width="1.7" stroke-linecap="butt"/>
<text x="39.87" y="841.70" font-size="10.4" font-weight="bold" fill="#000">40</text>
<line x1="52.80" y1="819.55" x2="56.00" y2="819.55" stroke="#000" stroke-width="1.7" stroke-linecap="butt"/>
<text x="39.87" y="823.55" font-size="10.4" font-weight="bold" fill="#000">60</text>
<line x1="52.80" y1="801.40" x2="56.00" y2="801.40" stroke="#000" stroke-width="1.7" stroke-linecap="butt"/>
<text x="39.87" y="805.40" font-size="10.4" font-weight="bold" fill="#000">80</text>
<line x1="52.80" y1="783.25" x2="56.00" y2="783.25" stroke="#000" stroke-width="1.7" stroke-linecap="butt"/>
<text x="34.10" y="787.25" font-size="10.4" font-weight="bold" fill="#000">100</text>
<line x1="52.80" y1="765.10" x2="56.00" y2="765.10" stroke="#000" stroke-width="1.7" stroke-linecap="butt"/>
<text x="34.10" y="769.10" font-size="10.4" font-weight="bold" fill="#000">120</text>
<line x1="55.00" y1="874.00" x2="71.50" y2="874.00" stroke="#000" stroke-width="1.9" stroke-linecap="butt"/>
<line x1="71.50" y1="871.40" x2="71.50" y2="876.60" stroke="#000" stroke-width="1.6" stroke-linecap="butt"/>
<line x1="78.40" y1="874.00" x2="219.20" y2="874.00" stroke="#000" stroke-width="1.9" stroke-linecap="butt"/>
<line x1="79.20" y1="871.40" x2="79.20" y2="876.60" stroke="#000" stroke-width="1.6" stroke-linecap="butt"/>
<line x1="56.00" y1="874.00" x2="56.00" y2="876.80" stroke="#000" stroke-width="1.6" stroke-linecap="butt"/>
<line x1="107.04" y1="874.00" x2="107.04" y2="876.80" stroke="#000" stroke-width="1.6" stroke-linecap="butt"/>
<line x1="134.88" y1="874.00" x2="134.88" y2="876.80" stroke="#000" stroke-width="1.6" stroke-linecap="butt"/>
<line x1="162.72" y1="874.00" x2="162.72" y2="876.80" stroke="#000" stroke-width="1.6" stroke-linecap="butt"/>
<line x1="190.56" y1="874.00" x2="190.56" y2="876.80" stroke="#000" stroke-width="1.6" stroke-linecap="butt"/>
<line x1="218.40" y1="874.00" x2="218.40" y2="876.80" stroke="#000" stroke-width="1.6" stroke-linecap="butt"/>
<text x="52.93" y="888.40" font-size="10.0" font-weight="bold" fill="#000">0</text>
<text x="70.60" y="888.70" font-size="10.0" font-weight="bold" textLength="11.12" lengthAdjust="spacingAndGlyphs" fill="#000">10</text>
<text x="81.94" y="885.20" font-size="6.6" font-weight="bold" fill="#000">-4</text>
<text x="98.44" y="888.70" font-size="10.0" font-weight="bold" textLength="11.12" lengthAdjust="spacingAndGlyphs" fill="#000">10</text>
<text x="109.78" y="885.20" font-size="6.6" font-weight="bold" fill="#000">-3</text>
<text x="126.28" y="888.70" font-size="10.0" font-weight="bold" textLength="11.12" lengthAdjust="spacingAndGlyphs" fill="#000">10</text>
<text x="137.62" y="885.20" font-size="6.6" font-weight="bold" fill="#000">-2</text>
<text x="154.12" y="888.70" font-size="10.0" font-weight="bold" textLength="11.12" lengthAdjust="spacingAndGlyphs" fill="#000">10</text>
<text x="165.46" y="885.20" font-size="6.6" font-weight="bold" fill="#000">-1</text>
<text x="181.96" y="888.70" font-size="10.0" font-weight="bold" textLength="11.12" lengthAdjust="spacingAndGlyphs" fill="#000">10</text>
<text x="193.30" y="885.20" font-size="6.6" font-weight="bold" fill="#000">0</text>
<text x="209.80" y="888.70" font-size="10.0" font-weight="bold" textLength="11.12" lengthAdjust="spacingAndGlyphs" fill="#000">10</text>
<text x="221.00" y="885.20" font-size="6.6" font-weight="bold" fill="#000">1</text>
<text x="110.00" y="902.70" font-size="10.0" font-weight="bold" textLength="54.81" lengthAdjust="spacingAndGlyphs" fill="#000">TRAIL [nM]</text>
<text transform="translate(15.80,845.95) rotate(-90)" x="0" y="0" font-size="10.5" font-weight="bold" textLength="55.19" lengthAdjust="spacingAndGlyphs" fill="#000">viable cells</text>
<text transform="translate(28.20,851.47) rotate(-90)" x="0" y="0" font-size="10.5" font-weight="bold" textLength="66.67" lengthAdjust="spacingAndGlyphs" fill="#000">[% of control]</text>
<line x1="57.00" y1="784.14" x2="71.00" y2="784.14" stroke="#f00000" stroke-width="1.8" stroke-linecap="butt"/>
<path d="M79.20,784.14 L80.63,784.15 L82.05,784.15 L83.48,784.15 L84.91,784.16 L86.33,784.16 L87.76,784.17 L89.18,784.17 L90.61,784.18 L92.04,784.18 L93.46,784.19 L94.89,784.20 L96.32,784.21 L97.74,784.21 L99.17,784.22 L100.60,784.23 L102.02,784.25 L103.45,784.26 L104.88,784.27 L106.30,784.29 L107.73,784.30 L109.15,784.32 L110.58,784.34 L112.01,784.36 L113.43,784.39 L114.86,784.41 L116.29,784.44 L117.71,784.47 L119.14,784.50 L120.57,784.54 L121.99,784.58 L123.42,784.62 L124.85,784.67 L126.27,784.72 L127.70,784.78 L129.12,784.84 L130.55,784.90 L131.98,784.98 L133.40,785.06 L134.83,785.14 L136.26,785.24 L137.68,785.34 L139.11,785.45 L140.54,785.57 L141.96,785.70 L143.39,785.85 L144.81,786.01 L146.24,786.18 L147.67,786.36 L149.09,786.56 L150.52,786.78 L151.95,787.01 L153.37,787.27 L154.80,787.54 L156.23,787.84 L157.65,788.17 L159.08,788.51 L160.51,788.89 L161.93,789.29 L163.36,789.73 L164.78,790.19 L166.21,790.69 L167.64,791.23 L169.06,791.80 L170.49,792.40 L171.92,793.05 L173.34,793.74 L174.77,794.47 L176.20,795.24 L177.62,796.05 L179.05,796.90 L180.48,797.80 L181.90,798.73 L183.33,799.71 L184.75,800.72 L186.18,801.77 L187.61,802.85 L189.03,803.96 L190.46,805.10 L191.89,806.27 L193.31,807.45 L194.74,808.65 L196.17,809.86 L197.59,811.08 L199.02,812.30 L200.44,813.51 L201.87,814.72 L203.30,815.91 L204.72,817.09 L206.15,818.24" stroke="#f00000" stroke-width="1.8" fill="none" />
<line x1="57.00" y1="784.41" x2="71.00" y2="784.41" stroke="#f00000" stroke-width="1.8" stroke-dasharray="4.6,2.6" stroke-linecap="butt"/>
<path d="M79.20,784.41 L80.63,784.41 L82.05,784.41 L83.48,784.41 L84.91,784.41 L86.33,784.41 L87.76,784.41 L89.18,784.41 L90.61,784.41 L92.04,784.41 L93.46,784.41 L94.89,784.41 L96.32,784.41 L97.74,784.41 L99.17,784.41 L100.60,784.41 L102.02,784.41 L103.45,784.42 L104.88,784.42 L106.30,784.42 L107.73,784.42 L109.15,784.42 L110.58,784.42 L112.01,784.43 L113.43,784.43 L114.86,784.43 L116.29,784.44 L117.71,784.44 L119.14,784.45 L120.57,784.45 L121.99,784.46 L123.42,784.47 L124.85,784.48 L126.27,784.49 L127.70,784.50 L129.12,784.52 L130.55,784.54 L131.98,784.56 L133.40,784.58 L134.83,784.61 L136.26,784.65 L137.68,784.69 L139.11,784.73 L140.54,784.79 L141.96,784.85 L143.39,784.93 L144.81,785.02 L146.24,785.12 L147.67,785.24 L149.09,785.38 L150.52,785.55 L151.95,785.74 L153.37,785.96 L154.80,786.22 L156.23,786.52 L157.65,786.87 L159.08,787.28 L160.51,787.75 L161.93,788.30 L163.36,788.92 L164.78,789.64 L166.21,790.47 L167.64,791.42 L169.06,792.49 L170.49,793.72 L171.92,795.09 L173.34,796.64 L174.77,798.36 L176.20,800.27 L177.62,802.38 L179.05,804.66 L180.48,807.14 L181.90,809.78 L183.33,812.58 L184.75,815.51 L186.18,818.54 L187.61,821.64 L189.03,824.77 L190.46,827.89 L191.89,830.96 L193.31,833.95 L194.74,836.82 L196.17,839.56 L197.59,842.12 L199.02,844.51 L200.44,846.72 L201.87,848.73 L203.30,850.55 L204.72,852.20 L206.15,853.66" stroke="#f00000" stroke-width="1.8" fill="none" stroke-dasharray="4.6,2.6"/>
<line x1="57.00" y1="784.86" x2="71.00" y2="784.86" stroke="#000" stroke-width="1.8" stroke-linecap="butt"/>
<path d="M79.20,784.86 L80.63,784.86 L82.05,784.87 L83.48,784.88 L84.91,784.88 L86.33,784.89 L87.76,784.90 L89.18,784.91 L90.61,784.92 L92.04,784.94 L93.46,784.95 L94.89,784.96 L96.32,784.98 L97.74,785.00 L99.17,785.02 L100.60,785.04 L102.02,785.06 L103.45,785.09 L104.88,785.12 L106.30,785.15 L107.73,785.18 L109.15,785.22 L110.58,785.26 L112.01,785.31 L113.43,785.36 L114.86,785.41 L116.29,785.47 L117.71,785.53 L119.14,785.60 L120.57,785.68 L121.99,785.77 L123.42,785.86 L124.85,785.96 L126.27,786.08 L127.70,786.20 L129.12,786.33 L130.55,786.48 L131.98,786.64 L133.40,786.81 L134.83,787.01 L136.26,787.21 L137.68,787.44 L139.11,787.69 L140.54,787.96 L141.96,788.26 L143.39,788.58 L144.81,788.93 L146.24,789.32 L147.67,789.73 L149.09,790.18 L150.52,790.67 L151.95,791.20 L153.37,791.77 L154.80,792.39 L156.23,793.06 L157.65,793.79 L159.08,794.56 L160.51,795.40 L161.93,796.29 L163.36,797.25 L164.78,798.28 L166.21,799.37 L167.64,800.54 L169.06,801.77 L170.49,803.08 L171.92,804.45 L173.34,805.90 L174.77,807.43 L176.20,809.02 L177.62,810.68 L179.05,812.40 L180.48,814.18 L181.90,816.01 L183.33,817.90 L184.75,819.83 L186.18,821.79 L187.61,823.78 L189.03,825.79 L190.46,827.81 L191.89,829.84 L193.31,831.85 L194.74,833.86 L196.17,835.83 L197.59,837.78 L199.02,839.69 L200.44,841.56 L201.87,843.37 L203.30,845.12 L204.72,846.82 L206.15,848.44" stroke="#000" stroke-width="1.8" fill="none" />
<line x1="57.00" y1="779.87" x2="71.00" y2="779.87" stroke="#000" stroke-width="1.8" stroke-dasharray="4.6,2.6" stroke-linecap="butt"/>
<path d="M79.20,779.87 L80.63,779.87 L82.05,779.87 L83.48,779.87 L84.91,779.88 L86.33,779.88 L87.76,779.89 L89.18,779.89 L90.61,779.90 L92.04,779.91 L93.46,779.91 L94.89,779.92 L96.32,779.94 L97.74,779.95 L99.17,779.96 L100.60,779.98 L102.02,780.00 L103.45,780.02 L104.88,780.05 L106.30,780.08 L107.73,780.11 L109.15,780.15 L110.58,780.20 L112.01,780.25 L113.43,780.31 L114.86,780.38 L116.29,780.46 L117.71,780.56 L119.14,780.66 L120.57,780.79 L121.99,780.93 L123.42,781.09 L124.85,781.28 L126.27,781.49 L127.70,781.74 L129.12,782.02 L130.55,782.34 L131.98,782.71 L133.40,783.13 L134.83,783.61 L136.26,784.15 L137.68,784.77 L139.11,785.48 L140.54,786.27 L141.96,787.17 L143.39,788.18 L144.81,789.31 L146.24,790.58 L147.67,791.98 L149.09,793.54 L150.52,795.26 L151.95,797.13 L153.37,799.18 L154.80,801.39 L156.23,803.76 L157.65,806.28 L159.08,808.94 L160.51,811.73 L161.93,814.61 L163.36,817.58 L164.78,820.59 L166.21,823.62 L167.64,826.64 L169.06,829.62 L170.49,832.53 L171.92,835.34 L173.34,838.04 L174.77,840.59 L176.20,843.00 L177.62,845.25 L179.05,847.34 L180.48,849.25 L181.90,851.01 L183.33,852.61 L184.75,854.05 L186.18,855.35 L187.61,856.51 L189.03,857.55 L190.46,858.47 L191.89,859.29 L193.31,860.02 L194.74,860.66 L196.17,861.22 L197.59,861.72 L199.02,862.15 L200.44,862.53 L201.87,862.86 L203.30,863.15 L204.72,863.41 L206.15,863.63" stroke="#000" stroke-width="1.8" fill="none" stroke-dasharray="4.6,2.6"/>
<line x1="102.03" y1="782.16" x2="102.03" y2="786.16" stroke="#f00000" stroke-width="1.3" stroke-linecap="butt"/>
<line x1="99.93" y1="782.16" x2="104.13" y2="782.16" stroke="#f00000" stroke-width="1.3" stroke-linecap="butt"/>
<line x1="99.93" y1="786.16" x2="104.13" y2="786.16" stroke="#f00000" stroke-width="1.3" stroke-linecap="butt"/>
<path d="M102.03,781.26 L104.73,786.06 L99.33,786.06 Z" stroke="none" stroke-width="1" fill="#f00000" />
<line x1="115.11" y1="782.16" x2="115.11" y2="786.16" stroke="#f00000" stroke-width="1.3" stroke-linecap="butt"/>
<line x1="113.01" y1="782.16" x2="117.21" y2="782.16" stroke="#f00000" stroke-width="1.3" stroke-linecap="butt"/>
<line x1="113.01" y1="786.16" x2="117.21" y2="786.16" stroke="#f00000" stroke-width="1.3" stroke-linecap="butt"/>
<path d="M115.11,781.26 L117.81,786.06 L112.41,786.06 Z" stroke="none" stroke-width="1" fill="#f00000" />
<line x1="143.51" y1="783.97" x2="143.51" y2="787.97" stroke="#f00000" stroke-width="1.3" stroke-linecap="butt"/>
<line x1="141.41" y1="783.97" x2="145.61" y2="783.97" stroke="#f00000" stroke-width="1.3" stroke-linecap="butt"/>
<line x1="141.41" y1="787.97" x2="145.61" y2="787.97" stroke="#f00000" stroke-width="1.3" stroke-linecap="butt"/>
<path d="M143.51,783.07 L146.21,787.87 L140.81,787.87 Z" stroke="none" stroke-width="1" fill="#f00000" />
<line x1="170.79" y1="786.96" x2="170.79" y2="798.96" stroke="#f00000" stroke-width="1.3" stroke-linecap="butt"/>
<line x1="168.69" y1="786.96" x2="172.89" y2="786.96" stroke="#f00000" stroke-width="1.3" stroke-linecap="butt"/>
<line x1="168.69" y1="798.96" x2="172.89" y2="798.96" stroke="#f00000" stroke-width="1.3" stroke-linecap="butt"/>
<path d="M170.79,790.06 L173.49,794.86 L168.09,794.86 Z" stroke="none" stroke-width="1" fill="#f00000" />
<line x1="184.16" y1="787.59" x2="184.16" y2="811.59" stroke="#f00000" stroke-width="1.3" stroke-linecap="butt"/>
<line x1="182.06" y1="787.59" x2="186.26" y2="787.59" stroke="#f00000" stroke-width="1.3" stroke-linecap="butt"/>
<line x1="182.06" y1="811.59" x2="186.26" y2="811.59" stroke="#f00000" stroke-width="1.3" stroke-linecap="butt"/>
<path d="M184.16,796.69 L186.86,801.49 L181.46,801.49 Z" stroke="none" stroke-width="1" fill="#f00000" />
<line x1="197.80" y1="796.84" x2="197.80" y2="826.84" stroke="#f00000" stroke-width="1.3" stroke-linecap="butt"/>
<line x1="195.70" y1="796.84" x2="199.90" y2="796.84" stroke="#f00000" stroke-width="1.3" stroke-linecap="butt"/>
<line x1="195.70" y1="826.84" x2="199.90" y2="826.84" stroke="#f00000" stroke-width="1.3" stroke-linecap="butt"/>
<path d="M197.80,808.94 L200.50,813.74 L195.10,813.74 Z" stroke="none" stroke-width="1" fill="#f00000" />
<line x1="206.15" y1="806.01" x2="206.15" y2="830.01" stroke="#f00000" stroke-width="1.3" stroke-linecap="butt"/>
<line x1="204.05" y1="806.01" x2="208.25" y2="806.01" stroke="#f00000" stroke-width="1.3" stroke-linecap="butt"/>
<line x1="204.05" y1="830.01" x2="208.25" y2="830.01" stroke="#f00000" stroke-width="1.3" stroke-linecap="butt"/>
<path d="M206.15,815.11 L208.85,819.91 L203.45,819.91 Z" stroke="none" stroke-width="1" fill="#f00000" />
<line x1="102.03" y1="782.16" x2="102.03" y2="786.16" stroke="#f00000" stroke-width="1.3" stroke-linecap="butt"/>
<line x1="99.93" y1="782.16" x2="104.13" y2="782.16" stroke="#f00000" stroke-width="1.3" stroke-linecap="butt"/>
<line x1="99.93" y1="786.16" x2="104.13" y2="786.16" stroke="#f00000" stroke-width="1.3" stroke-linecap="butt"/>
<rect x="99.93" y="782.06" width="4.20" height="4.20" fill="#f00000" stroke="none" stroke-width="1" />
<line x1="115.11" y1="782.16" x2="115.11" y2="786.16" stroke="#f00000" stroke-width="1.3" stroke-linecap="butt"/>
<line x1="113.01" y1="782.16" x2="117.21" y2="782.16" stroke="#f00000" stroke-width="1.3" stroke-linecap="butt"/>
<line x1="113.01" y1="786.16" x2="117.21" y2="786.16" stroke="#f00000" stroke-width="1.3" stroke-linecap="butt"/>
<rect x="113.01" y="782.06" width="4.20" height="4.20" fill="#f00000" stroke="none" stroke-width="1" />
<line x1="143.51" y1="786.70" x2="143.51" y2="790.70" stroke="#f00000" stroke-width="1.3" stroke-linecap="butt"/>
<line x1="141.41" y1="786.70" x2="145.61" y2="786.70" stroke="#f00000" stroke-width="1.3" stroke-linecap="butt"/>
<line x1="141.41" y1="790.70" x2="145.61" y2="790.70" stroke="#f00000" stroke-width="1.3" stroke-linecap="butt"/>
<rect x="141.41" y="786.60" width="4.20" height="4.20" fill="#f00000" stroke="none" stroke-width="1" />
<line x1="170.79" y1="791.32" x2="170.79" y2="797.32" stroke="#f00000" stroke-width="1.3" stroke-linecap="butt"/>
<line x1="168.69" y1="791.32" x2="172.89" y2="791.32" stroke="#f00000" stroke-width="1.3" stroke-linecap="butt"/>
<line x1="168.69" y1="797.32" x2="172.89" y2="797.32" stroke="#f00000" stroke-width="1.3" stroke-linecap="butt"/>
<rect x="168.69" y="792.22" width="4.20" height="4.20" fill="#f00000" stroke="none" stroke-width="1" />
<line x1="184.16" y1="805.38" x2="184.16" y2="821.38" stroke="#f00000" stroke-width="1.3" stroke-linecap="butt"/>
<line x1="182.06" y1="805.38" x2="186.26" y2="805.38" stroke="#f00000" stroke-width="1.3" stroke-linecap="butt"/>
<line x1="182.06" y1="821.38" x2="186.26" y2="821.38" stroke="#f00000" stroke-width="1.3" stroke-linecap="butt"/>
<rect x="182.06" y="811.28" width="4.20" height="4.20" fill="#f00000" stroke="none" stroke-width="1" />
<line x1="197.80" y1="837.60" x2="197.80" y2="849.60" stroke="#f00000" stroke-width="1.3" stroke-linecap="butt"/>
<line x1="195.70" y1="837.60" x2="199.90" y2="837.60" stroke="#f00000" stroke-width="1.3" stroke-linecap="butt"/>
<line x1="195.70" y1="849.60" x2="199.90" y2="849.60" stroke="#f00000" stroke-width="1.3" stroke-linecap="butt"/>
<rect x="195.70" y="841.50" width="4.20" height="4.20" fill="#f00000" stroke="none" stroke-width="1" />
<line x1="206.15" y1="850.04" x2="206.15" y2="856.04" stroke="#f00000" stroke-width="1.3" stroke-linecap="butt"/>
<line x1="204.05" y1="850.04" x2="208.25" y2="850.04" stroke="#f00000" stroke-width="1.3" stroke-linecap="butt"/>
<line x1="204.05" y1="856.04" x2="208.25" y2="856.04" stroke="#f00000" stroke-width="1.3" stroke-linecap="butt"/>
<rect x="204.05" y="850.94" width="4.20" height="4.20" fill="#f00000" stroke="none" stroke-width="1" />
<line x1="102.03" y1="781.16" x2="102.03" y2="787.16" stroke="#000" stroke-width="1.3" stroke-linecap="butt"/>
<line x1="99.93" y1="781.16" x2="104.13" y2="781.16" stroke="#000" stroke-width="1.3" stroke-linecap="butt"/>
<line x1="99.93" y1="787.16" x2="104.13" y2="787.16" stroke="#000" stroke-width="1.3" stroke-linecap="butt"/>
<path d="M102.03,781.26 L104.73,786.06 L99.33,786.06 Z" stroke="none" stroke-width="1" fill="#000" />
<line x1="115.11" y1="781.97" x2="115.11" y2="797.97" stroke="#000" stroke-width="1.3" stroke-linecap="butt"/>
<line x1="113.01" y1="781.97" x2="117.21" y2="781.97" stroke="#000" stroke-width="1.3" stroke-linecap="butt"/>
<line x1="113.01" y1="797.97" x2="117.21" y2="797.97" stroke="#000" stroke-width="1.3" stroke-linecap="butt"/>
<path d="M115.11,787.07 L117.81,791.87 L112.41,791.87 Z" stroke="none" stroke-width="1" fill="#000" />
<line x1="143.51" y1="785.33" x2="143.51" y2="791.33" stroke="#000" stroke-width="1.3" stroke-linecap="butt"/>
<line x1="141.41" y1="785.33" x2="145.61" y2="785.33" stroke="#000" stroke-width="1.3" stroke-linecap="butt"/>
<line x1="141.41" y1="791.33" x2="145.61" y2="791.33" stroke="#000" stroke-width="1.3" stroke-linecap="butt"/>
<path d="M143.51,785.43 L146.21,790.23 L140.81,790.23 Z" stroke="none" stroke-width="1" fill="#000" />
<line x1="170.79" y1="799.76" x2="170.79" y2="805.76" stroke="#000" stroke-width="1.3" stroke-linecap="butt"/>
<line x1="168.69" y1="799.76" x2="172.89" y2="799.76" stroke="#000" stroke-width="1.3" stroke-linecap="butt"/>
<line x1="168.69" y1="805.76" x2="172.89" y2="805.76" stroke="#000" stroke-width="1.3" stroke-linecap="butt"/>
<path d="M170.79,799.86 L173.49,804.66 L168.09,804.66 Z" stroke="none" stroke-width="1" fill="#000" />
<line x1="184.16" y1="816.28" x2="184.16" y2="822.28" stroke="#000" stroke-width="1.3" stroke-linecap="butt"/>
<line x1="182.06" y1="816.28" x2="186.26" y2="816.28" stroke="#000" stroke-width="1.3" stroke-linecap="butt"/>
<line x1="182.06" y1="822.28" x2="186.26" y2="822.28" stroke="#000" stroke-width="1.3" stroke-linecap="butt"/>
<path d="M184.16,816.38 L186.86,821.18 L181.46,821.18 Z" stroke="none" stroke-width="1" fill="#000" />
<line x1="197.80" y1="833.34" x2="197.80" y2="843.34" stroke="#000" stroke-width="1.3" stroke-linecap="butt"/>
<line x1="195.70" y1="833.34" x2="199.90" y2="833.34" stroke="#000" stroke-width="1.3" stroke-linecap="butt"/>
<line x1="195.70" y1="843.34" x2="199.90" y2="843.34" stroke="#000" stroke-width="1.3" stroke-linecap="butt"/>
<path d="M197.80,835.44 L200.50,840.24 L195.10,840.24 Z" stroke="none" stroke-width="1" fill="#000" />
<line x1="206.15" y1="846.23" x2="206.15" y2="850.23" stroke="#000" stroke-width="1.3" stroke-linecap="butt"/>
<line x1="204.05" y1="846.23" x2="208.25" y2="846.23" stroke="#000" stroke-width="1.3" stroke-linecap="butt"/>
<line x1="204.05" y1="850.23" x2="208.25" y2="850.23" stroke="#000" stroke-width="1.3" stroke-linecap="butt"/>
<path d="M206.15,845.33 L208.85,850.13 L203.45,850.13 Z" stroke="none" stroke-width="1" fill="#000" />
<line x1="102.03" y1="774.08" x2="102.03" y2="784.08" stroke="#000" stroke-width="1.3" stroke-linecap="butt"/>
<line x1="99.93" y1="774.08" x2="104.13" y2="774.08" stroke="#000" stroke-width="1.3" stroke-linecap="butt"/>
<line x1="99.93" y1="784.08" x2="104.13" y2="784.08" stroke="#000" stroke-width="1.3" stroke-linecap="butt"/>
<rect x="99.93" y="776.98" width="4.20" height="4.20" fill="#000" stroke="none" stroke-width="1" />
<line x1="115.11" y1="773.44" x2="115.11" y2="783.44" stroke="#000" stroke-width="1.3" stroke-linecap="butt"/>
<line x1="113.01" y1="773.44" x2="117.21" y2="773.44" stroke="#000" stroke-width="1.3" stroke-linecap="butt"/>
<line x1="113.01" y1="783.44" x2="117.21" y2="783.44" stroke="#000" stroke-width="1.3" stroke-linecap="butt"/>
<rect x="113.01" y="776.34" width="4.20" height="4.20" fill="#000" stroke="none" stroke-width="1" />
<line x1="143.51" y1="784.60" x2="143.51" y2="792.60" stroke="#000" stroke-width="1.3" stroke-linecap="butt"/>
<line x1="141.41" y1="784.60" x2="145.61" y2="784.60" stroke="#000" stroke-width="1.3" stroke-linecap="butt"/>
<line x1="141.41" y1="792.60" x2="145.61" y2="792.60" stroke="#000" stroke-width="1.3" stroke-linecap="butt"/>
<rect x="141.41" y="786.50" width="4.20" height="4.20" fill="#000" stroke="none" stroke-width="1" />
<line x1="170.79" y1="830.07" x2="170.79" y2="836.07" stroke="#000" stroke-width="1.3" stroke-linecap="butt"/>
<line x1="168.69" y1="830.07" x2="172.89" y2="830.07" stroke="#000" stroke-width="1.3" stroke-linecap="butt"/>
<line x1="168.69" y1="836.07" x2="172.89" y2="836.07" stroke="#000" stroke-width="1.3" stroke-linecap="butt"/>
<rect x="168.69" y="830.97" width="4.20" height="4.20" fill="#000" stroke="none" stroke-width="1" />
<line x1="184.16" y1="850.40" x2="184.16" y2="856.40" stroke="#000" stroke-width="1.3" stroke-linecap="butt"/>
<line x1="182.06" y1="850.40" x2="186.26" y2="850.40" stroke="#000" stroke-width="1.3" stroke-linecap="butt"/>
<line x1="182.06" y1="856.40" x2="186.26" y2="856.40" stroke="#000" stroke-width="1.3" stroke-linecap="butt"/>
<rect x="182.06" y="851.30" width="4.20" height="4.20" fill="#000" stroke="none" stroke-width="1" />
<line x1="197.80" y1="860.02" x2="197.80" y2="864.02" stroke="#000" stroke-width="1.3" stroke-linecap="butt"/>
<line x1="195.70" y1="860.02" x2="199.90" y2="860.02" stroke="#000" stroke-width="1.3" stroke-linecap="butt"/>
<line x1="195.70" y1="864.02" x2="199.90" y2="864.02" stroke="#000" stroke-width="1.3" stroke-linecap="butt"/>
<rect x="195.70" y="859.92" width="4.20" height="4.20" fill="#000" stroke="none" stroke-width="1" />
<line x1="206.15" y1="861.47" x2="206.15" y2="865.47" stroke="#000" stroke-width="1.3" stroke-linecap="butt"/>
<line x1="204.05" y1="861.47" x2="208.25" y2="861.47" stroke="#000" stroke-width="1.3" stroke-linecap="butt"/>
<line x1="204.05" y1="865.47" x2="208.25" y2="865.47" stroke="#000" stroke-width="1.3" stroke-linecap="butt"/>
<rect x="204.05" y="861.37" width="4.20" height="4.20" fill="#000" stroke="none" stroke-width="1" />
<rect x="53.90" y="781.15" width="4.20" height="4.20" fill="#f00000" stroke="none" stroke-width="1" />
<circle cx="56.00" cy="783.25" r="2.3" fill="#000"/>
<text x="254.04" y="660.80" font-size="13" font-weight="bold" textLength="8.99" lengthAdjust="spacingAndGlyphs" fill="#000">G</text>
<text x="285.77" y="665.00" font-size="10.0" font-weight="bold" textLength="43.23" lengthAdjust="spacingAndGlyphs" fill="#000">NCI-H460</text>
<line x1="286.30" y1="670.20" x2="455.00" y2="670.20" stroke="#000" stroke-width="1.3" stroke-linecap="butt"/>
<text x="286.06" y="685.00" font-size="9.4" font-weight="bold" textLength="60.76" lengthAdjust="spacingAndGlyphs" fill="#000">stimulated in</text>
<text x="286.06" y="696.00" font-size="9.4" font-weight="bold" textLength="53.74" lengthAdjust="spacingAndGlyphs" fill="#000">suspension</text>
<rect x="365.90" y="681.20" width="44.80" height="18.80" fill="#d2d2d2" stroke="#000" stroke-width="2.1" />
<circle cx="386.8" cy="688.8" r="1.9" fill="#e9e9e9" stroke="#6e6e6e" stroke-width="0.55"/>
<circle cx="373.8" cy="695.7" r="1.9" fill="#e9e9e9" stroke="#6e6e6e" stroke-width="0.55"/>
<circle cx="368.6" cy="690.6" r="1.9" fill="#e9e9e9" stroke="#6e6e6e" stroke-width="0.55"/>
<circle cx="404.2" cy="684.7" r="1.9" fill="#e9e9e9" stroke="#6e6e6e" stroke-width="0.55"/>
<circle cx="390.5" cy="692.2" r="1.9" fill="#e9e9e9" stroke="#6e6e6e" stroke-width="0.55"/>
<circle cx="369.9" cy="688.9" r="1.9" fill="#e9e9e9" stroke="#6e6e6e" stroke-width="0.55"/>
<circle cx="396.4" cy="689.9" r="1.9" fill="#e9e9e9" stroke="#6e6e6e" stroke-width="0.55"/>
<circle cx="397.3" cy="685.8" r="1.9" fill="#e9e9e9" stroke="#6e6e6e" stroke-width="0.55"/>
<circle cx="377.8" cy="685.2" r="1.9" fill="#e9e9e9" stroke="#6e6e6e" stroke-width="0.55"/>
<circle cx="388.6" cy="696.5" r="1.9" fill="#e9e9e9" stroke="#6e6e6e" stroke-width="0.55"/>
<circle cx="391.9" cy="694.4" r="1.9" fill="#e9e9e9" stroke="#6e6e6e" stroke-width="0.55"/>
<circle cx="383.6" cy="694.0" r="1.9" fill="#e9e9e9" stroke="#6e6e6e" stroke-width="0.55"/>
<circle cx="372.4" cy="687.7" r="1.9" fill="#e9e9e9" stroke="#6e6e6e" stroke-width="0.55"/>
<circle cx="395.3" cy="693.8" r="1.9" fill="#e9e9e9" stroke="#6e6e6e" stroke-width="0.55"/>
<circle cx="385.2" cy="684.8" r="1.9" fill="#e9e9e9" stroke="#6e6e6e" stroke-width="0.55"/>
<circle cx="379.0" cy="686.5" r="1.9" fill="#e9e9e9" stroke="#6e6e6e" stroke-width="0.55"/>
<line x1="286.50" y1="712.40" x2="313.40" y2="712.40" stroke="#000" stroke-width="2.5" stroke-dasharray="6.8,2.6" stroke-linecap="butt"/>
<text x="320.56" y="716.40" font-size="9.2" font-weight="bold" textLength="81.82" lengthAdjust="spacingAndGlyphs" fill="#000">2D WT (detached)</text>
<line x1="286.50" y1="725.70" x2="313.40" y2="725.70" stroke="#f00000" stroke-width="2.5" stroke-dasharray="6.8,2.6" stroke-linecap="butt"/>
<text x="320.56" y="729.70" font-size="9.2" font-weight="bold" textLength="94.93" lengthAdjust="spacingAndGlyphs" fill="#000">2D T2 k/o (detached)</text>
<line x1="286.50" y1="738.10" x2="313.40" y2="738.10" stroke="#000" stroke-width="2.5" stroke-linecap="butt"/>
<text x="320.66" y="742.10" font-size="9.2" font-weight="bold" textLength="92.50" lengthAdjust="spacingAndGlyphs" fill="#000">3D WT (dissociated)</text>
<line x1="286.50" y1="750.30" x2="313.40" y2="750.30" stroke="#f00000" stroke-width="2.5" stroke-linecap="butt"/>
<text x="320.66" y="754.30" font-size="9.2" font-weight="bold" textLength="105.80" lengthAdjust="spacingAndGlyphs" fill="#000">3D T2 k/o (dissociated)</text>
<line x1="287.70" y1="764.50" x2="287.70" y2="875.00" stroke="#000" stroke-width="1.9" stroke-linecap="butt"/>
<line x1="284.50" y1="874.00" x2="287.70" y2="874.00" stroke="#000" stroke-width="1.7" stroke-linecap="butt"/>
<text x="277.34" y="878.00" font-size="10.4" font-weight="bold" fill="#000">0</text>
<line x1="284.50" y1="855.85" x2="287.70" y2="855.85" stroke="#000" stroke-width="1.7" stroke-linecap="butt"/>
<text x="271.57" y="859.85" font-size="10.4" font-weight="bold" fill="#000">20</text>
<line x1="284.50" y1="837.70" x2="287.70" y2="837.70" stroke="#000" stroke-width="1.7" stroke-linecap="butt"/>
<text x="271.57" y="841.70" font-size="10.4" font-weight="bold" fill="#000">40</text>
<line x1="284.50" y1="819.55" x2="287.70" y2="819.55" stroke="#000" stroke-width="1.7" stroke-linecap="butt"/>
<text x="271.57" y="823.55" font-size="10.4" font-weight="bold" fill="#000">60</text>
<line x1="284.50" y1="801.40" x2="287.70" y2="801.40" stroke="#000" stroke-width="1.7" stroke-linecap="butt"/>
<text x="271.57" y="805.40" font-size="10.4" font-weight="bold" fill="#000">80</text>
<line x1="284.50" y1="783.25" x2="287.70" y2="783.25" stroke="#000" stroke-width="1.7" stroke-linecap="butt"/>
<text x="265.80" y="787.25" font-size="10.4" font-weight="bold" fill="#000">100</text>
<line x1="284.50" y1="765.10" x2="287.70" y2="765.10" stroke="#000" stroke-width="1.7" stroke-linecap="butt"/>
<text x="265.80" y="769.10" font-size="10.4" font-weight="bold" fill="#000">120</text>
<line x1="286.70" y1="874.00" x2="303.20" y2="874.00" stroke="#000" stroke-width="1.9" stroke-linecap="butt"/>
<line x1="303.20" y1="871.40" x2="303.20" y2="876.60" stroke="#000" stroke-width="1.6" stroke-linecap="butt"/>
<line x1="310.10" y1="874.00" x2="450.90" y2="874.00" stroke="#000" stroke-width="1.9" stroke-linecap="butt"/>
<line x1="310.90" y1="871.40" x2="310.90" y2="876.60" stroke="#000" stroke-width="1.6" stroke-linecap="butt"/>
<line x1="287.70" y1="874.00" x2="287.70" y2="876.80" stroke="#000" stroke-width="1.6" stroke-linecap="butt"/>
<line x1="338.74" y1="874.00" x2="338.74" y2="876.80" stroke="#000" stroke-width="1.6" stroke-linecap="butt"/>
<line x1="366.58" y1="874.00" x2="366.58" y2="876.80" stroke="#000" stroke-width="1.6" stroke-linecap="butt"/>
<line x1="394.42" y1="874.00" x2="394.42" y2="876.80" stroke="#000" stroke-width="1.6" stroke-linecap="butt"/>
<line x1="422.26" y1="874.00" x2="422.26" y2="876.80" stroke="#000" stroke-width="1.6" stroke-linecap="butt"/>
<line x1="450.10" y1="874.00" x2="450.10" y2="876.80" stroke="#000" stroke-width="1.6" stroke-linecap="butt"/>
<text x="284.62" y="888.40" font-size="10.0" font-weight="bold" fill="#000">0</text>
<text x="302.30" y="888.70" font-size="10.0" font-weight="bold" textLength="11.12" lengthAdjust="spacingAndGlyphs" fill="#000">10</text>
<text x="313.64" y="885.20" font-size="6.6" font-weight="bold" fill="#000">-4</text>
<text x="330.14" y="888.70" font-size="10.0" font-weight="bold" textLength="11.12" lengthAdjust="spacingAndGlyphs" fill="#000">10</text>
<text x="341.48" y="885.20" font-size="6.6" font-weight="bold" fill="#000">-3</text>
<text x="357.98" y="888.70" font-size="10.0" font-weight="bold" textLength="11.12" lengthAdjust="spacingAndGlyphs" fill="#000">10</text>
<text x="369.32" y="885.20" font-size="6.6" font-weight="bold" fill="#000">-2</text>
<text x="385.82" y="888.70" font-size="10.0" font-weight="bold" textLength="11.12" lengthAdjust="spacingAndGlyphs" fill="#000">10</text>
<text x="397.16" y="885.20" font-size="6.6" font-weight="bold" fill="#000">-1</text>
<text x="413.66" y="888.70" font-size="10.0" font-weight="bold" textLength="11.12" lengthAdjust="spacingAndGlyphs" fill="#000">10</text>
<text x="425.00" y="885.20" font-size="6.6" font-weight="bold" fill="#000">0</text>
<text x="441.50" y="888.70" font-size="10.0" font-weight="bold" textLength="11.12" lengthAdjust="spacingAndGlyphs" fill="#000">10</text>
<text x="452.70" y="885.20" font-size="6.6" font-weight="bold" fill="#000">1</text>
<text x="341.70" y="902.70" font-size="10.0" font-weight="bold" textLength="54.81" lengthAdjust="spacingAndGlyphs" fill="#000">TRAIL [nM]</text>
<text transform="translate(247.50,845.95) rotate(-90)" x="0" y="0" font-size="10.5" font-weight="bold" textLength="55.19" lengthAdjust="spacingAndGlyphs" fill="#000">viable cells</text>
<text transform="translate(259.90,851.47) rotate(-90)" x="0" y="0" font-size="10.5" font-weight="bold" textLength="66.67" lengthAdjust="spacingAndGlyphs" fill="#000">[% of control]</text>
<line x1="288.70" y1="783.18" x2="302.70" y2="783.18" stroke="#f00000" stroke-width="1.8" stroke-linecap="butt"/>
<path d="M310.90,783.18 L312.33,783.19 L313.75,783.20 L315.18,783.21 L316.61,783.22 L318.03,783.23 L319.46,783.24 L320.88,783.26 L322.31,783.27 L323.74,783.29 L325.16,783.31 L326.59,783.33 L328.02,783.35 L329.44,783.38 L330.87,783.41 L332.30,783.44 L333.72,783.47 L335.15,783.51 L336.58,783.55 L338.00,783.59 L339.43,783.64 L340.85,783.70 L342.28,783.76 L343.71,783.83 L345.13,783.90 L346.56,783.99 L347.99,784.08 L349.41,784.18 L350.84,784.29 L352.27,784.41 L353.69,784.54 L355.12,784.69 L356.55,784.85 L357.97,785.03 L359.40,785.23 L360.82,785.44 L362.25,785.68 L363.68,785.94 L365.10,786.22 L366.53,786.53 L367.96,786.87 L369.38,787.24 L370.81,787.65 L372.24,788.09 L373.66,788.57 L375.09,789.09 L376.51,789.66 L377.94,790.27 L379.37,790.94 L380.79,791.65 L382.22,792.42 L383.65,793.25 L385.07,794.13 L386.50,795.07 L387.93,796.08 L389.35,797.15 L390.78,798.27 L392.21,799.46 L393.63,800.71 L395.06,802.01 L396.48,803.37 L397.91,804.78 L399.34,806.24 L400.76,807.73 L402.19,809.26 L403.62,810.81 L405.04,812.39 L406.47,813.97 L407.90,815.57 L409.32,817.15 L410.75,818.73 L412.18,820.29 L413.60,821.82 L415.03,823.31 L416.45,824.77 L417.88,826.18 L419.31,827.54 L420.73,828.85 L422.16,830.10 L423.59,831.29 L425.01,832.42 L426.44,833.49 L427.87,834.50 L429.29,835.45 L430.72,836.34 L432.14,837.17 L433.57,837.94 L435.00,838.66 L436.42,839.32 L437.85,839.94" stroke="#f00000" stroke-width="1.8" fill="none" />
<line x1="288.70" y1="783.37" x2="302.70" y2="783.37" stroke="#f00000" stroke-width="1.8" stroke-dasharray="4.6,2.6" stroke-linecap="butt"/>
<path d="M310.90,783.37 L312.33,783.37 L313.75,783.38 L315.18,783.39 L316.61,783.40 L318.03,783.41 L319.46,783.42 L320.88,783.43 L322.31,783.45 L323.74,783.46 L325.16,783.48 L326.59,783.50 L328.02,783.52 L329.44,783.55 L330.87,783.58 L332.30,783.60 L333.72,783.64 L335.15,783.67 L336.58,783.71 L338.00,783.76 L339.43,783.81 L340.85,783.86 L342.28,783.92 L343.71,783.99 L345.13,784.06 L346.56,784.15 L347.99,784.24 L349.41,784.34 L350.84,784.45 L352.27,784.57 L353.69,784.70 L355.12,784.85 L356.55,785.02 L357.97,785.20 L359.40,785.40 L360.82,785.62 L362.25,785.86 L363.68,786.13 L365.10,786.42 L366.53,786.75 L367.96,787.10 L369.38,787.49 L370.81,787.92 L372.24,788.38 L373.66,788.89 L375.09,789.45 L376.51,790.06 L377.94,790.72 L379.37,791.43 L380.79,792.21 L382.22,793.05 L383.65,793.96 L385.07,794.94 L386.50,795.99 L387.93,797.11 L389.35,798.31 L390.78,799.58 L392.21,800.94 L393.63,802.37 L395.06,803.87 L396.48,805.44 L397.91,807.09 L399.34,808.80 L400.76,810.56 L402.19,812.38 L403.62,814.24 L405.04,816.14 L406.47,818.06 L407.90,819.99 L409.32,821.94 L410.75,823.87 L412.18,825.80 L413.60,827.70 L415.03,829.56 L416.45,831.38 L417.88,833.15 L419.31,834.87 L420.73,836.52 L422.16,838.10 L423.59,839.61 L425.01,841.05 L426.44,842.41 L427.87,843.69 L429.29,844.90 L430.72,846.03 L432.14,847.09 L433.57,848.07 L435.00,848.99 L436.42,849.84 L437.85,850.62" stroke="#f00000" stroke-width="1.8" fill="none" stroke-dasharray="4.6,2.6"/>
<line x1="288.70" y1="784.77" x2="302.70" y2="784.77" stroke="#000" stroke-width="1.8" stroke-linecap="butt"/>
<path d="M310.90,784.77 L312.33,784.89 L313.75,785.02 L315.18,785.16 L316.61,785.31 L318.03,785.47 L319.46,785.64 L320.88,785.83 L322.31,786.03 L323.74,786.24 L325.16,786.48 L326.59,786.73 L328.02,787.00 L329.44,787.29 L330.87,787.60 L332.30,787.94 L333.72,788.30 L335.15,788.68 L336.58,789.09 L338.00,789.54 L339.43,790.01 L340.85,790.52 L342.28,791.06 L343.71,791.63 L345.13,792.24 L346.56,792.90 L347.99,793.59 L349.41,794.32 L350.84,795.10 L352.27,795.93 L353.69,796.80 L355.12,797.71 L356.55,798.68 L357.97,799.69 L359.40,800.75 L360.82,801.86 L362.25,803.02 L363.68,804.22 L365.10,805.47 L366.53,806.77 L367.96,808.11 L369.38,809.49 L370.81,810.91 L372.24,812.36 L373.66,813.84 L375.09,815.35 L376.51,816.88 L377.94,818.43 L379.37,820.00 L380.79,821.57 L382.22,823.15 L383.65,824.73 L385.07,826.30 L386.50,827.86 L387.93,829.41 L389.35,830.93 L390.78,832.43 L392.21,833.90 L393.63,835.34 L395.06,836.74 L396.48,838.11 L397.91,839.43 L399.34,840.71 L400.76,841.94 L402.19,843.13 L403.62,844.27 L405.04,845.36 L406.47,846.40 L407.90,847.40 L409.32,848.34 L410.75,849.24 L412.18,850.09 L413.60,850.90 L415.03,851.66 L416.45,852.38 L417.88,853.06 L419.31,853.69 L420.73,854.29 L422.16,854.85 L423.59,855.38 L425.01,855.87 L426.44,856.33 L427.87,856.77 L429.29,857.17 L430.72,857.54 L432.14,857.89 L433.57,858.22 L435.00,858.52 L436.42,858.81 L437.85,859.07" stroke="#000" stroke-width="1.8" fill="none" />
<line x1="288.70" y1="782.86" x2="302.70" y2="782.86" stroke="#000" stroke-width="1.8" stroke-dasharray="4.6,2.6" stroke-linecap="butt"/>
<path d="M310.90,782.86 L312.33,782.88 L313.75,782.90 L315.18,782.93 L316.61,782.96 L318.03,782.99 L319.46,783.03 L320.88,783.06 L322.31,783.11 L323.74,783.16 L325.16,783.21 L326.59,783.27 L328.02,783.34 L329.44,783.41 L330.87,783.50 L332.30,783.59 L333.72,783.69 L335.15,783.81 L336.58,783.94 L338.00,784.08 L339.43,784.24 L340.85,784.41 L342.28,784.61 L343.71,784.83 L345.13,785.07 L346.56,785.33 L347.99,785.63 L349.41,785.95 L350.84,786.32 L352.27,786.71 L353.69,787.15 L355.12,787.64 L356.55,788.17 L357.97,788.76 L359.40,789.41 L360.82,790.11 L362.25,790.89 L363.68,791.73 L365.10,792.65 L366.53,793.65 L367.96,794.74 L369.38,795.91 L370.81,797.18 L372.24,798.53 L373.66,799.99 L375.09,801.54 L376.51,803.18 L377.94,804.92 L379.37,806.75 L380.79,808.67 L382.22,810.68 L383.65,812.75 L385.07,814.90 L386.50,817.10 L387.93,819.34 L389.35,821.61 L390.78,823.91 L392.21,826.21 L393.63,828.50 L395.06,830.77 L396.48,833.01 L397.91,835.20 L399.34,837.33 L400.76,839.39 L402.19,841.38 L403.62,843.28 L405.04,845.09 L406.47,846.82 L407.90,848.44 L409.32,849.97 L410.75,851.41 L412.18,852.74 L413.60,853.99 L415.03,855.14 L416.45,856.21 L417.88,857.20 L419.31,858.10 L420.73,858.93 L422.16,859.69 L423.59,860.39 L425.01,861.02 L426.44,861.60 L427.87,862.12 L429.29,862.60 L430.72,863.03 L432.14,863.42 L433.57,863.77 L435.00,864.09 L436.42,864.38 L437.85,864.64" stroke="#000" stroke-width="1.8" fill="none" stroke-dasharray="4.6,2.6"/>
<line x1="333.73" y1="781.25" x2="333.73" y2="785.25" stroke="#f00000" stroke-width="1.3" stroke-linecap="butt"/>
<line x1="331.63" y1="781.25" x2="335.83" y2="781.25" stroke="#f00000" stroke-width="1.3" stroke-linecap="butt"/>
<line x1="331.63" y1="785.25" x2="335.83" y2="785.25" stroke="#f00000" stroke-width="1.3" stroke-linecap="butt"/>
<path d="M333.73,780.35 L336.43,785.15 L331.03,785.15 Z" stroke="none" stroke-width="1" fill="#f00000" />
<line x1="346.81" y1="781.25" x2="346.81" y2="785.25" stroke="#f00000" stroke-width="1.3" stroke-linecap="butt"/>
<line x1="344.71" y1="781.25" x2="348.91" y2="781.25" stroke="#f00000" stroke-width="1.3" stroke-linecap="butt"/>
<line x1="344.71" y1="785.25" x2="348.91" y2="785.25" stroke="#f00000" stroke-width="1.3" stroke-linecap="butt"/>
<path d="M346.81,780.35 L349.51,785.15 L344.11,785.15 Z" stroke="none" stroke-width="1" fill="#f00000" />
<line x1="375.21" y1="782.33" x2="375.21" y2="796.33" stroke="#f00000" stroke-width="1.3" stroke-linecap="butt"/>
<line x1="373.11" y1="782.33" x2="377.31" y2="782.33" stroke="#f00000" stroke-width="1.3" stroke-linecap="butt"/>
<line x1="373.11" y1="796.33" x2="377.31" y2="796.33" stroke="#f00000" stroke-width="1.3" stroke-linecap="butt"/>
<path d="M375.21,786.43 L377.91,791.23 L372.51,791.23 Z" stroke="none" stroke-width="1" fill="#f00000" />
<line x1="402.49" y1="805.39" x2="402.49" y2="813.39" stroke="#f00000" stroke-width="1.3" stroke-linecap="butt"/>
<line x1="400.39" y1="805.39" x2="404.59" y2="805.39" stroke="#f00000" stroke-width="1.3" stroke-linecap="butt"/>
<line x1="400.39" y1="813.39" x2="404.59" y2="813.39" stroke="#f00000" stroke-width="1.3" stroke-linecap="butt"/>
<path d="M402.49,806.49 L405.19,811.29 L399.79,811.29 Z" stroke="none" stroke-width="1" fill="#f00000" />
<line x1="415.86" y1="820.72" x2="415.86" y2="828.72" stroke="#f00000" stroke-width="1.3" stroke-linecap="butt"/>
<line x1="413.76" y1="820.72" x2="417.96" y2="820.72" stroke="#f00000" stroke-width="1.3" stroke-linecap="butt"/>
<line x1="413.76" y1="828.72" x2="417.96" y2="828.72" stroke="#f00000" stroke-width="1.3" stroke-linecap="butt"/>
<path d="M415.86,821.82 L418.56,826.62 L413.16,826.62 Z" stroke="none" stroke-width="1" fill="#f00000" />
<line x1="429.50" y1="829.61" x2="429.50" y2="839.61" stroke="#f00000" stroke-width="1.3" stroke-linecap="butt"/>
<line x1="427.40" y1="829.61" x2="431.60" y2="829.61" stroke="#f00000" stroke-width="1.3" stroke-linecap="butt"/>
<line x1="427.40" y1="839.61" x2="431.60" y2="839.61" stroke="#f00000" stroke-width="1.3" stroke-linecap="butt"/>
<path d="M429.50,831.71 L432.20,836.51 L426.80,836.51 Z" stroke="none" stroke-width="1" fill="#f00000" />
<line x1="437.85" y1="837.51" x2="437.85" y2="843.51" stroke="#f00000" stroke-width="1.3" stroke-linecap="butt"/>
<line x1="435.75" y1="837.51" x2="439.95" y2="837.51" stroke="#f00000" stroke-width="1.3" stroke-linecap="butt"/>
<line x1="435.75" y1="843.51" x2="439.95" y2="843.51" stroke="#f00000" stroke-width="1.3" stroke-linecap="butt"/>
<path d="M437.85,837.61 L440.55,842.41 L435.15,842.41 Z" stroke="none" stroke-width="1" fill="#f00000" />
<line x1="333.73" y1="781.16" x2="333.73" y2="787.16" stroke="#f00000" stroke-width="1.3" stroke-linecap="butt"/>
<line x1="331.63" y1="781.16" x2="335.83" y2="781.16" stroke="#f00000" stroke-width="1.3" stroke-linecap="butt"/>
<line x1="331.63" y1="787.16" x2="335.83" y2="787.16" stroke="#f00000" stroke-width="1.3" stroke-linecap="butt"/>
<rect x="331.63" y="782.06" width="4.20" height="4.20" fill="#f00000" stroke="none" stroke-width="1" />
<line x1="346.81" y1="779.61" x2="346.81" y2="785.61" stroke="#f00000" stroke-width="1.3" stroke-linecap="butt"/>
<line x1="344.71" y1="779.61" x2="348.91" y2="779.61" stroke="#f00000" stroke-width="1.3" stroke-linecap="butt"/>
<line x1="344.71" y1="785.61" x2="348.91" y2="785.61" stroke="#f00000" stroke-width="1.3" stroke-linecap="butt"/>
<rect x="344.71" y="780.51" width="4.20" height="4.20" fill="#f00000" stroke="none" stroke-width="1" />
<line x1="375.21" y1="786.69" x2="375.21" y2="792.69" stroke="#f00000" stroke-width="1.3" stroke-linecap="butt"/>
<line x1="373.11" y1="786.69" x2="377.31" y2="786.69" stroke="#f00000" stroke-width="1.3" stroke-linecap="butt"/>
<line x1="373.11" y1="792.69" x2="377.31" y2="792.69" stroke="#f00000" stroke-width="1.3" stroke-linecap="butt"/>
<rect x="373.11" y="787.59" width="4.20" height="4.20" fill="#f00000" stroke="none" stroke-width="1" />
<line x1="402.49" y1="801.74" x2="402.49" y2="823.74" stroke="#f00000" stroke-width="1.3" stroke-linecap="butt"/>
<line x1="400.39" y1="801.74" x2="404.59" y2="801.74" stroke="#f00000" stroke-width="1.3" stroke-linecap="butt"/>
<line x1="400.39" y1="823.74" x2="404.59" y2="823.74" stroke="#f00000" stroke-width="1.3" stroke-linecap="butt"/>
<rect x="400.39" y="810.64" width="4.20" height="4.20" fill="#f00000" stroke="none" stroke-width="1" />
<line x1="415.86" y1="816.89" x2="415.86" y2="844.89" stroke="#f00000" stroke-width="1.3" stroke-linecap="butt"/>
<line x1="413.76" y1="816.89" x2="417.96" y2="816.89" stroke="#f00000" stroke-width="1.3" stroke-linecap="butt"/>
<line x1="413.76" y1="844.89" x2="417.96" y2="844.89" stroke="#f00000" stroke-width="1.3" stroke-linecap="butt"/>
<rect x="413.76" y="828.79" width="4.20" height="4.20" fill="#f00000" stroke="none" stroke-width="1" />
<line x1="429.50" y1="835.42" x2="429.50" y2="853.42" stroke="#f00000" stroke-width="1.3" stroke-linecap="butt"/>
<line x1="427.40" y1="835.42" x2="431.60" y2="835.42" stroke="#f00000" stroke-width="1.3" stroke-linecap="butt"/>
<line x1="427.40" y1="853.42" x2="431.60" y2="853.42" stroke="#f00000" stroke-width="1.3" stroke-linecap="butt"/>
<rect x="427.40" y="842.32" width="4.20" height="4.20" fill="#f00000" stroke="none" stroke-width="1" />
<line x1="437.85" y1="843.04" x2="437.85" y2="859.04" stroke="#f00000" stroke-width="1.3" stroke-linecap="butt"/>
<line x1="435.75" y1="843.04" x2="439.95" y2="843.04" stroke="#f00000" stroke-width="1.3" stroke-linecap="butt"/>
<line x1="435.75" y1="859.04" x2="439.95" y2="859.04" stroke="#f00000" stroke-width="1.3" stroke-linecap="butt"/>
<rect x="435.75" y="848.94" width="4.20" height="4.20" fill="#f00000" stroke="none" stroke-width="1" />
<line x1="333.73" y1="782.16" x2="333.73" y2="786.16" stroke="#000" stroke-width="1.3" stroke-linecap="butt"/>
<line x1="331.63" y1="782.16" x2="335.83" y2="782.16" stroke="#000" stroke-width="1.3" stroke-linecap="butt"/>
<line x1="331.63" y1="786.16" x2="335.83" y2="786.16" stroke="#000" stroke-width="1.3" stroke-linecap="butt"/>
<path d="M333.73,781.26 L336.43,786.06 L331.03,786.06 Z" stroke="none" stroke-width="1" fill="#000" />
<line x1="346.81" y1="789.32" x2="346.81" y2="803.32" stroke="#000" stroke-width="1.3" stroke-linecap="butt"/>
<line x1="344.71" y1="789.32" x2="348.91" y2="789.32" stroke="#000" stroke-width="1.3" stroke-linecap="butt"/>
<line x1="344.71" y1="803.32" x2="348.91" y2="803.32" stroke="#000" stroke-width="1.3" stroke-linecap="butt"/>
<path d="M346.81,793.42 L349.51,798.22 L344.11,798.22 Z" stroke="none" stroke-width="1" fill="#000" />
<line x1="375.21" y1="811.92" x2="375.21" y2="817.92" stroke="#000" stroke-width="1.3" stroke-linecap="butt"/>
<line x1="373.11" y1="811.92" x2="377.31" y2="811.92" stroke="#000" stroke-width="1.3" stroke-linecap="butt"/>
<line x1="373.11" y1="817.92" x2="377.31" y2="817.92" stroke="#000" stroke-width="1.3" stroke-linecap="butt"/>
<path d="M375.21,812.02 L377.91,816.82 L372.51,816.82 Z" stroke="none" stroke-width="1" fill="#000" />
<line x1="402.49" y1="839.33" x2="402.49" y2="845.33" stroke="#000" stroke-width="1.3" stroke-linecap="butt"/>
<line x1="400.39" y1="839.33" x2="404.59" y2="839.33" stroke="#000" stroke-width="1.3" stroke-linecap="butt"/>
<line x1="400.39" y1="845.33" x2="404.59" y2="845.33" stroke="#000" stroke-width="1.3" stroke-linecap="butt"/>
<path d="M402.49,839.43 L405.19,844.23 L399.79,844.23 Z" stroke="none" stroke-width="1" fill="#000" />
<line x1="415.86" y1="851.31" x2="415.86" y2="857.31" stroke="#000" stroke-width="1.3" stroke-linecap="butt"/>
<line x1="413.76" y1="851.31" x2="417.96" y2="851.31" stroke="#000" stroke-width="1.3" stroke-linecap="butt"/>
<line x1="413.76" y1="857.31" x2="417.96" y2="857.31" stroke="#000" stroke-width="1.3" stroke-linecap="butt"/>
<path d="M415.86,851.41 L418.56,856.21 L413.16,856.21 Z" stroke="none" stroke-width="1" fill="#000" />
<line x1="429.50" y1="853.49" x2="429.50" y2="859.49" stroke="#000" stroke-width="1.3" stroke-linecap="butt"/>
<line x1="427.40" y1="853.49" x2="431.60" y2="853.49" stroke="#000" stroke-width="1.3" stroke-linecap="butt"/>
<line x1="427.40" y1="859.49" x2="431.60" y2="859.49" stroke="#000" stroke-width="1.3" stroke-linecap="butt"/>
<path d="M429.50,853.59 L432.20,858.39 L426.80,858.39 Z" stroke="none" stroke-width="1" fill="#000" />
<line x1="437.85" y1="856.66" x2="437.85" y2="860.66" stroke="#000" stroke-width="1.3" stroke-linecap="butt"/>
<line x1="435.75" y1="856.66" x2="439.95" y2="856.66" stroke="#000" stroke-width="1.3" stroke-linecap="butt"/>
<line x1="435.75" y1="860.66" x2="439.95" y2="860.66" stroke="#000" stroke-width="1.3" stroke-linecap="butt"/>
<path d="M437.85,855.76 L440.55,860.56 L435.15,860.56 Z" stroke="none" stroke-width="1" fill="#000" />
<line x1="333.73" y1="778.98" x2="333.73" y2="782.98" stroke="#000" stroke-width="1.3" stroke-linecap="butt"/>
<line x1="331.63" y1="778.98" x2="335.83" y2="778.98" stroke="#000" stroke-width="1.3" stroke-linecap="butt"/>
<line x1="331.63" y1="782.98" x2="335.83" y2="782.98" stroke="#000" stroke-width="1.3" stroke-linecap="butt"/>
<rect x="331.63" y="778.88" width="4.20" height="4.20" fill="#000" stroke="none" stroke-width="1" />
<line x1="346.81" y1="782.88" x2="346.81" y2="786.88" stroke="#000" stroke-width="1.3" stroke-linecap="butt"/>
<line x1="344.71" y1="782.88" x2="348.91" y2="782.88" stroke="#000" stroke-width="1.3" stroke-linecap="butt"/>
<line x1="344.71" y1="786.88" x2="348.91" y2="786.88" stroke="#000" stroke-width="1.3" stroke-linecap="butt"/>
<rect x="344.71" y="782.78" width="4.20" height="4.20" fill="#000" stroke="none" stroke-width="1" />
<line x1="375.21" y1="798.76" x2="375.21" y2="806.76" stroke="#000" stroke-width="1.3" stroke-linecap="butt"/>
<line x1="373.11" y1="798.76" x2="377.31" y2="798.76" stroke="#000" stroke-width="1.3" stroke-linecap="butt"/>
<line x1="373.11" y1="806.76" x2="377.31" y2="806.76" stroke="#000" stroke-width="1.3" stroke-linecap="butt"/>
<rect x="373.11" y="800.66" width="4.20" height="4.20" fill="#000" stroke="none" stroke-width="1" />
<line x1="402.49" y1="831.06" x2="402.49" y2="849.06" stroke="#000" stroke-width="1.3" stroke-linecap="butt"/>
<line x1="400.39" y1="831.06" x2="404.59" y2="831.06" stroke="#000" stroke-width="1.3" stroke-linecap="butt"/>
<line x1="400.39" y1="849.06" x2="404.59" y2="849.06" stroke="#000" stroke-width="1.3" stroke-linecap="butt"/>
<rect x="400.39" y="837.96" width="4.20" height="4.20" fill="#000" stroke="none" stroke-width="1" />
<line x1="415.86" y1="853.57" x2="415.86" y2="861.57" stroke="#000" stroke-width="1.3" stroke-linecap="butt"/>
<line x1="413.76" y1="853.57" x2="417.96" y2="853.57" stroke="#000" stroke-width="1.3" stroke-linecap="butt"/>
<line x1="413.76" y1="861.57" x2="417.96" y2="861.57" stroke="#000" stroke-width="1.3" stroke-linecap="butt"/>
<rect x="413.76" y="855.47" width="4.20" height="4.20" fill="#000" stroke="none" stroke-width="1" />
<line x1="429.50" y1="861.65" x2="429.50" y2="865.65" stroke="#000" stroke-width="1.3" stroke-linecap="butt"/>
<line x1="427.40" y1="861.65" x2="431.60" y2="861.65" stroke="#000" stroke-width="1.3" stroke-linecap="butt"/>
<line x1="427.40" y1="865.65" x2="431.60" y2="865.65" stroke="#000" stroke-width="1.3" stroke-linecap="butt"/>
<rect x="427.40" y="861.55" width="4.20" height="4.20" fill="#000" stroke="none" stroke-width="1" />
<line x1="437.85" y1="861.11" x2="437.85" y2="865.11" stroke="#000" stroke-width="1.3" stroke-linecap="butt"/>
<line x1="435.75" y1="861.11" x2="439.95" y2="861.11" stroke="#000" stroke-width="1.3" stroke-linecap="butt"/>
<line x1="435.75" y1="865.11" x2="439.95" y2="865.11" stroke="#000" stroke-width="1.3" stroke-linecap="butt"/>
<rect x="435.75" y="861.01" width="4.20" height="4.20" fill="#000" stroke="none" stroke-width="1" />
<rect x="285.60" y="781.15" width="4.20" height="4.20" fill="#f00000" stroke="none" stroke-width="1" />
<circle cx="287.70" cy="783.25" r="2.3" fill="#000"/>
<text x="463.21" y="447.10" font-size="12" font-weight="bold" textLength="7.08" lengthAdjust="spacingAndGlyphs" fill="#000">E</text>
<line x1="484.20" y1="454.80" x2="685.00" y2="454.80" stroke="#222" stroke-width="1.4" stroke-linecap="butt"/>
<line x1="484.20" y1="507.40" x2="685.00" y2="507.40" stroke="#222" stroke-width="1.4" stroke-linecap="butt"/>
<line x1="484.20" y1="602.40" x2="685.00" y2="602.40" stroke="#222" stroke-width="1.4" stroke-linecap="butt"/>
<text x="571.69" y="467.20" font-size="9.5" font-weight="bold" textLength="14.55" lengthAdjust="spacingAndGlyphs" fill="#111">not</text>
<text x="552.56" y="479.10" font-size="9.5" font-weight="bold" textLength="53.54" lengthAdjust="spacingAndGlyphs" fill="#111">dissociated</text>
<text x="559.70" y="491.00" font-size="9.5" font-weight="bold" textLength="39.37" lengthAdjust="spacingAndGlyphs" fill="#111">50% cell</text>
<text x="566.00" y="502.70" font-size="9.5" font-weight="bold" textLength="26.62" lengthAdjust="spacingAndGlyphs" fill="#111">death</text>
<text x="646.06" y="467.20" font-size="9.5" font-weight="bold" textLength="9.35" lengthAdjust="spacingAndGlyphs" fill="#111">in</text>
<text x="623.86" y="479.10" font-size="9.5" font-weight="bold" textLength="54.14" lengthAdjust="spacingAndGlyphs" fill="#111">suspension</text>
<text x="631.15" y="491.00" font-size="9.5" font-weight="bold" textLength="39.68" lengthAdjust="spacingAndGlyphs" fill="#111">50% cell</text>
<text x="627.41" y="502.70" font-size="9.5" font-weight="bold" textLength="46.95" lengthAdjust="spacingAndGlyphs" fill="#111">death[nM]</text>
<text x="489.10" y="523.00" font-size="9.6" textLength="31.20" lengthAdjust="spacingAndGlyphs" fill="#111">2D WT</text>
<text x="566.72" y="523.00" font-size="9.6" textLength="25.10" lengthAdjust="spacingAndGlyphs" fill="#111">0.067</text>
<text x="638.32" y="523.00" font-size="9.6" textLength="25.10" lengthAdjust="spacingAndGlyphs" fill="#111">0.077</text>
<text x="489.20" y="546.90" font-size="9.6" textLength="31.20" lengthAdjust="spacingAndGlyphs" fill="#111">3D WT</text>
<text x="566.49" y="546.90" font-size="9.6" textLength="25.10" lengthAdjust="spacingAndGlyphs" fill="#111">1.073</text>
<text x="638.26" y="546.90" font-size="9.6" textLength="25.10" lengthAdjust="spacingAndGlyphs" fill="#111">0.013</text>
<text x="489.10" y="570.80" font-size="9.6" textLength="43.29" lengthAdjust="spacingAndGlyphs" fill="#111">2D T2 k/o</text>
<text x="566.72" y="570.80" font-size="9.6" textLength="25.10" lengthAdjust="spacingAndGlyphs" fill="#111">0.222</text>
<text x="638.26" y="570.80" font-size="9.6" textLength="25.10" lengthAdjust="spacingAndGlyphs" fill="#111">0.718</text>
<text x="489.20" y="594.80" font-size="9.6" textLength="43.29" lengthAdjust="spacingAndGlyphs" fill="#111">3D T2 k/o</text>
<text x="577.52" y="594.80" font-size="9.6" textLength="3.34" lengthAdjust="spacingAndGlyphs" fill="#111">-</text>
<text x="649.12" y="594.80" font-size="9.6" textLength="3.34" lengthAdjust="spacingAndGlyphs" fill="#111">-</text>
<text x="471.71" y="721.40" font-size="12" font-weight="bold" textLength="8.81" lengthAdjust="spacingAndGlyphs" fill="#000">H</text>
<line x1="484.20" y1="731.90" x2="685.00" y2="731.90" stroke="#222" stroke-width="1.4" stroke-linecap="butt"/>
<line x1="484.20" y1="779.40" x2="685.00" y2="779.40" stroke="#222" stroke-width="1.4" stroke-linecap="butt"/>
<line x1="484.20" y1="874.40" x2="685.00" y2="874.40" stroke="#222" stroke-width="1.4" stroke-linecap="butt"/>
<text x="569.79" y="747.20" font-size="9.5" font-weight="bold" textLength="14.55" lengthAdjust="spacingAndGlyphs" fill="#111">not</text>
<text x="550.61" y="759.40" font-size="9.5" font-weight="bold" textLength="53.64" lengthAdjust="spacingAndGlyphs" fill="#111">dissociated</text>
<text x="555.50" y="771.60" font-size="9.2" font-weight="bold" fill="#111" transform="translate(555.50,0) scale(1.053,1) translate(-555.50,0)">EC<tspan font-size="6.0" dy="2.2">50</tspan><tspan dy="-2.2"> [nM]</tspan></text>
<text x="644.46" y="747.20" font-size="9.5" font-weight="bold" textLength="9.35" lengthAdjust="spacingAndGlyphs" fill="#111">in</text>
<text x="622.26" y="759.40" font-size="9.5" font-weight="bold" textLength="54.14" lengthAdjust="spacingAndGlyphs" fill="#111">suspension</text>
<text x="627.40" y="771.60" font-size="9.2" font-weight="bold" fill="#111" transform="translate(627.40,0) scale(1.053,1) translate(-627.40,0)">EC<tspan font-size="6.0" dy="2.2">50</tspan><tspan dy="-2.2"> [nM]</tspan></text>
<text x="489.10" y="795.40" font-size="9.6" textLength="31.20" lengthAdjust="spacingAndGlyphs" fill="#111">2D WT</text>
<text x="564.79" y="795.40" font-size="9.6" textLength="25.10" lengthAdjust="spacingAndGlyphs" fill="#111">0.129</text>
<text x="636.72" y="795.40" font-size="9.6" textLength="25.10" lengthAdjust="spacingAndGlyphs" fill="#111">0.077</text>
<text x="489.20" y="819.30" font-size="9.6" textLength="31.20" lengthAdjust="spacingAndGlyphs" fill="#111">3D WT</text>
<text x="564.76" y="819.30" font-size="9.6" textLength="25.10" lengthAdjust="spacingAndGlyphs" fill="#111">0.905</text>
<text x="636.67" y="819.30" font-size="9.6" textLength="25.10" lengthAdjust="spacingAndGlyphs" fill="#111">0.035</text>
<text x="489.10" y="843.20" font-size="9.6" textLength="43.29" lengthAdjust="spacingAndGlyphs" fill="#111">2D T2 k/o</text>
<text x="564.79" y="843.20" font-size="9.6" textLength="25.10" lengthAdjust="spacingAndGlyphs" fill="#111">0.859</text>
<text x="639.47" y="843.20" font-size="9.6" textLength="19.52" lengthAdjust="spacingAndGlyphs" fill="#111">0.31</text>
<text x="489.20" y="866.90" font-size="9.6" textLength="43.29" lengthAdjust="spacingAndGlyphs" fill="#111">3D T2 k/o</text>
<text x="564.76" y="866.90" font-size="9.6" textLength="25.10" lengthAdjust="spacingAndGlyphs" fill="#111">2.327</text>
<text x="636.72" y="866.90" font-size="9.6" textLength="25.10" lengthAdjust="spacingAndGlyphs" fill="#111">0.297</text></svg>
</body></html>
